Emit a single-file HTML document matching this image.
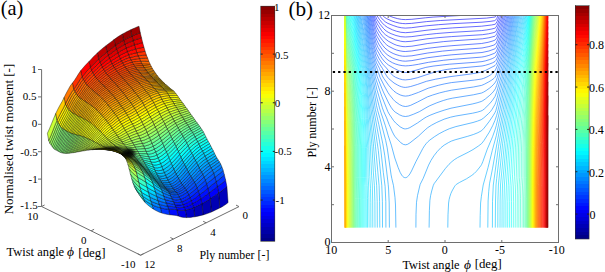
<!DOCTYPE html>
<html><head><meta charset="utf-8"><style>
html,body{margin:0;padding:0;background:#fff;width:605px;height:272px;overflow:hidden}
svg{display:block}
text{font-family:"Liberation Serif", serif;fill:#000}
</style></head><body>
<svg width="605" height="272" viewBox="0 0 605 272" xmlns="http://www.w3.org/2000/svg">
<g stroke="#000" stroke-width="0.4" stroke-linejoin="round"><path d="M150.2 64.3 151.4 66.6 149.3 66.4 147.2 66.1 145.2 65.9 143.1 65.9 141.8 63.8 143.9 63.8 146 63.9 148.1 64.1Z" fill="#ff7500"/><path d="M148.9 61.4 150.2 64.3 148.1 64.1 146 63.9 143.9 63.8 141.8 63.8 140.6 61.3 142.7 61.2 144.8 61.2 146.8 61.3Z" fill="#ff6700"/><path d="M151.4 66.6 152.6 68.8 150.6 68.4 148.5 68.1 146.4 67.9 144.3 67.7 143.1 65.9 145.2 65.9 147.2 66.1 149.3 66.4Z" fill="#ff8100"/><path d="M147.7 58.2 148.9 61.4 146.8 61.3 144.8 61.2 142.7 61.2 140.6 61.3 139.4 58.6 141.4 58.4 143.5 58.3 145.6 58.2Z" fill="#ff5700"/><path d="M146.4 55.1 147.7 58.2 145.6 58.2 143.5 58.3 141.4 58.4 139.4 58.6 138.1 55.9 140.2 55.6 142.3 55.4 144.4 55.2Z" fill="#ff4500"/><path d="M152.6 68.8 153.9 70.7 151.8 70.3 149.7 70 147.6 69.7 145.5 69.5 144.3 67.7 146.4 67.9 148.5 68.1 150.6 68.4Z" fill="#ff8b00"/><path d="M153.9 70.7 155.1 72.5 153 72.1 150.9 71.7 148.9 71.3 146.8 71.1 145.5 69.5 147.6 69.7 149.7 70 151.8 70.3Z" fill="#ff9300"/><path d="M145.2 51.4 146.4 55.1 144.4 55.2 142.3 55.4 140.2 55.6 138.1 55.9 136.9 52.7 139 52.2 141 51.9 143.1 51.6Z" fill="#ff3200"/><path d="M155.1 72.5 156.3 74.3 154.3 73.8 152.2 73.4 150.1 73 148 72.7 146.8 71.1 148.9 71.3 150.9 71.7 153 72.1Z" fill="#ff9c00"/><path d="M144 47.3 145.2 51.4 143.1 51.6 141 51.9 139 52.2 136.9 52.7 135.6 49 137.7 48.5 139.8 48 141.9 47.6Z" fill="#ff1b00"/><path d="M156.3 74.3 157.6 76 155.5 75.4 153.4 75 151.3 74.5 149.3 74.2 148 72.7 150.1 73 152.2 73.4 154.3 73.8Z" fill="#ffa300"/><path d="M157.6 76 158.8 77.5 156.7 77 154.7 76.5 152.6 76 150.5 75.6 149.3 74.2 151.3 74.5 153.4 75 155.5 75.4Z" fill="#ffaa00"/><path d="M142.7 42.7 144 47.3 141.9 47.6 139.8 48 137.7 48.5 135.6 49 134.4 45 136.5 44.3 138.6 43.7 140.7 43.2Z" fill="#ff0000"/><path d="M158.8 77.5 160.1 78.9 158 78.4 155.9 77.8 153.8 77.4 151.7 77 150.5 75.6 152.6 76 154.7 76.5 156.7 77Z" fill="#ffb100"/><path d="M160.1 78.9 161.3 80.2 159.2 79.7 157.1 79.1 155.1 78.7 153 78.3 151.7 77 153.8 77.4 155.9 77.8 158 78.4Z" fill="#ffb600"/><path d="M141.5 37.8 142.7 42.7 140.7 43.2 138.6 43.7 136.5 44.3 134.4 45 133.2 40.7 135.3 39.8 137.3 39.1 139.4 38.5Z" fill="#e20000"/><path d="M161.3 80.2 162.5 81.4 160.5 80.9 158.4 80.3 156.3 79.9 154.2 79.5 153 78.3 155.1 78.7 157.1 79.1 159.2 79.7Z" fill="#ffbb00"/><path d="M162.5 81.4 163.8 82.6 161.7 82 159.6 81.5 157.5 81.1 155.4 80.7 154.2 79.5 156.3 79.9 158.4 80.3 160.5 80.9Z" fill="#ffbf00"/><path d="M140.3 32.8 141.5 37.8 139.4 38.5 137.3 39.1 135.3 39.8 133.2 40.7 131.9 36.1 134 35.1 136.1 34.3 138.2 33.5Z" fill="#c30000"/><path d="M163.8 82.6 165 83.7 162.9 83.2 160.8 82.7 158.8 82.3 156.7 81.9 155.4 80.7 157.5 81.1 159.6 81.5 161.7 82Z" fill="#ffc400"/><path d="M165 83.7 166.2 84.9 164.2 84.4 162.1 83.9 160 83.5 157.9 83.2 156.7 81.9 158.8 82.3 160.8 82.7 162.9 83.2Z" fill="#ffc800"/><path d="M139 26.2 140.3 32.8 138.2 33.5 136.1 34.3 134 35.1 131.9 36.1 130.7 29.8 132.8 28.8 134.9 27.9 136.9 27Z" fill="#9d0000"/><path d="M166.2 84.9 167.5 86 165.4 85.6 163.3 85.2 161.2 84.8 159.2 84.5 157.9 83.2 160 83.5 162.1 83.9 164.2 84.4Z" fill="#ffcd00"/><path d="M167.5 86 168.7 87.1 166.6 86.7 164.6 86.4 162.5 86 160.4 85.8 159.2 84.5 161.2 84.8 163.3 85.2 165.4 85.6Z" fill="#ffd100"/><path d="M168.7 87.1 170 88.2 167.9 87.9 165.8 87.5 163.7 87.3 161.6 87 160.4 85.8 162.5 86 164.6 86.4 166.6 86.7Z" fill="#ffd600"/><path d="M170 88.2 171.2 89.2 169.1 88.9 167 88.7 165 88.4 162.9 88.3 161.6 87 163.7 87.3 165.8 87.5 167.9 87.9Z" fill="#ffda00"/><path d="M139.4 58.6 140.6 61.3 138.5 61.5 136.4 61.7 134.4 61.9 132.3 62.4 131 60 133.1 59.5 135.2 59.1 137.3 58.8Z" fill="#ff3c00"/><path d="M140.6 61.3 141.8 63.8 139.8 63.9 137.7 64 135.6 64.2 133.5 64.5 132.3 62.4 134.4 61.9 136.4 61.7 138.5 61.5Z" fill="#ff4a00"/><path d="M138.1 55.9 139.4 58.6 137.3 58.8 135.2 59.1 133.1 59.5 131 60 129.8 57.7 131.9 57.1 134 56.6 136 56.2Z" fill="#ff2e00"/><path d="M141.8 63.8 143.1 65.9 141 65.9 138.9 65.9 136.8 66 134.7 66.3 133.5 64.5 135.6 64.2 137.7 64 139.8 63.9Z" fill="#ff5600"/><path d="M136.9 52.7 138.1 55.9 136 56.2 134 56.6 131.9 57.1 129.8 57.7 128.6 54.9 130.6 54.2 132.7 53.7 134.8 53.1Z" fill="#ff1e00"/><path d="M143.1 65.9 144.3 67.7 142.2 67.7 140.1 67.7 138.1 67.8 136 68 134.7 66.3 136.8 66 138.9 65.9 141 65.9Z" fill="#ff5f00"/><path d="M171.2 89.2 172.4 90.1 170.4 89.9 168.3 89.7 166.2 89.5 164.1 89.4 162.9 88.3 165 88.4 167 88.7 169.1 88.9Z" fill="#ffdd00"/><path d="M135.6 49 136.9 52.7 134.8 53.1 132.7 53.7 130.6 54.2 128.6 54.9 127.3 51.7 129.4 50.9 131.5 50.2 133.6 49.6Z" fill="#ff0a00"/><path d="M144.3 67.7 145.5 69.5 143.5 69.3 141.4 69.3 139.3 69.3 137.2 69.6 136 68 138.1 67.8 140.1 67.7 142.2 67.7Z" fill="#ff6700"/><path d="M134.4 45 135.6 49 133.6 49.6 131.5 50.2 129.4 50.9 127.3 51.7 126.1 48.2 128.2 47.3 130.2 46.5 132.3 45.7Z" fill="#f20000"/><path d="M172.4 90.1 173.7 91 171.6 90.9 169.5 90.8 167.4 90.7 165.3 90.6 164.1 89.4 166.2 89.5 168.3 89.7 170.4 89.9Z" fill="#ffe000"/><path d="M145.5 69.5 146.8 71.1 144.7 70.9 142.6 70.8 140.5 70.8 138.5 71 137.2 69.6 139.3 69.3 141.4 69.3 143.5 69.3Z" fill="#ff6f00"/><path d="M226.9 186.5 228.1 202.6 226 204.2 224 205.6 221.9 206.9 219.8 207.9 218.6 193 220.6 191.6 222.7 190.1 224.8 188.3Z" fill="#0000bc"/><path d="M146.8 71.1 148 72.7 145.9 72.4 143.9 72.3 141.8 72.3 139.7 72.5 138.5 71 140.5 70.8 142.6 70.8 144.7 70.9Z" fill="#ff7600"/><path d="M173.7 91 174.9 92.2 172.8 92.2 170.7 92.1 168.7 92.1 166.6 92 165.3 90.6 167.4 90.7 169.5 90.8 171.6 90.9Z" fill="#ffe500"/><path d="M133.2 40.7 134.4 45 132.3 45.7 130.2 46.5 128.2 47.3 126.1 48.2 124.8 44.3 126.9 43.3 129 42.4 131.1 41.5Z" fill="#d90000"/><path d="M148 72.7 149.3 74.2 147.2 73.9 145.1 73.8 143 73.8 140.9 73.9 139.7 72.5 141.8 72.3 143.9 72.3 145.9 72.4Z" fill="#ff7c00"/><path d="M174.9 92.2 176.1 93.8 174.1 93.8 172 93.8 169.9 93.8 167.8 93.8 166.6 92 168.7 92.1 170.7 92.1 172.8 92.2Z" fill="#ffeb00"/><path d="M176.1 93.8 177.4 95.5 175.3 95.6 173.2 95.7 171.1 95.7 169.1 95.8 167.8 93.8 169.9 93.8 172 93.8 174.1 93.8Z" fill="#fff400"/><path d="M149.3 74.2 150.5 75.6 148.4 75.4 146.3 75.2 144.3 75.2 142.2 75.3 140.9 73.9 143 73.8 145.1 73.8 147.2 73.9Z" fill="#ff8300"/><path d="M131.9 36.1 133.2 40.7 131.1 41.5 129 42.4 126.9 43.3 124.8 44.3 123.6 40.2 125.7 39.1 127.8 38.1 129.9 37.1Z" fill="#be0000"/><path d="M177.4 95.5 178.6 97.3 176.5 97.5 174.5 97.6 172.4 97.7 170.3 97.9 169.1 95.8 171.1 95.7 173.2 95.7 175.3 95.6Z" fill="#fffe00"/><path d="M178.6 97.3 179.9 99.1 177.8 99.3 175.7 99.5 173.6 99.6 171.5 99.8 170.3 97.9 172.4 97.7 174.5 97.6 176.5 97.5Z" fill="#f7ff08"/><path d="M150.5 75.6 151.7 77 149.7 76.7 147.6 76.6 145.5 76.5 143.4 76.6 142.2 75.3 144.3 75.2 146.3 75.2 148.4 75.4Z" fill="#ff8800"/><path d="M179.9 99.1 181.1 100.7 179 101 176.9 101.2 174.9 101.5 172.8 101.7 171.5 99.8 173.6 99.6 175.7 99.5 177.8 99.3Z" fill="#edff12"/><path d="M151.7 77 153 78.3 150.9 78 148.8 77.8 146.7 77.8 144.6 77.9 143.4 76.6 145.5 76.5 147.6 76.6 149.7 76.7Z" fill="#ff8e00"/><path d="M181.1 100.7 182.3 102.4 180.3 102.7 178.2 103 176.1 103.3 174 103.7 172.8 101.7 174.9 101.5 176.9 101.2 179 101Z" fill="#e5ff1a"/><path d="M182.3 102.4 183.6 104 181.5 104.4 179.4 104.8 177.3 105.2 175.2 105.6 174 103.7 176.1 103.3 178.2 103 180.3 102.7Z" fill="#dcff23"/><path d="M130.7 29.8 131.9 36.1 129.9 37.1 127.8 38.1 125.7 39.1 123.6 40.2 122.4 34 124.5 32.9 126.5 31.8 128.6 30.8Z" fill="#9a0000"/><path d="M153 78.3 154.2 79.5 152.1 79.2 150 79.1 148 79 145.9 79.2 144.6 77.9 146.7 77.8 148.8 77.8 150.9 78Z" fill="#ff9300"/><path d="M183.6 104 184.8 105.7 182.7 106.2 180.6 106.6 178.6 107.1 176.5 107.5 175.2 105.6 177.3 105.2 179.4 104.8 181.5 104.4Z" fill="#d3ff2c"/><path d="M184.8 105.7 186 107.4 184 107.9 181.9 108.5 179.8 109 177.7 109.5 176.5 107.5 178.6 107.1 180.6 106.6 182.7 106.2Z" fill="#caff35"/><path d="M154.2 79.5 155.4 80.7 153.4 80.4 151.3 80.3 149.2 80.3 147.1 80.4 145.9 79.2 148 79 150 79.1 152.1 79.2Z" fill="#ff9700"/><path d="M186 107.4 187.3 109.1 185.2 109.7 183.1 110.3 181 110.9 179 111.5 177.7 109.5 179.8 109 181.9 108.5 184 107.9Z" fill="#c0ff3f"/><path d="M187.3 109.1 188.5 110.9 186.4 111.5 184.4 112.2 182.3 112.8 180.2 113.5 179 111.5 181 110.9 183.1 110.3 185.2 109.7Z" fill="#b7ff48"/><path d="M155.4 80.7 156.7 81.9 154.6 81.7 152.5 81.6 150.4 81.6 148.4 81.7 147.1 80.4 149.2 80.3 151.3 80.3 153.4 80.4Z" fill="#ff9c00"/><path d="M225.6 179.9 226.9 186.5 224.8 188.3 222.7 190.1 220.6 191.6 218.6 193 217.3 186.7 219.4 185.2 221.5 183.6 223.6 181.8Z" fill="#000cff"/><path d="M188.5 110.9 189.8 112.6 187.7 113.4 185.6 114.1 183.5 114.8 181.4 115.5 180.2 113.5 182.3 112.8 184.4 112.2 186.4 111.5Z" fill="#adff52"/><path d="M189.8 112.6 191 114.4 188.9 115.2 186.8 116 184.8 116.7 182.7 117.4 181.4 115.5 183.5 114.8 185.6 114.1 187.7 113.4Z" fill="#a4ff5b"/><path d="M156.7 81.9 157.9 83.2 155.8 83 153.8 82.9 151.7 82.9 149.6 83.1 148.4 81.7 150.4 81.6 152.5 81.6 154.6 81.7Z" fill="#ffa100"/><path d="M191 114.4 192.2 116.1 190.2 117 188.1 117.8 186 118.6 183.9 119.4 182.7 117.4 184.8 116.7 186.8 116 188.9 115.2Z" fill="#9aff65"/><path d="M192.2 116.1 193.5 117.8 191.4 118.7 189.3 119.6 187.2 120.5 185.1 121.3 183.9 119.4 186 118.6 188.1 117.8 190.2 117Z" fill="#91ff6e"/><path d="M157.9 83.2 159.2 84.5 157.1 84.3 155 84.2 152.9 84.3 150.8 84.5 149.6 83.1 151.7 82.9 153.8 82.9 155.8 83Z" fill="#ffa700"/><path d="M193.5 117.8 194.7 119.5 192.6 120.5 190.5 121.4 188.5 122.3 186.4 123.2 185.1 121.3 187.2 120.5 189.3 119.6 191.4 118.7Z" fill="#88ff77"/><path d="M128.6 54.9 129.8 57.7 127.7 58.4 125.6 59.2 123.6 60.2 121.5 61.2 120.2 58.8 122.3 57.7 124.4 56.6 126.5 55.7Z" fill="#ff1300"/><path d="M218.6 193 219.8 207.9 217.7 209 215.6 210 213.6 211 211.5 212 210.2 198.7 212.3 197.3 214.4 195.9 216.5 194.4Z" fill="#0000b3"/><path d="M129.8 57.7 131 60 129 60.6 126.9 61.4 124.8 62.2 122.7 63.2 121.5 61.2 123.6 60.2 125.6 59.2 127.7 58.4Z" fill="#ff2100"/><path d="M194.7 119.5 195.9 121.2 193.9 122.2 191.8 123.2 189.7 124.2 187.6 125.1 186.4 123.2 188.5 122.3 190.5 121.4 192.6 120.5Z" fill="#7fff80"/><path d="M224.4 174.9 225.6 179.9 223.6 181.8 221.5 183.6 219.4 185.2 217.3 186.7 216.1 181.7 218.2 180.2 220.2 178.6 222.3 176.8Z" fill="#0032ff"/><path d="M159.2 84.5 160.4 85.8 158.3 85.6 156.2 85.6 154.2 85.7 152.1 85.9 150.8 84.5 152.9 84.3 155 84.2 157.1 84.3Z" fill="#ffac00"/><path d="M131 60 132.3 62.4 130.2 62.9 128.1 63.6 126 64.4 123.9 65.3 122.7 63.2 124.8 62.2 126.9 61.4 129 60.6Z" fill="#ff2d00"/><path d="M127.3 51.7 128.6 54.9 126.5 55.7 124.4 56.6 122.3 57.7 120.2 58.8 119 56 121.1 54.7 123.2 53.6 125.2 52.6Z" fill="#ff0300"/><path d="M132.3 62.4 133.5 64.5 131.4 65 129.3 65.6 127.3 66.4 125.2 67.2 123.9 65.3 126 64.4 128.1 63.6 130.2 62.9Z" fill="#ff3800"/><path d="M195.9 121.2 197.2 122.9 195.1 124 193 125 190.9 126 188.9 127 187.6 125.1 189.7 124.2 191.8 123.2 193.9 122.2Z" fill="#76ff89"/><path d="M126.1 48.2 127.3 51.7 125.2 52.6 123.2 53.6 121.1 54.7 119 56 117.8 52.8 119.8 51.5 121.9 50.3 124 49.2Z" fill="#ee0000"/><path d="M133.5 64.5 134.7 66.3 132.7 66.8 130.6 67.4 128.5 68 126.4 68.9 125.2 67.2 127.3 66.4 129.3 65.6 131.4 65Z" fill="#ff4200"/><path d="M160.4 85.8 161.6 87 159.6 86.9 157.5 86.9 155.4 87 153.3 87.3 152.1 85.9 154.2 85.7 156.2 85.6 158.3 85.6Z" fill="#ffb200"/><path d="M197.2 122.9 198.4 124.6 196.3 125.7 194.3 126.8 192.2 127.9 190.1 128.9 188.9 127 190.9 126 193 125 195.1 124Z" fill="#6dff92"/><path d="M134.7 66.3 136 68 133.9 68.4 131.8 69 129.7 69.6 127.7 70.4 126.4 68.9 128.5 68 130.6 67.4 132.7 66.8Z" fill="#ff4a00"/><path d="M198.4 124.6 199.7 126.3 197.6 127.4 195.5 128.6 193.4 129.6 191.3 130.7 190.1 128.9 192.2 127.9 194.3 126.8 196.3 125.7Z" fill="#64ff9b"/><path d="M124.8 44.3 126.1 48.2 124 49.2 121.9 50.3 119.8 51.5 117.8 52.8 116.5 49.4 118.6 48 120.7 46.7 122.8 45.5Z" fill="#d90000"/><path d="M161.6 87 162.9 88.3 160.8 88.2 158.7 88.2 156.6 88.4 154.5 88.7 153.3 87.3 155.4 87 157.5 86.9 159.6 86.9Z" fill="#ffb700"/><path d="M223.2 170.4 224.4 174.9 222.3 176.8 220.2 178.6 218.2 180.2 216.1 181.7 214.8 177.2 216.9 175.7 219 174.1 221.1 172.3Z" fill="#0051ff"/><path d="M199.7 126.3 200.9 128 198.8 129.2 196.7 130.4 194.7 131.5 192.6 132.6 191.3 130.7 193.4 129.6 195.5 128.6 197.6 127.4Z" fill="#5cffa3"/><path d="M136 68 137.2 69.6 135.1 69.9 133.1 70.4 131 71.1 128.9 71.9 127.7 70.4 129.7 69.6 131.8 69 133.9 68.4Z" fill="#ff5100"/><path d="M200.9 128 202.1 129.9 200.1 131.1 198 132.3 195.9 133.4 193.8 134.6 192.6 132.6 194.7 131.5 196.7 130.4 198.8 129.2Z" fill="#52ffad"/><path d="M123.6 40.2 124.8 44.3 122.8 45.5 120.7 46.7 118.6 48 116.5 49.4 115.3 45.7 117.4 44.2 119.4 42.8 121.5 41.5Z" fill="#c10000"/><path d="M162.9 88.3 164.1 89.4 162 89.4 159.9 89.5 157.9 89.7 155.8 90.1 154.5 88.7 156.6 88.4 158.7 88.2 160.8 88.2Z" fill="#ffbc00"/><path d="M202.1 129.9 203.4 131.9 201.3 133.2 199.2 134.4 197.1 135.6 195 136.8 193.8 134.6 195.9 133.4 198 132.3 200.1 131.1Z" fill="#47ffb8"/><path d="M137.2 69.6 138.5 71 136.4 71.4 134.3 71.9 132.2 72.5 130.1 73.3 128.9 71.9 131 71.1 133.1 70.4 135.1 69.9Z" fill="#ff5700"/><path d="M203.4 131.9 204.6 134.3 202.5 135.5 200.4 136.8 198.4 138 196.3 139.2 195 136.8 197.1 135.6 199.2 134.4 201.3 133.2Z" fill="#3bffc4"/><path d="M205.8 136.7 207.1 139.2 205 140.5 202.9 141.7 200.8 142.9 198.8 144.2 197.5 141.7 199.6 140.5 201.7 139.3 203.8 138Z" fill="#1fffe0"/><path d="M204.6 134.3 205.8 136.7 203.8 138 201.7 139.3 199.6 140.5 197.5 141.7 196.3 139.2 198.4 138 200.4 136.8 202.5 135.5Z" fill="#2dffd2"/><path d="M207.1 139.2 208.3 141.5 206.2 142.8 204.2 144 202.1 145.3 200 146.5 198.8 144.2 200.8 142.9 202.9 141.7 205 140.5Z" fill="#12ffed"/><path d="M208.3 141.5 209.6 143.7 207.5 145 205.4 146.3 203.3 147.6 201.2 148.8 200 146.5 202.1 145.3 204.2 144 206.2 142.8Z" fill="#05fffa"/><path d="M221.9 166.8 223.2 170.4 221.1 172.3 219 174.1 216.9 175.7 214.8 177.2 213.6 173.4 215.7 171.9 217.8 170.3 219.9 168.6Z" fill="#006cff"/><path d="M209.6 143.7 210.8 146 208.7 147.3 206.6 148.6 204.6 149.9 202.5 151.1 201.2 148.8 203.3 147.6 205.4 146.3 207.5 145Z" fill="#00f7ff"/><path d="M214.5 153.3 215.7 155.7 213.7 157.1 211.6 158.5 209.5 159.8 207.4 161.1 206.2 158.6 208.3 157.3 210.3 156 212.4 154.7Z" fill="#00c0ff"/><path d="M215.7 155.7 217 158 214.9 159.4 212.8 160.8 210.7 162.2 208.7 163.4 207.4 161.1 209.5 159.8 211.6 158.5 213.7 157.1Z" fill="#00b3ff"/><path d="M213.3 150.8 214.5 153.3 212.4 154.7 210.3 156 208.3 157.3 206.2 158.6 204.9 156 207 154.8 209.1 153.5 211.2 152.1Z" fill="#00ceff"/><path d="M210.8 146 212 148.3 210 149.7 207.9 151 205.8 152.3 203.7 153.5 202.5 151.1 204.6 149.9 206.6 148.6 208.7 147.3Z" fill="#00eaff"/><path d="M212 148.3 213.3 150.8 211.2 152.1 209.1 153.5 207 154.8 204.9 156 203.7 153.5 205.8 152.3 207.9 151 210 149.7Z" fill="#00ddff"/><path d="M217 158 218.2 160 216.1 161.5 214.1 162.9 212 164.3 209.9 165.6 208.7 163.4 210.7 162.2 212.8 160.8 214.9 159.4Z" fill="#00a7ff"/><path d="M164.1 89.4 165.3 90.6 163.3 90.6 161.2 90.8 159.1 91 157 91.5 155.8 90.1 157.9 89.7 159.9 89.5 162 89.4Z" fill="#ffc100"/><path d="M138.5 71 139.7 72.5 137.6 72.8 135.5 73.3 133.5 73.9 131.4 74.7 130.1 73.3 132.2 72.5 134.3 71.9 136.4 71.4Z" fill="#ff5e00"/><path d="M218.2 160 219.5 161.9 217.4 163.5 215.3 165 213.2 166.5 211.1 167.8 209.9 165.6 212 164.3 214.1 162.9 216.1 161.5Z" fill="#009bff"/><path d="M220.7 164.1 221.9 166.8 219.9 168.6 217.8 170.3 215.7 171.9 213.6 173.4 212.4 170.4 214.5 168.9 216.5 167.4 218.6 165.8Z" fill="#0080ff"/><path d="M219.5 161.9 220.7 164.1 218.6 165.8 216.5 167.4 214.5 168.9 212.4 170.4 211.1 167.8 213.2 166.5 215.3 165 217.4 163.5Z" fill="#008fff"/><path d="M165.3 90.6 166.6 92 164.5 92.1 162.4 92.3 160.3 92.6 158.3 93.1 157 91.5 159.1 91 161.2 90.8 163.3 90.6Z" fill="#ffc700"/><path d="M139.7 72.5 140.9 73.9 138.9 74.2 136.8 74.7 134.7 75.3 132.6 76.1 131.4 74.7 133.5 73.9 135.5 73.3 137.6 72.8Z" fill="#ff6400"/><path d="M122.4 34 123.6 40.2 121.5 41.5 119.4 42.8 117.4 44.2 115.3 45.7 114 39.6 116.1 38.1 118.2 36.6 120.3 35.3Z" fill="#9f0000"/><path d="M166.6 92 167.8 93.8 165.7 94 163.7 94.2 161.6 94.6 159.5 95 158.3 93.1 160.3 92.6 162.4 92.3 164.5 92.1Z" fill="#ffd000"/><path d="M140.9 73.9 142.2 75.3 140.1 75.6 138 76.1 135.9 76.7 133.8 77.5 132.6 76.1 134.7 75.3 136.8 74.7 138.9 74.2Z" fill="#ff6a00"/><path d="M167.8 93.8 169.1 95.8 167 96 164.9 96.3 162.8 96.7 160.7 97.2 159.5 95 161.6 94.6 163.7 94.2 165.7 94Z" fill="#ffda00"/><path d="M169.1 95.8 170.3 97.9 168.2 98.1 166.1 98.4 164.1 98.8 162 99.4 160.7 97.2 162.8 96.7 164.9 96.3 167 96Z" fill="#ffe500"/><path d="M217.3 186.7 218.6 193 216.5 194.4 214.4 195.9 212.3 197.3 210.2 198.7 209 192.9 211.1 191.4 213.2 189.8 215.2 188.2Z" fill="#0000fb"/><path d="M170.3 97.9 171.5 99.8 169.5 100.1 167.4 100.5 165.3 101 163.2 101.6 162 99.4 164.1 98.8 166.1 98.4 168.2 98.1Z" fill="#fff000"/><path d="M142.2 75.3 143.4 76.6 141.3 76.9 139.2 77.4 137.2 78 135.1 78.8 133.8 77.5 135.9 76.7 138 76.1 140.1 75.6Z" fill="#ff6f00"/><path d="M171.5 99.8 172.8 101.7 170.7 102.1 168.6 102.5 166.5 103 164.4 103.7 163.2 101.6 165.3 101 167.4 100.5 169.5 100.1Z" fill="#fffb00"/><path d="M172.8 101.7 174 103.7 171.9 104.1 169.8 104.5 167.8 105.1 165.7 105.8 164.4 103.7 166.5 103 168.6 102.5 170.7 102.1Z" fill="#f8ff07"/><path d="M174 103.7 175.2 105.6 173.2 106 171.1 106.6 169 107.2 166.9 107.9 165.7 105.8 167.8 105.1 169.8 104.5 171.9 104.1Z" fill="#eeff11"/><path d="M143.4 76.6 144.6 77.9 142.6 78.2 140.5 78.7 138.4 79.3 136.3 80.1 135.1 78.8 137.2 78 139.2 77.4 141.3 76.9Z" fill="#ff7500"/><path d="M175.2 105.6 176.5 107.5 174.4 108 172.3 108.6 170.2 109.3 168.2 110.1 166.9 107.9 169 107.2 171.1 106.6 173.2 106Z" fill="#e3ff1c"/><path d="M176.5 107.5 177.7 109.5 175.6 110.1 173.6 110.7 171.5 111.5 169.4 112.3 168.2 110.1 170.2 109.3 172.3 108.6 174.4 108Z" fill="#d8ff27"/><path d="M177.7 109.5 179 111.5 176.9 112.1 174.8 112.8 172.7 113.6 170.6 114.5 169.4 112.3 171.5 111.5 173.6 110.7 175.6 110.1Z" fill="#cdff32"/><path d="M144.6 77.9 145.9 79.2 143.8 79.5 141.7 80 139.6 80.6 137.6 81.4 136.3 80.1 138.4 79.3 140.5 78.7 142.6 78.2Z" fill="#ff7a00"/><path d="M179 111.5 180.2 113.5 178.1 114.2 176 114.9 174 115.8 171.9 116.8 170.6 114.5 172.7 113.6 174.8 112.8 176.9 112.1Z" fill="#c1ff3e"/><path d="M216.1 181.7 217.3 186.7 215.2 188.2 213.2 189.8 211.1 191.4 209 192.9 207.8 188.3 209.8 186.6 211.9 184.9 214 183.3Z" fill="#0020ff"/><path d="M180.2 113.5 181.4 115.5 179.4 116.2 177.3 117.1 175.2 118 173.1 119 171.9 116.8 174 115.8 176 114.9 178.1 114.2Z" fill="#b6ff49"/><path d="M181.4 115.5 182.7 117.4 180.6 118.2 178.5 119.2 176.4 120.1 174.3 121.2 173.1 119 175.2 118 177.3 117.1 179.4 116.2Z" fill="#abff54"/><path d="M145.9 79.2 147.1 80.4 145 80.8 143 81.3 140.9 81.9 138.8 82.8 137.6 81.4 139.6 80.6 141.7 80 143.8 79.5Z" fill="#ff7f00"/><path d="M182.7 117.4 183.9 119.4 181.8 120.3 179.7 121.2 177.7 122.3 175.6 123.4 174.3 121.2 176.4 120.1 178.5 119.2 180.6 118.2Z" fill="#9fff60"/><path d="M183.9 119.4 185.1 121.3 183.1 122.2 181 123.3 178.9 124.4 176.8 125.6 175.6 123.4 177.7 122.3 179.7 121.2 181.8 120.3Z" fill="#94ff6b"/><path d="M185.1 121.3 186.4 123.2 184.3 124.2 182.2 125.3 180.1 126.5 178.1 127.8 176.8 125.6 178.9 124.4 181 123.3 183.1 122.2Z" fill="#89ff76"/><path d="M210.2 198.7 211.5 212 209.4 212.8 207.3 213.6 205.2 214.3 203.1 214.9 201.9 203.5 204 202.5 206.1 201.3 208.2 200Z" fill="#0000b2"/><path d="M120.2 58.8 121.5 61.2 119.4 62.4 117.3 63.5 115.2 64.7 113.1 65.9 111.9 63.8 114 62.5 116.1 61.2 118.2 60Z" fill="#ff1400"/><path d="M119 56 120.2 58.8 118.2 60 116.1 61.2 114 62.5 111.9 63.8 110.7 61.2 112.8 59.9 114.8 58.6 116.9 57.3Z" fill="#ff0600"/><path d="M147.1 80.4 148.4 81.7 146.3 82.1 144.2 82.6 142.1 83.3 140 84.1 138.8 82.8 140.9 81.9 143 81.3 145 80.8Z" fill="#ff8400"/><path d="M186.4 123.2 187.6 125.1 185.5 126.2 183.5 127.3 181.4 128.6 179.3 130 178.1 127.8 180.1 126.5 182.2 125.3 184.3 124.2Z" fill="#7fff80"/><path d="M214.8 177.2 216.1 181.7 214 183.3 211.9 184.9 209.8 186.6 207.8 188.3 206.5 184 208.6 182.2 210.7 180.5 212.8 178.8Z" fill="#003eff"/><path d="M121.5 61.2 122.7 63.2 120.6 64.3 118.5 65.4 116.5 66.5 114.4 67.7 113.1 65.9 115.2 64.7 117.3 63.5 119.4 62.4Z" fill="#ff1f00"/><path d="M117.8 52.8 119 56 116.9 57.3 114.8 58.6 112.8 59.9 110.7 61.2 109.4 58.4 111.5 57 113.6 55.6 115.7 54.2Z" fill="#f40000"/><path d="M187.6 125.1 188.9 127 186.8 128.1 184.7 129.3 182.6 130.7 180.5 132.2 179.3 130 181.4 128.6 183.5 127.3 185.5 126.2Z" fill="#74ff8b"/><path d="M122.7 63.2 123.9 65.3 121.9 66.3 119.8 67.3 117.7 68.4 115.6 69.5 114.4 67.7 116.5 66.5 118.5 65.4 120.6 64.3Z" fill="#ff2900"/><path d="M116.5 49.4 117.8 52.8 115.7 54.2 113.6 55.6 111.5 57 109.4 58.4 108.2 55.4 110.3 53.8 112.4 52.3 114.4 50.9Z" fill="#e10000"/><path d="M188.9 127 190.1 128.9 188 130 185.9 131.3 183.9 132.7 181.8 134.3 180.5 132.2 182.6 130.7 184.7 129.3 186.8 128.1Z" fill="#69ff96"/><path d="M148.4 81.7 149.6 83.1 147.5 83.5 145.4 84 143.4 84.7 141.3 85.6 140 84.1 142.1 83.3 144.2 82.6 146.3 82.1Z" fill="#ff8a00"/><path d="M123.9 65.3 125.2 67.2 123.1 68.2 121 69.2 118.9 70.2 116.9 71.3 115.6 69.5 117.7 68.4 119.8 67.3 121.9 66.3Z" fill="#ff3300"/><path d="M190.1 128.9 191.3 130.7 189.3 131.9 187.2 133.3 185.1 134.8 183 136.4 181.8 134.3 183.9 132.7 185.9 131.3 188 130Z" fill="#5fffa0"/><path d="M213.6 173.4 214.8 177.2 212.8 178.8 210.7 180.5 208.6 182.2 206.5 184 205.3 180.2 207.4 178.4 209.4 176.7 211.5 175Z" fill="#0059ff"/><path d="M115.3 45.7 116.5 49.4 114.4 50.9 112.4 52.3 110.3 53.8 108.2 55.4 107 51.9 109 50.3 111.1 48.8 113.2 47.2Z" fill="#cc0000"/><path d="M191.3 130.7 192.6 132.6 190.5 133.8 188.4 135.3 186.3 136.8 184.2 138.5 183 136.4 185.1 134.8 187.2 133.3 189.3 131.9Z" fill="#54ffab"/><path d="M125.2 67.2 126.4 68.9 124.3 69.8 122.3 70.8 120.2 71.8 118.1 72.8 116.9 71.3 118.9 70.2 121 69.2 123.1 68.2Z" fill="#ff3b00"/><path d="M149.6 83.1 150.8 84.5 148.8 84.9 146.7 85.5 144.6 86.2 142.5 87.1 141.3 85.6 143.4 84.7 145.4 84 147.5 83.5Z" fill="#ff9000"/><path d="M192.6 132.6 193.8 134.6 191.7 135.9 189.6 137.3 187.6 139 185.5 140.7 184.2 138.5 186.3 136.8 188.4 135.3 190.5 133.8Z" fill="#4affb5"/><path d="M198.8 144.2 200 146.5 197.9 147.9 195.8 149.5 193.8 151.3 191.7 153.3 190.4 150.8 192.5 148.9 194.6 147.1 196.7 145.5Z" fill="#05fffa"/><path d="M197.5 141.7 198.8 144.2 196.7 145.5 194.6 147.1 192.5 148.9 190.4 150.8 189.2 148.3 191.3 146.4 193.4 144.6 195.4 143.1Z" fill="#13ffec"/><path d="M193.8 134.6 195 136.8 193 138.1 190.9 139.6 188.8 141.3 186.7 143.1 185.5 140.7 187.6 139 189.6 137.3 191.7 135.9Z" fill="#3effc1"/><path d="M200 146.5 201.2 148.8 199.2 150.2 197.1 151.9 195 153.7 192.9 155.6 191.7 153.3 193.8 151.3 195.8 149.5 197.9 147.9Z" fill="#00f7ff"/><path d="M196.3 139.2 197.5 141.7 195.4 143.1 193.4 144.6 191.3 146.4 189.2 148.3 188 145.6 190 143.8 192.1 142.1 194.2 140.5Z" fill="#22ffdd"/><path d="M195 136.8 196.3 139.2 194.2 140.5 192.1 142.1 190 143.8 188 145.6 186.7 143.1 188.8 141.3 190.9 139.6 193 138.1Z" fill="#30ffcf"/><path d="M206.2 158.6 207.4 161.1 205.3 162.5 203.3 164.1 201.2 165.9 199.1 167.7 197.9 165.3 199.9 163.4 202 161.6 204.1 160Z" fill="#00b2ff"/><path d="M201.2 148.8 202.5 151.1 200.4 152.6 198.3 154.2 196.2 156 194.1 158 192.9 155.6 195 153.7 197.1 151.9 199.2 150.2Z" fill="#00eaff"/><path d="M207.4 161.1 208.7 163.4 206.6 164.9 204.5 166.4 202.4 168.2 200.3 170 199.1 167.7 201.2 165.9 203.3 164.1 205.3 162.5Z" fill="#00a5ff"/><path d="M204.9 156 206.2 158.6 204.1 160 202 161.6 199.9 163.4 197.9 165.3 196.6 162.8 198.7 160.9 200.8 159.1 202.9 157.5Z" fill="#00c1ff"/><path d="M212.4 170.4 213.6 173.4 211.5 175 209.4 176.7 207.4 178.4 205.3 180.2 204 177.1 206.1 175.3 208.2 173.5 210.3 171.9Z" fill="#006eff"/><path d="M202.5 151.1 203.7 153.5 201.6 155 199.5 156.6 197.5 158.4 195.4 160.4 194.1 158 196.2 156 198.3 154.2 200.4 152.6Z" fill="#00ddff"/><path d="M203.7 153.5 204.9 156 202.9 157.5 200.8 159.1 198.7 160.9 196.6 162.8 195.4 160.4 197.5 158.4 199.5 156.6 201.6 155Z" fill="#00cfff"/><path d="M126.4 68.9 127.7 70.4 125.6 71.3 123.5 72.3 121.4 73.3 119.3 74.3 118.1 72.8 120.2 71.8 122.3 70.8 124.3 69.8Z" fill="#ff4200"/><path d="M208.7 163.4 209.9 165.6 207.8 167 205.7 168.6 203.7 170.4 201.6 172.2 200.3 170 202.4 168.2 204.5 166.4 206.6 164.9Z" fill="#0099ff"/><path d="M150.8 84.5 152.1 85.9 150 86.4 147.9 87 145.8 87.7 143.7 88.6 142.5 87.1 144.6 86.2 146.7 85.5 148.8 84.9Z" fill="#ff9700"/><path d="M209.9 165.6 211.1 167.8 209.1 169.3 207 170.9 204.9 172.6 202.8 174.5 201.6 172.2 203.7 170.4 205.7 168.6 207.8 167Z" fill="#008dff"/><path d="M211.1 167.8 212.4 170.4 210.3 171.9 208.2 173.5 206.1 175.3 204 177.1 202.8 174.5 204.9 172.6 207 170.9 209.1 169.3Z" fill="#007fff"/><path d="M127.7 70.4 128.9 71.9 126.8 72.8 124.7 73.7 122.7 74.7 120.6 75.7 119.3 74.3 121.4 73.3 123.5 72.3 125.6 71.3Z" fill="#ff4900"/><path d="M152.1 85.9 153.3 87.3 151.2 87.8 149.1 88.4 147.1 89.2 145 90.1 143.7 88.6 145.8 87.7 147.9 87 150 86.4Z" fill="#ff9d00"/><path d="M114 39.6 115.3 45.7 113.2 47.2 111.1 48.8 109 50.3 107 51.9 105.7 45.9 107.8 44.3 109.9 42.7 112 41.2Z" fill="#ac0000"/><path d="M128.9 71.9 130.1 73.3 128.1 74.1 126 75.1 123.9 76 121.8 77.1 120.6 75.7 122.7 74.7 124.7 73.7 126.8 72.8Z" fill="#ff4f00"/><path d="M153.3 87.3 154.5 88.7 152.5 89.2 150.4 89.9 148.3 90.7 146.2 91.6 145 90.1 147.1 89.2 149.1 88.4 151.2 87.8Z" fill="#ffa400"/><path d="M130.1 73.3 131.4 74.7 129.3 75.5 127.2 76.4 125.1 77.4 123 78.4 121.8 77.1 123.9 76 126 75.1 128.1 74.1Z" fill="#ff5400"/><path d="M209 192.9 210.2 198.7 208.2 200 206.1 201.3 204 202.5 201.9 203.5 200.7 198.8 202.8 197.4 204.8 196 206.9 194.5Z" fill="#0000f0"/><path d="M154.5 88.7 155.8 90.1 153.7 90.6 151.6 91.3 149.5 92.1 147.5 93.1 146.2 91.6 148.3 90.7 150.4 89.9 152.5 89.2Z" fill="#ffaa00"/><path d="M131.4 74.7 132.6 76.1 130.5 76.9 128.4 77.8 126.4 78.8 124.3 79.9 123 78.4 125.1 77.4 127.2 76.4 129.3 75.5Z" fill="#ff5a00"/><path d="M155.8 90.1 157 91.5 154.9 92 152.9 92.8 150.8 93.6 148.7 94.6 147.5 93.1 149.5 92.1 151.6 91.3 153.7 90.6Z" fill="#ffb000"/><path d="M157 91.5 158.3 93.1 156.2 93.7 154.1 94.5 152 95.3 149.9 96.3 148.7 94.6 150.8 93.6 152.9 92.8 154.9 92Z" fill="#ffb700"/><path d="M132.6 76.1 133.8 77.5 131.8 78.3 129.7 79.3 127.6 80.2 125.5 81.3 124.3 79.9 126.4 78.8 128.4 77.8 130.5 76.9Z" fill="#ff6000"/><path d="M207.8 188.3 209 192.9 206.9 194.5 204.8 196 202.8 197.4 200.7 198.8 199.4 194.8 201.5 193.3 203.6 191.7 205.7 190Z" fill="#0010ff"/><path d="M158.3 93.1 159.5 95 157.4 95.7 155.3 96.5 153.3 97.4 151.2 98.4 149.9 96.3 152 95.3 154.1 94.5 156.2 93.7Z" fill="#ffc000"/><path d="M159.5 95 160.7 97.2 158.7 97.9 156.6 98.6 154.5 99.5 152.4 100.6 151.2 98.4 153.3 97.4 155.3 96.5 157.4 95.7Z" fill="#ffcc00"/><path d="M133.8 77.5 135.1 78.8 133 79.7 130.9 80.6 128.8 81.6 126.8 82.7 125.5 81.3 127.6 80.2 129.7 79.3 131.8 78.3Z" fill="#ff6600"/><path d="M160.7 97.2 162 99.4 159.9 100.1 157.8 100.9 155.7 101.8 153.6 102.8 152.4 100.6 154.5 99.5 156.6 98.6 158.7 97.9Z" fill="#ffd800"/><path d="M162 99.4 163.2 101.6 161.1 102.3 159 103.1 157 104.1 154.9 105.1 153.6 102.8 155.7 101.8 157.8 100.9 159.9 100.1Z" fill="#ffe400"/><path d="M163.2 101.6 164.4 103.7 162.4 104.4 160.3 105.3 158.2 106.3 156.1 107.3 154.9 105.1 157 104.1 159 103.1 161.1 102.3Z" fill="#fff000"/><path d="M164.4 103.7 165.7 105.8 163.6 106.6 161.5 107.5 159.4 108.5 157.4 109.6 156.1 107.3 158.2 106.3 160.3 105.3 162.4 104.4Z" fill="#fffc00"/><path d="M206.5 184 207.8 188.3 205.7 190 203.6 191.7 201.5 193.3 199.4 194.8 198.2 191.1 200.3 189.4 202.4 187.6 204.4 185.8Z" fill="#002bff"/><path d="M165.7 105.8 166.9 107.9 164.8 108.8 162.8 109.8 160.7 110.8 158.6 111.9 157.4 109.6 159.4 108.5 161.5 107.5 163.6 106.6Z" fill="#f6ff09"/><path d="M135.1 78.8 136.3 80.1 134.2 81 132.2 82 130.1 83 128 84.1 126.8 82.7 128.8 81.6 130.9 80.6 133 79.7Z" fill="#ff6c00"/><path d="M166.9 107.9 168.2 110.1 166.1 111 164 112 161.9 113.1 159.8 114.2 158.6 111.9 160.7 110.8 162.8 109.8 164.8 108.8Z" fill="#eaff15"/><path d="M168.2 110.1 169.4 112.3 167.3 113.3 165.2 114.3 163.2 115.4 161.1 116.6 159.8 114.2 161.9 113.1 164 112 166.1 111Z" fill="#ddff22"/><path d="M169.4 112.3 170.6 114.5 168.6 115.5 166.5 116.6 164.4 117.8 162.3 119 161.1 116.6 163.2 115.4 165.2 114.3 167.3 113.3Z" fill="#d1ff2e"/><path d="M170.6 114.5 171.9 116.8 169.8 117.8 167.7 119 165.6 120.2 163.5 121.5 162.3 119 164.4 117.8 166.5 116.6 168.6 115.5Z" fill="#c4ff3b"/><path d="M171.9 116.8 173.1 119 171 120.1 168.9 121.4 166.9 122.6 164.8 124 163.5 121.5 165.6 120.2 167.7 119 169.8 117.8Z" fill="#b6ff49"/><path d="M173.1 119 174.3 121.2 172.3 122.4 170.2 123.7 168.1 125.1 166 126.5 164.8 124 166.9 122.6 168.9 121.4 171 120.1Z" fill="#a9ff56"/><path d="M174.3 121.2 175.6 123.4 173.5 124.7 171.4 126.1 169.3 127.5 167.3 129 166 126.5 168.1 125.1 170.2 123.7 172.3 122.4Z" fill="#9cff63"/><path d="M175.6 123.4 176.8 125.6 174.7 127 172.7 128.4 170.6 130 168.5 131.5 167.3 129 169.3 127.5 171.4 126.1 173.5 124.7Z" fill="#8fff70"/><path d="M110.7 61.2 111.9 63.8 109.8 65.1 107.7 66.6 105.7 68 103.6 69.6 102.3 67.4 104.4 65.7 106.5 64.2 108.6 62.7Z" fill="#ff1000"/><path d="M109.4 58.4 110.7 61.2 108.6 62.7 106.5 64.2 104.4 65.7 102.3 67.4 101.1 64.9 103.2 63.1 105.3 61.5 107.4 59.9Z" fill="#ff0100"/><path d="M176.8 125.6 178.1 127.8 176 129.3 173.9 130.8 171.8 132.4 169.7 134 168.5 131.5 170.6 130 172.7 128.4 174.7 127Z" fill="#81ff7e"/><path d="M178.1 127.8 179.3 130 177.2 131.5 175.1 133.1 173.1 134.8 171 136.5 169.7 134 171.8 132.4 173.9 130.8 176 129.3Z" fill="#74ff8b"/><path d="M136.3 80.1 137.6 81.4 135.5 82.3 133.4 83.3 131.3 84.3 129.2 85.4 128 84.1 130.1 83 132.2 82 134.2 81Z" fill="#ff7100"/><path d="M190.4 150.8 191.7 153.3 189.6 155.4 187.5 157.7 185.4 160 183.3 162.4 182.1 159.9 184.2 157.5 186.3 155.2 188.4 152.9Z" fill="#00e8ff"/><path d="M191.7 153.3 192.9 155.6 190.8 157.8 188.7 160.1 186.7 162.4 184.6 164.8 183.3 162.4 185.4 160 187.5 157.7 189.6 155.4Z" fill="#00daff"/><path d="M111.9 63.8 113.1 65.9 111.1 67.2 109 68.6 106.9 70 104.8 71.5 103.6 69.6 105.7 68 107.7 66.6 109.8 65.1Z" fill="#ff1c00"/><path d="M192.9 155.6 194.1 158 192.1 160.1 190 162.4 187.9 164.8 185.8 167.2 184.6 164.8 186.7 162.4 188.7 160.1 190.8 157.8Z" fill="#00cdff"/><path d="M179.3 130 180.5 132.2 178.5 133.7 176.4 135.5 174.3 137.2 172.2 139 171 136.5 173.1 134.8 175.1 133.1 177.2 131.5Z" fill="#67ff98"/><path d="M189.2 148.3 190.4 150.8 188.4 152.9 186.3 155.2 184.2 157.5 182.1 159.9 180.9 157.2 183 154.9 185 152.6 187.1 150.3Z" fill="#00f7ff"/><path d="M205.3 180.2 206.5 184 204.4 185.8 202.4 187.6 200.3 189.4 198.2 191.1 197 187.8 199 185.9 201.1 184 203.2 182.1Z" fill="#0043ff"/><path d="M194.1 158 195.4 160.4 193.3 162.5 191.2 164.8 189.1 167.2 187.1 169.5 185.8 167.2 187.9 164.8 190 162.4 192.1 160.1Z" fill="#00c0ff"/><path d="M108.2 55.4 109.4 58.4 107.4 59.9 105.3 61.5 103.2 63.1 101.1 64.9 99.9 62.1 102 60.3 104 58.6 106.1 56.9Z" fill="#f00000"/><path d="M195.4 160.4 196.6 162.8 194.5 165 192.5 167.2 190.4 169.5 188.3 171.9 187.1 169.5 189.1 167.2 191.2 164.8 193.3 162.5Z" fill="#00b2ff"/><path d="M180.5 132.2 181.8 134.3 179.7 136 177.6 137.8 175.5 139.6 173.4 141.5 172.2 139 174.3 137.2 176.4 135.5 178.5 133.7Z" fill="#5affa5"/><path d="M196.6 162.8 197.9 165.3 195.8 167.4 193.7 169.6 191.6 171.9 189.5 174.2 188.3 171.9 190.4 169.5 192.5 167.2 194.5 165Z" fill="#00a5ff"/><path d="M188 145.6 189.2 148.3 187.1 150.3 185 152.6 183 154.9 180.9 157.2 179.6 154.4 181.7 152.1 183.8 149.9 185.9 147.7Z" fill="#08fff7"/><path d="M197.9 165.3 199.1 167.7 197 169.8 194.9 171.9 192.9 174.1 190.8 176.3 189.5 174.2 191.6 171.9 193.7 169.6 195.8 167.4Z" fill="#0098ff"/><path d="M181.8 134.3 183 136.4 180.9 138.1 178.8 140 176.8 142 174.7 144 173.4 141.5 175.5 139.6 177.6 137.8 179.7 136Z" fill="#4effb1"/><path d="M186.7 143.1 188 145.6 185.9 147.7 183.8 149.9 181.7 152.1 179.6 154.4 178.4 151.6 180.5 149.4 182.6 147.2 184.6 145.1Z" fill="#17ffe8"/><path d="M183 136.4 184.2 138.5 182.2 140.3 180.1 142.3 178 144.4 175.9 146.4 174.7 144 176.8 142 178.8 140 180.9 138.1Z" fill="#41ffbe"/><path d="M199.1 167.7 200.3 170 198.3 172 196.2 174.1 194.1 176.3 192 178.4 190.8 176.3 192.9 174.1 194.9 171.9 197 169.8Z" fill="#008cff"/><path d="M113.1 65.9 114.4 67.7 112.3 68.9 110.2 70.2 108.1 71.6 106.1 73.1 104.8 71.5 106.9 70 109 68.6 111.1 67.2Z" fill="#ff2500"/><path d="M184.2 138.5 185.5 140.7 183.4 142.6 181.3 144.7 179.2 146.8 177.2 149 175.9 146.4 178 144.4 180.1 142.3 182.2 140.3Z" fill="#34ffcb"/><path d="M185.5 140.7 186.7 143.1 184.6 145.1 182.6 147.2 180.5 149.4 178.4 151.6 177.2 149 179.2 146.8 181.3 144.7 183.4 142.6Z" fill="#26ffd9"/><path d="M107 51.9 108.2 55.4 106.1 56.9 104 58.6 102 60.3 99.9 62.1 98.6 59 100.7 57.1 102.8 55.3 104.9 53.6Z" fill="#dd0000"/><path d="M200.3 170 201.6 172.2 199.5 174.1 197.4 176.2 195.3 178.2 193.2 180.3 192 178.4 194.1 176.3 196.2 174.1 198.3 172Z" fill="#0080ff"/><path d="M204 177.1 205.3 180.2 203.2 182.1 201.1 184 199 185.9 197 187.8 195.7 184.9 197.8 182.9 199.9 181 202 179Z" fill="#0057ff"/><path d="M137.6 81.4 138.8 82.8 136.7 83.7 134.6 84.7 132.6 85.7 130.5 86.8 129.2 85.4 131.3 84.3 133.4 83.3 135.5 82.3Z" fill="#ff7700"/><path d="M201.6 172.2 202.8 174.5 200.7 176.4 198.6 178.4 196.6 180.4 194.5 182.4 193.2 180.3 195.3 178.2 197.4 176.2 199.5 174.1Z" fill="#0075ff"/><path d="M202.8 174.5 204 177.1 202 179 199.9 181 197.8 182.9 195.7 184.9 194.5 182.4 196.6 180.4 198.6 178.4 200.7 176.4Z" fill="#0068ff"/><path d="M114.4 67.7 115.6 69.5 113.5 70.7 111.5 72 109.4 73.3 107.3 74.7 106.1 73.1 108.1 71.6 110.2 70.2 112.3 68.9Z" fill="#ff2e00"/><path d="M201.9 203.5 203.1 214.9 201.1 215.4 199 215.9 196.9 216.4 194.8 216.8 193.6 207.5 195.7 206.6 197.7 205.6 199.8 204.6Z" fill="#0000b8"/><path d="M115.6 69.5 116.9 71.3 114.8 72.5 112.7 73.7 110.6 74.9 108.5 76.3 107.3 74.7 109.4 73.3 111.5 72 113.5 70.7Z" fill="#ff3600"/><path d="M138.8 82.8 140 84.1 138 85.1 135.9 86.1 133.8 87.2 131.7 88.3 130.5 86.8 132.6 85.7 134.6 84.7 136.7 83.7Z" fill="#ff7d00"/><path d="M116.9 71.3 118.1 72.8 116 74 113.9 75.2 111.9 76.4 109.8 77.7 108.5 76.3 110.6 74.9 112.7 73.7 114.8 72.5Z" fill="#ff3d00"/><path d="M105.7 45.9 107 51.9 104.9 53.6 102.8 55.3 100.7 57.1 98.6 59 97.4 52.9 99.5 51 101.6 49.2 103.6 47.5Z" fill="#be0000"/><path d="M140 84.1 141.3 85.6 139.2 86.6 137.1 87.6 135 88.7 132.9 89.9 131.7 88.3 133.8 87.2 135.9 86.1 138 85.1Z" fill="#ff8400"/><path d="M118.1 72.8 119.3 74.3 117.3 75.4 115.2 76.6 113.1 77.8 111 79.1 109.8 77.7 111.9 76.4 113.9 75.2 116 74Z" fill="#ff4400"/><path d="M141.3 85.6 142.5 87.1 140.4 88.1 138.3 89.1 136.3 90.2 134.2 91.4 132.9 89.9 135 88.7 137.1 87.6 139.2 86.6Z" fill="#ff8a00"/><path d="M142.5 87.1 143.7 88.6 141.7 89.6 139.6 90.7 137.5 91.8 135.4 93 134.2 91.4 136.3 90.2 138.3 89.1 140.4 88.1Z" fill="#ff9100"/><path d="M119.3 74.3 120.6 75.7 118.5 76.8 116.4 78 114.3 79.2 112.2 80.5 111 79.1 113.1 77.8 115.2 76.6 117.3 75.4Z" fill="#ff4a00"/><path d="M143.7 88.6 145 90.1 142.9 91.1 140.8 92.2 138.7 93.4 136.7 94.6 135.4 93 137.5 91.8 139.6 90.7 141.7 89.6Z" fill="#ff9800"/><path d="M120.6 75.7 121.8 77.1 119.7 78.2 117.6 79.3 115.6 80.5 113.5 81.8 112.2 80.5 114.3 79.2 116.4 78 118.5 76.8Z" fill="#ff4f00"/><path d="M200.7 198.8 201.9 203.5 199.8 204.6 197.7 205.6 195.7 206.6 193.6 207.5 192.3 203.8 194.4 202.6 196.5 201.4 198.6 200.1Z" fill="#0000ea"/><path d="M145 90.1 146.2 91.6 144.1 92.7 142.1 93.8 140 95 137.9 96.2 136.7 94.6 138.7 93.4 140.8 92.2 142.9 91.1Z" fill="#ffa000"/><path d="M121.8 77.1 123 78.4 121 79.5 118.9 80.7 116.8 81.9 114.7 83.1 113.5 81.8 115.6 80.5 117.6 79.3 119.7 78.2Z" fill="#ff5500"/><path d="M183.3 162.4 184.6 164.8 182.5 167.3 180.4 169.7 178.3 172 176.3 174.2 175 171.8 177.1 169.6 179.2 167.2 181.3 164.8Z" fill="#00b4ff"/><path d="M182.1 159.9 183.3 162.4 181.3 164.8 179.2 167.2 177.1 169.6 175 171.8 173.8 169.2 175.9 167 177.9 164.7 180 162.3Z" fill="#00c2ff"/><path d="M184.6 164.8 185.8 167.2 183.7 169.6 181.7 172 179.6 174.4 177.5 176.5 176.3 174.2 178.3 172 180.4 169.7 182.5 167.3Z" fill="#00a7ff"/><path d="M185.8 167.2 187.1 169.5 185 171.9 182.9 174.3 180.8 176.6 178.7 178.8 177.5 176.5 179.6 174.4 181.7 172 183.7 169.6Z" fill="#009aff"/><path d="M180.9 157.2 182.1 159.9 180 162.3 177.9 164.7 175.9 167 173.8 169.2 172.5 166.4 174.6 164.2 176.7 161.9 178.8 159.5Z" fill="#00d2ff"/><path d="M146.2 91.6 147.5 93.1 145.4 94.2 143.3 95.3 141.2 96.5 139.1 97.7 137.9 96.2 140 95 142.1 93.8 144.1 92.7Z" fill="#ffa600"/><path d="M187.1 169.5 188.3 171.9 186.2 174.2 184.1 176.6 182.1 178.8 180 180.9 178.7 178.8 180.8 176.6 182.9 174.3 185 171.9Z" fill="#008dff"/><path d="M188.3 171.9 189.5 174.2 187.5 176.5 185.4 178.7 183.3 180.9 181.2 183 180 180.9 182.1 178.8 184.1 176.6 186.2 174.2Z" fill="#0081ff"/><path d="M179.6 154.4 180.9 157.2 178.8 159.5 176.7 161.9 174.6 164.2 172.5 166.4 171.3 163.4 173.4 161.3 175.5 159 177.6 156.7Z" fill="#00e2ff"/><path d="M199.4 194.8 200.7 198.8 198.6 200.1 196.5 201.4 194.4 202.6 192.3 203.8 191.1 200.7 193.2 199.3 195.3 197.9 197.4 196.3Z" fill="#0004ff"/><path d="M123 78.4 124.3 79.9 122.2 81 120.1 82.1 118 83.3 116 84.5 114.7 83.1 116.8 81.9 118.9 80.7 121 79.5Z" fill="#ff5b00"/><path d="M189.5 174.2 190.8 176.3 188.7 178.6 186.6 180.8 184.5 182.9 182.4 184.9 181.2 183 183.3 180.9 185.4 178.7 187.5 176.5Z" fill="#0076ff"/><path d="M178.4 151.6 179.6 154.4 177.6 156.7 175.5 159 173.4 161.3 171.3 163.4 170.1 160.5 172.2 158.4 174.2 156.2 176.3 153.9Z" fill="#00f3ff"/><path d="M147.5 93.1 148.7 94.6 146.6 95.7 144.5 96.8 142.5 98.1 140.4 99.3 139.1 97.7 141.2 96.5 143.3 95.3 145.4 94.2Z" fill="#ffad00"/><path d="M177.2 149 178.4 151.6 176.3 153.9 174.2 156.2 172.2 158.4 170.1 160.5 168.8 157.6 170.9 155.5 173 153.4 175.1 151.2Z" fill="#05fffa"/><path d="M190.8 176.3 192 178.4 189.9 180.5 187.8 182.7 185.8 184.7 183.7 186.6 182.4 184.9 184.5 182.9 186.6 180.8 188.7 178.6Z" fill="#006cff"/><path d="M198.2 191.1 199.4 194.8 197.4 196.3 195.3 197.9 193.2 199.3 191.1 200.7 189.9 197.6 192 196.1 194 194.5 196.1 192.8Z" fill="#001aff"/><path d="M175.9 146.4 177.2 149 175.1 151.2 173 153.4 170.9 155.5 168.8 157.6 167.6 154.7 169.7 152.8 171.8 150.7 173.8 148.6Z" fill="#15ffea"/><path d="M124.3 79.9 125.5 81.3 123.4 82.4 121.4 83.5 119.3 84.7 117.2 85.9 116 84.5 118 83.3 120.1 82.1 122.2 81Z" fill="#ff6100"/><path d="M174.7 144 175.9 146.4 173.8 148.6 171.8 150.7 169.7 152.8 167.6 154.7 166.4 152 168.4 150 170.5 148 172.6 146Z" fill="#25ffda"/><path d="M148.7 94.6 149.9 96.3 147.9 97.4 145.8 98.6 143.7 99.8 141.6 101.1 140.4 99.3 142.5 98.1 144.5 96.8 146.6 95.7Z" fill="#ffb500"/><path d="M173.4 141.5 174.7 144 172.6 146 170.5 148 168.4 150 166.4 152 165.1 149.2 167.2 147.3 169.3 145.4 171.4 143.5Z" fill="#34ffcb"/><path d="M192 178.4 193.2 180.3 191.2 182.3 189.1 184.4 187 186.3 184.9 188.2 183.7 186.6 185.8 184.7 187.8 182.7 189.9 180.5Z" fill="#0063ff"/><path d="M101.1 64.9 102.3 67.4 100.3 69.2 98.2 71.1 96.1 73 94 75 92.8 72.8 94.9 70.7 96.9 68.7 99 66.7Z" fill="#ff1700"/><path d="M99.9 62.1 101.1 64.9 99 66.7 96.9 68.7 94.9 70.7 92.8 72.8 91.5 70.4 93.6 68.2 95.7 66.1 97.8 64.1Z" fill="#ff0900"/><path d="M172.2 139 173.4 141.5 171.4 143.5 169.3 145.4 167.2 147.3 165.1 149.2 163.9 146.4 166 144.6 168 142.7 170.1 140.9Z" fill="#43ffbc"/><path d="M102.3 67.4 103.6 69.6 101.5 71.4 99.4 73.2 97.3 75.1 95.3 76.9 94 75 96.1 73 98.2 71.1 100.3 69.2Z" fill="#ff2300"/><path d="M197 187.8 198.2 191.1 196.1 192.8 194 194.5 192 196.1 189.9 197.6 188.6 194.8 190.7 193.1 192.8 191.4 194.9 189.6Z" fill="#002eff"/><path d="M171 136.5 172.2 139 170.1 140.9 168 142.7 166 144.6 163.9 146.4 162.6 143.5 164.7 141.8 166.8 140.1 168.9 138.3Z" fill="#53ffac"/><path d="M149.9 96.3 151.2 98.4 149.1 99.5 147 100.6 144.9 101.9 142.8 103.1 141.6 101.1 143.7 99.8 145.8 98.6 147.9 97.4Z" fill="#ffbf00"/><path d="M98.6 59 99.9 62.1 97.8 64.1 95.7 66.1 93.6 68.2 91.5 70.4 90.3 67.5 92.4 65.3 94.5 63.1 96.6 61Z" fill="#f70000"/><path d="M169.7 134 171 136.5 168.9 138.3 166.8 140.1 164.7 141.8 162.6 143.5 161.4 140.7 163.5 139.1 165.6 137.4 167.7 135.7Z" fill="#62ff9d"/><path d="M193.2 180.3 194.5 182.4 192.4 184.3 190.3 186.3 188.2 188.2 186.2 190 184.9 188.2 187 186.3 189.1 184.4 191.2 182.3Z" fill="#0059ff"/><path d="M151.2 98.4 152.4 100.6 150.3 101.7 148.2 102.8 146.2 104.1 144.1 105.3 142.8 103.1 144.9 101.9 147 100.6 149.1 99.5Z" fill="#ffca00"/><path d="M125.5 81.3 126.8 82.7 124.7 83.8 122.6 84.9 120.5 86.1 118.4 87.4 117.2 85.9 119.3 84.7 121.4 83.5 123.4 82.4Z" fill="#ff6700"/><path d="M195.7 184.9 197 187.8 194.9 189.6 192.8 191.4 190.7 193.1 188.6 194.8 187.4 192.2 189.5 190.5 191.6 188.6 193.6 186.8Z" fill="#003fff"/><path d="M168.5 131.5 169.7 134 167.7 135.7 165.6 137.4 163.5 139.1 161.4 140.7 160.2 137.9 162.3 136.3 164.3 134.7 166.4 133.1Z" fill="#72ff8d"/><path d="M103.6 69.6 104.8 71.5 102.7 73.2 100.7 74.9 98.6 76.7 96.5 78.5 95.3 76.9 97.3 75.1 99.4 73.2 101.5 71.4Z" fill="#ff2d00"/><path d="M194.5 182.4 195.7 184.9 193.6 186.8 191.6 188.6 189.5 190.5 187.4 192.2 186.2 190 188.2 188.2 190.3 186.3 192.4 184.3Z" fill="#004eff"/><path d="M152.4 100.6 153.6 102.8 151.6 103.9 149.5 105.1 147.4 106.3 145.3 107.6 144.1 105.3 146.2 104.1 148.2 102.8 150.3 101.7Z" fill="#ffd700"/><path d="M167.3 129 168.5 131.5 166.4 133.1 164.3 134.7 162.3 136.3 160.2 137.9 158.9 135.1 161 133.6 163.1 132.1 165.2 130.5Z" fill="#81ff7e"/><path d="M153.6 102.8 154.9 105.1 152.8 106.2 150.7 107.4 148.6 108.6 146.6 109.9 145.3 107.6 147.4 106.3 149.5 105.1 151.6 103.9Z" fill="#ffe300"/><path d="M166 126.5 167.3 129 165.2 130.5 163.1 132.1 161 133.6 158.9 135.1 157.7 132.4 159.8 130.9 161.9 129.4 163.9 127.9Z" fill="#91ff6e"/><path d="M154.9 105.1 156.1 107.3 154 108.5 152 109.6 149.9 110.9 147.8 112.2 146.6 109.9 148.6 108.6 150.7 107.4 152.8 106.2Z" fill="#fff000"/><path d="M164.8 124 166 126.5 163.9 127.9 161.9 129.4 159.8 130.9 157.7 132.4 156.5 129.7 158.5 128.2 160.6 126.8 162.7 125.4Z" fill="#a0ff5f"/><path d="M156.1 107.3 157.4 109.6 155.3 110.7 153.2 112 151.1 113.2 149 114.5 147.8 112.2 149.9 110.9 152 109.6 154 108.5Z" fill="#fffc00"/><path d="M163.5 121.5 164.8 124 162.7 125.4 160.6 126.8 158.5 128.2 156.5 129.7 155.2 127 157.3 125.6 159.4 124.2 161.5 122.8Z" fill="#afff50"/><path d="M157.4 109.6 158.6 111.9 156.5 113.1 154.4 114.3 152.4 115.6 150.3 116.9 149 114.5 151.1 113.2 153.2 112 155.3 110.7Z" fill="#f5ff0a"/><path d="M162.3 119 163.5 121.5 161.5 122.8 159.4 124.2 157.3 125.6 155.2 127 154 124.4 156.1 123 158.1 121.7 160.2 120.3Z" fill="#bdff42"/><path d="M158.6 111.9 159.8 114.2 157.8 115.4 155.7 116.7 153.6 118 151.5 119.3 150.3 116.9 152.4 115.6 154.4 114.3 156.5 113.1Z" fill="#e7ff18"/><path d="M161.1 116.6 162.3 119 160.2 120.3 158.1 121.7 156.1 123 154 124.4 152.7 121.8 154.8 120.5 156.9 119.2 159 117.9Z" fill="#ccff33"/><path d="M104.8 71.5 106.1 73.1 104 74.7 101.9 76.3 99.8 78.1 97.7 79.8 96.5 78.5 98.6 76.7 100.7 74.9 102.7 73.2Z" fill="#ff3400"/><path d="M159.8 114.2 161.1 116.6 159 117.9 156.9 119.2 154.8 120.5 152.7 121.8 151.5 119.3 153.6 118 155.7 116.7 157.8 115.4Z" fill="#daff25"/><path d="M126.8 82.7 128 84.1 125.9 85.2 123.8 86.3 121.8 87.5 119.7 88.8 118.4 87.4 120.5 86.1 122.6 84.9 124.7 83.8Z" fill="#ff6d00"/><path d="M97.4 52.9 98.6 59 96.6 61 94.5 63.1 92.4 65.3 90.3 67.5 89.1 61.4 91.2 59.2 93.2 57 95.3 54.9Z" fill="#d90000"/><path d="M106.1 73.1 107.3 74.7 105.2 76.2 103.1 77.9 101.1 79.5 99 81.1 97.7 79.8 99.8 78.1 101.9 76.3 104 74.7Z" fill="#ff3a00"/><path d="M128 84.1 129.2 85.4 127.2 86.6 125.1 87.8 123 89 120.9 90.2 119.7 88.8 121.8 87.5 123.8 86.3 125.9 85.2Z" fill="#ff7300"/><path d="M107.3 74.7 108.5 76.3 106.5 77.8 104.4 79.3 102.3 80.9 100.2 82.5 99 81.1 101.1 79.5 103.1 77.9 105.2 76.2Z" fill="#ff4100"/><path d="M129.2 85.4 130.5 86.8 128.4 88 126.3 89.2 124.2 90.4 122.1 91.7 120.9 90.2 123 89 125.1 87.8 127.2 86.6Z" fill="#ff7900"/><path d="M108.5 76.3 109.8 77.7 107.7 79.2 105.6 80.7 103.5 82.2 101.4 83.7 100.2 82.5 102.3 80.9 104.4 79.3 106.5 77.8Z" fill="#ff4700"/><path d="M130.5 86.8 131.7 88.3 129.6 89.5 127.5 90.7 125.5 91.9 123.4 93.2 122.1 91.7 124.2 90.4 126.3 89.2 128.4 88Z" fill="#ff7f00"/><path d="M131.7 88.3 132.9 89.9 130.9 91.1 128.8 92.3 126.7 93.5 124.6 94.8 123.4 93.2 125.5 91.9 127.5 90.7 129.6 89.5Z" fill="#ff8600"/><path d="M109.8 77.7 111 79.1 108.9 80.5 106.8 82 104.8 83.5 102.7 85 101.4 83.7 103.5 82.2 105.6 80.7 107.7 79.2Z" fill="#ff4d00"/><path d="M132.9 89.9 134.2 91.4 132.1 92.6 130 93.9 127.9 95.1 125.9 96.4 124.6 94.8 126.7 93.5 128.8 92.3 130.9 91.1Z" fill="#ff8e00"/><path d="M193.6 207.5 194.8 216.8 192.7 217.1 190.7 217.4 188.6 217.5 186.5 217.6 185.3 210.1 187.3 209.6 189.4 209 191.5 208.3Z" fill="#0000c6"/><path d="M175 171.8 176.3 174.2 174.2 176.2 172.1 177.9 170 179.2 167.9 180.2 166.7 177.8 168.8 176.8 170.9 175.4 172.9 173.7Z" fill="#009aff"/><path d="M173.8 169.2 175 171.8 172.9 173.7 170.9 175.4 168.8 176.8 166.7 177.8 165.5 175.3 167.5 174.2 169.6 172.8 171.7 171.1Z" fill="#00a8ff"/><path d="M176.3 174.2 177.5 176.5 175.4 178.5 173.3 180.1 171.3 181.5 169.2 182.4 167.9 180.2 170 179.2 172.1 177.9 174.2 176.2Z" fill="#008dff"/><path d="M111 79.1 112.2 80.5 110.2 81.9 108.1 83.3 106 84.8 103.9 86.2 102.7 85 104.8 83.5 106.8 82 108.9 80.5Z" fill="#ff5200"/><path d="M172.5 166.4 173.8 169.2 171.7 171.1 169.6 172.8 167.5 174.2 165.5 175.3 164.2 172.5 166.3 171.4 168.4 170 170.5 168.3Z" fill="#00b8ff"/><path d="M177.5 176.5 178.7 178.8 176.7 180.7 174.6 182.3 172.5 183.6 170.4 184.5 169.2 182.4 171.3 181.5 173.3 180.1 175.4 178.5Z" fill="#0080ff"/><path d="M178.7 178.8 180 180.9 177.9 182.8 175.8 184.4 173.7 185.7 171.6 186.5 170.4 184.5 172.5 183.6 174.6 182.3 176.7 180.7Z" fill="#0075ff"/><path d="M171.3 163.4 172.5 166.4 170.5 168.3 168.4 170 166.3 171.4 164.2 172.5 163 169.6 165.1 168.5 167.1 167.1 169.2 165.4Z" fill="#00c9ff"/><path d="M134.2 91.4 135.4 93 133.3 94.2 131.3 95.5 129.2 96.8 127.1 98 125.9 96.4 127.9 95.1 130 93.9 132.1 92.6Z" fill="#ff9500"/><path d="M180 180.9 181.2 183 179.1 184.8 177 186.3 175 187.5 172.9 188.4 171.6 186.5 173.7 185.7 175.8 184.4 177.9 182.8Z" fill="#006aff"/><path d="M170.1 160.5 171.3 163.4 169.2 165.4 167.1 167.1 165.1 168.5 163 169.6 161.7 166.6 163.8 165.5 165.9 164.1 168 162.4Z" fill="#00daff"/><path d="M112.2 80.5 113.5 81.8 111.4 83.1 109.3 84.5 107.2 86 105.2 87.3 103.9 86.2 106 84.8 108.1 83.3 110.2 81.9Z" fill="#ff5700"/><path d="M135.4 93 136.7 94.6 134.6 95.9 132.5 97.1 130.4 98.4 128.3 99.7 127.1 98 129.2 96.8 131.3 95.5 133.3 94.2Z" fill="#ff9d00"/><path d="M181.2 183 182.4 184.9 180.4 186.6 178.3 188.1 176.2 189.2 174.1 190 172.9 188.4 175 187.5 177 186.3 179.1 184.8Z" fill="#0061ff"/><path d="M168.8 157.6 170.1 160.5 168 162.4 165.9 164.1 163.8 165.5 161.7 166.6 160.5 163.6 162.6 162.5 164.7 161.1 166.8 159.4Z" fill="#00ecff"/><path d="M91.5 70.4 92.8 72.8 90.7 74.8 88.6 76.9 86.5 79.2 84.5 81.6 83.2 79.5 85.3 77 87.4 74.7 89.5 72.5Z" fill="#ff2900"/><path d="M90.3 67.5 91.5 70.4 89.5 72.5 87.4 74.7 85.3 77 83.2 79.5 82 76.9 84.1 74.3 86.1 71.9 88.2 69.7Z" fill="#ff1b00"/><path d="M92.8 72.8 94 75 91.9 76.9 89.9 79 87.8 81.1 85.7 83.5 84.5 81.6 86.5 79.2 88.6 76.9 90.7 74.8Z" fill="#ff3500"/><path d="M167.6 154.7 168.8 157.6 166.8 159.4 164.7 161.1 162.6 162.5 160.5 163.6 159.3 160.7 161.4 159.6 163.4 158.2 165.5 156.6Z" fill="#00fdff"/><path d="M136.7 94.6 137.9 96.2 135.8 97.5 133.7 98.7 131.7 100 129.6 101.3 128.3 99.7 130.4 98.4 132.5 97.1 134.6 95.9Z" fill="#ffa400"/><path d="M182.4 184.9 183.7 186.6 181.6 188.3 179.5 189.7 177.4 190.8 175.4 191.5 174.1 190 176.2 189.2 178.3 188.1 180.4 186.6Z" fill="#0059ff"/><path d="M94 75 95.3 76.9 93.2 78.8 91.1 80.8 89 82.9 86.9 85.2 85.7 83.5 87.8 81.1 89.9 79 91.9 76.9Z" fill="#ff3f00"/><path d="M113.5 81.8 114.7 83.1 112.6 84.5 110.6 85.8 108.5 87.2 106.4 88.5 105.2 87.3 107.2 86 109.3 84.5 111.4 83.1Z" fill="#ff5b00"/><path d="M166.4 152 167.6 154.7 165.5 156.6 163.4 158.2 161.4 159.6 159.3 160.7 158 157.8 160.1 156.7 162.2 155.3 164.3 153.7Z" fill="#0ffff0"/><path d="M165.1 149.2 166.4 152 164.3 153.7 162.2 155.3 160.1 156.7 158 157.8 156.8 155 158.9 153.8 161 152.5 163 150.9Z" fill="#20ffdf"/><path d="M137.9 96.2 139.1 97.7 137.1 99 135 100.3 132.9 101.6 130.8 102.9 129.6 101.3 131.7 100 133.7 98.7 135.8 97.5Z" fill="#ffac00"/><path d="M192.3 203.8 193.6 207.5 191.5 208.3 189.4 209 187.3 209.6 185.3 210.1 184 207.1 186.1 206.5 188.2 205.8 190.3 204.9Z" fill="#0000ee"/><path d="M183.7 186.6 184.9 188.2 182.8 189.8 180.8 191.1 178.7 192.2 176.6 192.9 175.4 191.5 177.4 190.8 179.5 189.7 181.6 188.3Z" fill="#0052ff"/><path d="M95.3 76.9 96.5 78.5 94.4 80.3 92.3 82.2 90.3 84.3 88.2 86.5 86.9 85.2 89 82.9 91.1 80.8 93.2 78.8Z" fill="#ff4700"/><path d="M163.9 146.4 165.1 149.2 163 150.9 161 152.5 158.9 153.8 156.8 155 155.6 152 157.6 150.9 159.7 149.6 161.8 148Z" fill="#31ffce"/><path d="M114.7 83.1 116 84.5 113.9 85.8 111.8 87.2 109.7 88.5 107.6 89.8 106.4 88.5 108.5 87.2 110.6 85.8 112.6 84.5Z" fill="#ff6100"/><path d="M89.1 61.4 90.3 67.5 88.2 69.7 86.1 71.9 84.1 74.3 82 76.9 80.7 70.7 82.8 68.2 84.9 65.8 87 63.6Z" fill="#fd0000"/><path d="M162.6 143.5 163.9 146.4 161.8 148 159.7 149.6 157.6 150.9 155.6 152 154.3 149.1 156.4 148 158.5 146.6 160.6 145.2Z" fill="#42ffbd"/><path d="M191.1 200.7 192.3 203.8 190.3 204.9 188.2 205.8 186.1 206.5 184 207.1 182.8 204.5 184.9 203.8 186.9 203 189 201.9Z" fill="#0002ff"/><path d="M139.1 97.7 140.4 99.3 138.3 100.6 136.2 101.9 134.1 103.2 132 104.6 130.8 102.9 132.9 101.6 135 100.3 137.1 99Z" fill="#ffb300"/><path d="M184.9 188.2 186.2 190 184.1 191.5 182 192.8 179.9 193.9 177.8 194.6 176.6 192.9 178.7 192.2 180.8 191.1 182.8 189.8Z" fill="#004aff"/><path d="M161.4 140.7 162.6 143.5 160.6 145.2 158.5 146.6 156.4 148 154.3 149.1 153.1 146.2 155.2 145.1 157.2 143.7 159.3 142.3Z" fill="#53ffac"/><path d="M189.9 197.6 191.1 200.7 189 201.9 186.9 203 184.9 203.8 182.8 204.5 181.5 201.8 183.6 201.1 185.7 200.1 187.8 199Z" fill="#0013ff"/><path d="M96.5 78.5 97.7 79.8 95.7 81.5 93.6 83.4 91.5 85.3 89.4 87.5 88.2 86.5 90.3 84.3 92.3 82.2 94.4 80.3Z" fill="#ff4c00"/><path d="M188.6 194.8 189.9 197.6 187.8 199 185.7 200.1 183.6 201.1 181.5 201.8 180.3 199.3 182.4 198.5 184.5 197.5 186.6 196.2Z" fill="#0023ff"/><path d="M186.2 190 187.4 192.2 185.3 193.7 183.2 195 181.2 196 179.1 196.8 177.8 194.6 179.9 193.9 182 192.8 184.1 191.5Z" fill="#0040ff"/><path d="M160.2 137.9 161.4 140.7 159.3 142.3 157.2 143.7 155.2 145.1 153.1 146.2 151.8 143.3 153.9 142.2 156 140.9 158.1 139.4Z" fill="#64ff9b"/><path d="M116 84.5 117.2 85.9 115.1 87.3 113 88.6 111 89.9 108.9 91.2 107.6 89.8 109.7 88.5 111.8 87.2 113.9 85.8Z" fill="#ff6600"/><path d="M187.4 192.2 188.6 194.8 186.6 196.2 184.5 197.5 182.4 198.5 180.3 199.3 179.1 196.8 181.2 196 183.2 195 185.3 193.7Z" fill="#0033ff"/><path d="M140.4 99.3 141.6 101.1 139.5 102.4 137.4 103.7 135.4 105 133.3 106.4 132 104.6 134.1 103.2 136.2 101.9 138.3 100.6Z" fill="#ffbb00"/><path d="M158.9 135.1 160.2 137.9 158.1 139.4 156 140.9 153.9 142.2 151.8 143.3 150.6 140.5 152.7 139.3 154.8 138 156.9 136.6Z" fill="#75ff8a"/><path d="M141.6 101.1 142.8 103.1 140.8 104.4 138.7 105.8 136.6 107.1 134.5 108.4 133.3 106.4 135.4 105 137.4 103.7 139.5 102.4Z" fill="#ffc500"/><path d="M157.7 132.4 158.9 135.1 156.9 136.6 154.8 138 152.7 139.3 150.6 140.5 149.4 137.6 151.5 136.5 153.5 135.2 155.6 133.8Z" fill="#86ff79"/><path d="M142.8 103.1 144.1 105.3 142 106.6 139.9 107.9 137.8 109.3 135.8 110.6 134.5 108.4 136.6 107.1 138.7 105.8 140.8 104.4Z" fill="#ffd000"/><path d="M97.7 79.8 99 81.1 96.9 82.8 94.8 84.6 92.7 86.5 90.6 88.6 89.4 87.5 91.5 85.3 93.6 83.4 95.7 81.5Z" fill="#ff5000"/><path d="M156.5 129.7 157.7 132.4 155.6 133.8 153.5 135.2 151.5 136.5 149.4 137.6 148.1 134.9 150.2 133.7 152.3 132.4 154.4 131.1Z" fill="#96ff69"/><path d="M117.2 85.9 118.4 87.4 116.4 88.7 114.3 90 112.2 91.3 110.1 92.5 108.9 91.2 111 89.9 113 88.6 115.1 87.3Z" fill="#ff6c00"/><path d="M144.1 105.3 145.3 107.6 143.2 108.9 141.2 110.2 139.1 111.5 137 112.8 135.8 110.6 137.8 109.3 139.9 107.9 142 106.6Z" fill="#ffdd00"/><path d="M155.2 127 156.5 129.7 154.4 131.1 152.3 132.4 150.2 133.7 148.1 134.9 146.9 132.2 149 131 151.1 129.7 153.1 128.4Z" fill="#a6ff59"/><path d="M145.3 107.6 146.6 109.9 144.5 111.2 142.4 112.5 140.3 113.8 138.2 115.1 137 112.8 139.1 111.5 141.2 110.2 143.2 108.9Z" fill="#ffe900"/><path d="M154 124.4 155.2 127 153.1 128.4 151.1 129.7 149 131 146.9 132.2 145.7 129.5 147.7 128.3 149.8 127 151.9 125.7Z" fill="#b5ff4a"/><path d="M146.6 109.9 147.8 112.2 145.7 113.5 143.6 114.8 141.6 116 139.5 117.3 138.2 115.1 140.3 113.8 142.4 112.5 144.5 111.2Z" fill="#fff600"/><path d="M152.7 121.8 154 124.4 151.9 125.7 149.8 127 147.7 128.3 145.7 129.5 144.4 127 146.5 125.7 148.6 124.5 150.7 123.1Z" fill="#c4ff3b"/><path d="M147.8 112.2 149 114.5 147 115.8 144.9 117.1 142.8 118.4 140.7 119.6 139.5 117.3 141.6 116 143.6 114.8 145.7 113.5Z" fill="#fcff03"/><path d="M151.5 119.3 152.7 121.8 150.7 123.1 148.6 124.5 146.5 125.7 144.4 127 143.2 124.5 145.3 123.2 147.3 121.9 149.4 120.6Z" fill="#d3ff2c"/><path d="M149 114.5 150.3 116.9 148.2 118.2 146.1 119.5 144 120.8 141.9 122 140.7 119.6 142.8 118.4 144.9 117.1 147 115.8Z" fill="#eeff11"/><path d="M150.3 116.9 151.5 119.3 149.4 120.6 147.3 121.9 145.3 123.2 143.2 124.5 141.9 122 144 120.8 146.1 119.5 148.2 118.2Z" fill="#e1ff1e"/><path d="M118.4 87.4 119.7 88.8 117.6 90.1 115.5 91.4 113.4 92.6 111.3 93.8 110.1 92.5 112.2 91.3 114.3 90 116.4 88.7Z" fill="#ff7200"/><path d="M99 81.1 100.2 82.5 98.1 84.1 96 85.8 94 87.7 91.9 89.7 90.6 88.6 92.7 86.5 94.8 84.6 96.9 82.8Z" fill="#ff5500"/><path d="M82 76.9 83.2 79.5 81.1 82.4 79.1 85.7 77 89 74.9 91.8 73.7 89.4 75.7 86.5 77.8 83.2 79.9 79.8Z" fill="#ff4d00"/><path d="M83.2 79.5 84.5 81.6 82.4 84.4 80.3 87.7 78.2 90.9 76.1 93.7 74.9 91.8 77 89 79.1 85.7 81.1 82.4Z" fill="#ff5a00"/><path d="M119.7 88.8 120.9 90.2 118.8 91.5 116.7 92.8 114.7 94 112.6 95.2 111.3 93.8 113.4 92.6 115.5 91.4 117.6 90.1Z" fill="#ff7800"/><path d="M100.2 82.5 101.4 83.7 99.4 85.3 97.3 87 95.2 88.8 93.1 90.8 91.9 89.7 94 87.7 96 85.8 98.1 84.1Z" fill="#ff5900"/><path d="M84.5 81.6 85.7 83.5 83.6 86.3 81.5 89.5 79.5 92.7 77.4 95.4 76.1 93.7 78.2 90.9 80.3 87.7 82.4 84.4Z" fill="#ff6400"/><path d="M120.9 90.2 122.1 91.7 120.1 93 118 94.3 115.9 95.5 113.8 96.6 112.6 95.2 114.7 94 116.7 92.8 118.8 91.5Z" fill="#ff7e00"/><path d="M85.7 83.5 86.9 85.2 84.9 87.9 82.8 91 80.7 94.2 78.6 96.9 77.4 95.4 79.5 92.7 81.5 89.5 83.6 86.3Z" fill="#ff6c00"/><path d="M80.7 70.7 82 76.9 79.9 79.8 77.8 83.2 75.7 86.5 73.7 89.4 72.4 83.1 74.5 80.3 76.6 77 78.7 73.6Z" fill="#ff3100"/><path d="M101.4 83.7 102.7 85 100.6 86.5 98.5 88.1 96.4 89.9 94.4 91.9 93.1 90.8 95.2 88.8 97.3 87 99.4 85.3Z" fill="#ff5e00"/><path d="M122.1 91.7 123.4 93.2 121.3 94.5 119.2 95.8 117.1 97 115.1 98.2 113.8 96.6 115.9 95.5 118 94.3 120.1 93Z" fill="#ff8500"/><path d="M86.9 85.2 88.2 86.5 86.1 89.2 84 92.2 81.9 95.3 79.8 98 78.6 96.9 80.7 94.2 82.8 91 84.9 87.9Z" fill="#ff7200"/><path d="M57 120.4 58.2 122.9 56.2 128 54.1 133.4 52 138.5 49.9 143.4 48.7 140.7 50.8 135.9 52.8 130.8 54.9 125.4Z" fill="#a9ff56"/><path d="M58.2 122.9 59.5 124.8 57.4 129.8 55.3 135.3 53.2 140.4 51.2 145.2 49.9 143.4 52 138.5 54.1 133.4 56.2 128Z" fill="#9dff62"/><path d="M123.4 93.2 124.6 94.8 122.5 96.1 120.5 97.4 118.4 98.6 116.3 99.7 115.1 98.2 117.1 97 119.2 95.8 121.3 94.5Z" fill="#ff8c00"/><path d="M102.7 85 103.9 86.2 101.8 87.6 99.8 89.2 97.7 90.9 95.6 92.9 94.4 91.9 96.4 89.9 98.5 88.1 100.6 86.5Z" fill="#ff6100"/><path d="M73.7 89.4 74.9 91.8 72.8 94.6 70.7 98.2 68.7 102.2 66.6 106.5 65.3 104.1 67.4 99.8 69.5 95.8 71.6 92.2Z" fill="#ff9400"/><path d="M59.5 124.8 60.7 126.5 58.6 131.6 56.6 137 54.5 142.1 52.4 147 51.2 145.2 53.2 140.4 55.3 135.3 57.4 129.8Z" fill="#94ff6b"/><path d="M88.2 86.5 89.4 87.5 87.3 90.1 85.2 93.1 83.2 96.1 81.1 98.8 79.8 98 81.9 95.3 84 92.2 86.1 89.2Z" fill="#ff7500"/><path d="M124.6 94.8 125.9 96.4 123.8 97.7 121.7 99 119.6 100.2 117.5 101.3 116.3 99.7 118.4 98.6 120.5 97.4 122.5 96.1Z" fill="#ff9300"/><path d="M74.9 91.8 76.1 93.7 74.1 96.5 72 100.1 69.9 104 67.8 108.3 66.6 106.5 68.7 102.2 70.7 98.2 72.8 94.6Z" fill="#ffa000"/><path d="M103.9 86.2 105.2 87.3 103.1 88.8 101 90.3 98.9 92 96.8 93.8 95.6 92.9 97.7 90.9 99.8 89.2 101.8 87.6Z" fill="#ff6500"/><path d="M65.3 104.1 66.6 106.5 64.5 110.8 62.4 114.6 60.3 118.5 58.2 122.9 57 120.4 59.1 116 61.2 112.1 63.3 108.3Z" fill="#ffea00"/><path d="M60.7 126.5 62 127.9 59.9 133 57.8 138.4 55.7 143.6 53.6 148.4 52.4 147 54.5 142.1 56.6 137 58.6 131.6Z" fill="#8dff72"/><path d="M76.1 93.7 77.4 95.4 75.3 98.2 73.2 101.7 71.1 105.7 69 109.9 67.8 108.3 69.9 104 72 100.1 74.1 96.5Z" fill="#ffa800"/><path d="M125.9 96.4 127.1 98 125 99.4 122.9 100.6 120.9 101.9 118.8 103 117.5 101.3 119.6 100.2 121.7 99 123.8 97.7Z" fill="#ff9b00"/><path d="M66.6 106.5 67.8 108.3 65.7 112.6 63.6 116.4 61.6 120.4 59.5 124.8 58.2 122.9 60.3 118.5 62.4 114.6 64.5 110.8Z" fill="#fff600"/><path d="M55.8 113.4 57 120.4 54.9 125.4 52.8 130.8 50.8 135.9 48.7 140.7 47.4 133.3 49.5 128.6 51.6 123.6 53.7 118.3Z" fill="#c9ff36"/><path d="M89.4 87.5 90.6 88.6 88.6 91.1 86.5 94.1 84.4 97.1 82.3 99.7 81.1 98.8 83.2 96.1 85.2 93.1 87.3 90.1Z" fill="#ff7800"/><path d="M67.8 108.3 69 109.9 67 114.2 64.9 118 62.8 122 60.7 126.5 59.5 124.8 61.6 120.4 63.6 116.4 65.7 112.6Z" fill="#fffe00"/><path d="M77.4 95.4 78.6 96.9 76.5 99.6 74.4 103.1 72.4 107.1 70.3 111.3 69 109.9 71.1 105.7 73.2 101.7 75.3 98.2Z" fill="#ffaf00"/><path d="M127.1 98 128.3 99.7 126.3 101 124.2 102.3 122.1 103.5 120 104.6 118.8 103 120.9 101.9 122.9 100.6 125 99.4Z" fill="#ffa200"/><path d="M72.4 83.1 73.7 89.4 71.6 92.2 69.5 95.8 67.4 99.8 65.3 104.1 64.1 97.5 66.2 93.3 68.3 89.4 70.3 85.8Z" fill="#ff7700"/><path d="M62 127.9 63.2 128.9 61.1 134 59 139.4 57 144.6 54.9 149.4 53.6 148.4 55.7 143.6 57.8 138.4 59.9 133Z" fill="#88ff77"/><path d="M105.2 87.3 106.4 88.5 104.3 89.9 102.2 91.4 100.2 93 98.1 94.8 96.8 93.8 98.9 92 101 90.3 103.1 88.8Z" fill="#ff6900"/><path d="M165.5 175.3 166.7 177.8 164.6 178.4 162.5 178.6 160.5 178.2 158.4 177.3 157.1 175 159.2 175.8 161.3 176.1 163.4 175.9Z" fill="#00b2ff"/><path d="M164.2 172.5 165.5 175.3 163.4 175.9 161.3 176.1 159.2 175.8 157.1 175 155.9 172.5 158 173.3 160.1 173.5 162.1 173.2Z" fill="#00c1ff"/><path d="M166.7 177.8 167.9 180.2 165.9 180.8 163.8 180.8 161.7 180.4 159.6 179.4 158.4 177.3 160.5 178.2 162.5 178.6 164.6 178.4Z" fill="#00a5ff"/><path d="M128.3 99.7 129.6 101.3 127.5 102.7 125.4 103.9 123.3 105.2 121.2 106.2 120 104.6 122.1 103.5 124.2 102.3 126.3 101Z" fill="#ffaa00"/><path d="M167.9 180.2 169.2 182.4 167.1 182.9 165 183 162.9 182.5 160.8 181.5 159.6 179.4 161.7 180.4 163.8 180.8 165.9 180.8Z" fill="#0099ff"/><path d="M163 169.6 164.2 172.5 162.1 173.2 160.1 173.5 158 173.3 155.9 172.5 154.7 169.9 156.7 170.5 158.8 170.7 160.9 170.3Z" fill="#00d1ff"/><path d="M69 109.9 70.3 111.3 68.2 115.6 66.1 119.4 64 123.4 62 127.9 60.7 126.5 62.8 122 64.9 118 67 114.2Z" fill="#f9ff06"/><path d="M64.1 97.5 65.3 104.1 63.3 108.3 61.2 112.1 59.1 116 57 120.4 55.8 113.4 57.9 109.1 59.9 105.3 62 101.7Z" fill="#ffcb00"/><path d="M169.2 182.4 170.4 184.5 168.3 185 166.2 185 164.2 184.5 162.1 183.4 160.8 181.5 162.9 182.5 165 183 167.1 182.9Z" fill="#008eff"/><path d="M78.6 96.9 79.8 98 77.8 100.7 75.7 104.2 73.6 108.1 71.5 112.3 70.3 111.3 72.4 107.1 74.4 103.1 76.5 99.6Z" fill="#ffb400"/><path d="M161.7 166.6 163 169.6 160.9 170.3 158.8 170.7 156.7 170.5 154.7 169.9 153.4 167.2 155.5 167.8 157.6 167.8 159.7 167.4Z" fill="#00e1ff"/><path d="M90.6 88.6 91.9 89.7 89.8 92.2 87.7 95.1 85.6 98 83.6 100.6 82.3 99.7 84.4 97.1 86.5 94.1 88.6 91.1Z" fill="#ff7b00"/><path d="M106.4 88.5 107.6 89.8 105.6 91.2 103.5 92.6 101.4 94.2 99.3 96 98.1 94.8 100.2 93 102.2 91.4 104.3 89.9Z" fill="#ff6d00"/><path d="M160.5 163.6 161.7 166.6 159.7 167.4 157.6 167.8 155.5 167.8 153.4 167.2 152.2 164.5 154.3 165 156.3 164.9 158.4 164.5Z" fill="#00f2ff"/><path d="M129.6 101.3 130.8 102.9 128.7 104.3 126.6 105.6 124.6 106.8 122.5 107.9 121.2 106.2 123.3 105.2 125.4 103.9 127.5 102.7Z" fill="#ffb200"/><path d="M170.4 184.5 171.6 186.5 169.6 187 167.5 187 165.4 186.4 163.3 185.3 162.1 183.4 164.2 184.5 166.2 185 168.3 185Z" fill="#0084ff"/><path d="M63.2 128.9 64.4 129.6 62.4 134.7 60.3 140.1 58.2 145.3 56.1 150.1 54.9 149.4 57 144.6 59 139.4 61.1 134Z" fill="#86ff79"/><path d="M159.3 160.7 160.5 163.6 158.4 164.5 156.3 164.9 154.3 165 152.2 164.5 150.9 161.9 153 162.2 155.1 162.1 157.2 161.6Z" fill="#03fffc"/><path d="M70.3 111.3 71.5 112.3 69.4 116.6 67.4 120.4 65.3 124.4 63.2 128.9 62 127.9 64 123.4 66.1 119.4 68.2 115.6Z" fill="#f5ff0a"/><path d="M171.6 186.5 172.9 188.4 170.8 188.8 168.7 188.7 166.6 188.2 164.6 187 163.3 185.3 165.4 186.4 167.5 187 169.6 187Z" fill="#007aff"/><path d="M158 157.8 159.3 160.7 157.2 161.6 155.1 162.1 153 162.2 150.9 161.9 149.7 159.3 151.8 159.5 153.9 159.3 156 158.7Z" fill="#14ffeb"/><path d="M130.8 102.9 132 104.6 130 105.9 127.9 107.2 125.8 108.4 123.7 109.5 122.5 107.9 124.6 106.8 126.6 105.6 128.7 104.3Z" fill="#ffba00"/><path d="M156.8 155 158 157.8 156 158.7 153.9 159.3 151.8 159.5 149.7 159.3 148.5 156.6 150.6 156.8 152.6 156.5 154.7 155.9Z" fill="#24ffdb"/><path d="M91.9 89.7 93.1 90.8 91 93.2 89 96 86.9 98.9 84.8 101.4 83.6 100.6 85.6 98 87.7 95.1 89.8 92.2Z" fill="#ff7d00"/><path d="M79.8 98 81.1 98.8 79 101.4 76.9 104.9 74.8 108.8 72.8 113 71.5 112.3 73.6 108.1 75.7 104.2 77.8 100.7Z" fill="#ffb600"/><path d="M107.6 89.8 108.9 91.2 106.8 92.5 104.7 93.9 102.6 95.4 100.5 97.1 99.3 96 101.4 94.2 103.5 92.6 105.6 91.2Z" fill="#ff7100"/><path d="M185.3 210.1 186.5 217.6 184.4 217.5 182.3 217.3 180.3 216.8 178.2 216 176.9 209.7 179 210.2 181.1 210.4 183.2 210.4Z" fill="#0000e3"/><path d="M155.6 152 156.8 155 154.7 155.9 152.6 156.5 150.6 156.8 148.5 156.6 147.2 154 149.3 154 151.4 153.7 153.5 153Z" fill="#34ffcb"/><path d="M172.9 188.4 174.1 190 172 190.4 170 190.3 167.9 189.7 165.8 188.6 164.6 187 166.6 188.2 168.7 188.7 170.8 188.8Z" fill="#0072ff"/><path d="M132 104.6 133.3 106.4 131.2 107.7 129.1 109 127 110.2 125 111.3 123.7 109.5 125.8 108.4 127.9 107.2 130 105.9Z" fill="#ffc200"/><path d="M154.3 149.1 155.6 152 153.5 153 151.4 153.7 149.3 154 147.2 154 146 151.3 148.1 151.3 150.2 150.8 152.2 150.1Z" fill="#45ffba"/><path d="M64.4 129.6 65.7 130.3 63.6 135.4 61.5 140.8 59.4 146 57.3 150.8 56.1 150.1 58.2 145.3 60.3 140.1 62.4 134.7Z" fill="#86ff79"/><path d="M153.1 146.2 154.3 149.1 152.2 150.1 150.2 150.8 148.1 151.3 146 151.3 144.8 148.7 146.8 148.5 148.9 148 151 147.2Z" fill="#55ffaa"/><path d="M133.3 106.4 134.5 108.4 132.4 109.7 130.4 111 128.3 112.2 126.2 113.3 125 111.3 127 110.2 129.1 109 131.2 107.7Z" fill="#ffcc00"/><path d="M71.5 112.3 72.8 113 70.7 117.2 68.6 121.1 66.5 125.1 64.4 129.6 63.2 128.9 65.3 124.4 67.4 120.4 69.4 116.6Z" fill="#f3ff0c"/><path d="M174.1 190 175.4 191.5 173.3 191.9 171.2 191.8 169.1 191.2 167 190.1 165.8 188.6 167.9 189.7 170 190.3 172 190.4Z" fill="#006bff"/><path d="M108.9 91.2 110.1 92.5 108 93.8 105.9 95.1 103.9 96.6 101.8 98.3 100.5 97.1 102.6 95.4 104.7 93.9 106.8 92.5Z" fill="#ff7600"/><path d="M151.8 143.3 153.1 146.2 151 147.2 148.9 148 146.8 148.5 144.8 148.7 143.5 146.1 145.6 145.8 147.7 145.2 149.8 144.4Z" fill="#65ff9a"/><path d="M134.5 108.4 135.8 110.6 133.7 111.9 131.6 113.2 129.5 114.3 127.4 115.3 126.2 113.3 128.3 112.2 130.4 111 132.4 109.7Z" fill="#ffd700"/><path d="M93.1 90.8 94.4 91.9 92.3 94.2 90.2 97 88.1 99.8 86 102.3 84.8 101.4 86.9 98.9 89 96 91 93.2Z" fill="#ff8000"/><path d="M150.6 140.5 151.8 143.3 149.8 144.4 147.7 145.2 145.6 145.8 143.5 146.1 142.3 143.4 144.4 143.1 146.4 142.4 148.5 141.5Z" fill="#76ff89"/><path d="M135.8 110.6 137 112.8 134.9 114.1 132.8 115.4 130.8 116.5 128.7 117.5 127.4 115.3 129.5 114.3 131.6 113.2 133.7 111.9Z" fill="#ffe200"/><path d="M81.1 98.8 82.3 99.7 80.2 102.3 78.2 105.7 76.1 109.5 74 113.7 72.8 113 74.8 108.8 76.9 104.9 79 101.4Z" fill="#ffb700"/><path d="M137 112.8 138.2 115.1 136.2 116.3 134.1 117.6 132 118.7 129.9 119.7 128.7 117.5 130.8 116.5 132.8 115.4 134.9 114.1Z" fill="#ffee00"/><path d="M149.4 137.6 150.6 140.5 148.5 141.5 146.4 142.4 144.4 143.1 142.3 143.4 141 140.9 143.1 140.4 145.2 139.7 147.3 138.7Z" fill="#86ff79"/><path d="M138.2 115.1 139.5 117.3 137.4 118.6 135.3 119.8 133.2 120.9 131.1 121.8 129.9 119.7 132 118.7 134.1 117.6 136.2 116.3Z" fill="#fffb00"/><path d="M148.1 134.9 149.4 137.6 147.3 138.7 145.2 139.7 143.1 140.4 141 140.9 139.8 138.3 141.9 137.8 144 137 146.1 136Z" fill="#95ff6a"/><path d="M175.4 191.5 176.6 192.9 174.5 193.3 172.4 193.2 170.4 192.7 168.3 191.6 167 190.1 169.1 191.2 171.2 191.8 173.3 191.9Z" fill="#0064ff"/><path d="M139.5 117.3 140.7 119.6 138.6 120.9 136.5 122.1 134.5 123.2 132.4 124 131.1 121.8 133.2 120.9 135.3 119.8 137.4 118.6Z" fill="#f7ff08"/><path d="M146.9 132.2 148.1 134.9 146.1 136 144 137 141.9 137.8 139.8 138.3 138.6 135.8 140.7 135.2 142.7 134.4 144.8 133.3Z" fill="#a4ff5b"/><path d="M110.1 92.5 111.3 93.8 109.3 95.1 107.2 96.4 105.1 97.9 103 99.5 101.8 98.3 103.9 96.6 105.9 95.1 108 93.8Z" fill="#ff7b00"/><path d="M140.7 119.6 141.9 122 139.9 123.3 137.8 124.4 135.7 125.5 133.6 126.3 132.4 124 134.5 123.2 136.5 122.1 138.6 120.9Z" fill="#eaff15"/><path d="M145.7 129.5 146.9 132.2 144.8 133.3 142.7 134.4 140.7 135.2 138.6 135.8 137.3 133.4 139.4 132.7 141.5 131.8 143.6 130.7Z" fill="#b3ff4c"/><path d="M141.9 122 143.2 124.5 141.1 125.7 139 126.8 136.9 127.8 134.9 128.6 133.6 126.3 135.7 125.5 137.8 124.4 139.9 123.3Z" fill="#ddff22"/><path d="M144.4 127 145.7 129.5 143.6 130.7 141.5 131.8 139.4 132.7 137.3 133.4 136.1 131 138.2 130.2 140.3 129.3 142.3 128.2Z" fill="#c2ff3d"/><path d="M184 207.1 185.3 210.1 183.2 210.4 181.1 210.4 179 210.2 176.9 209.7 175.7 207 177.8 207.5 179.9 207.7 181.9 207.5Z" fill="#0005ff"/><path d="M143.2 124.5 144.4 127 142.3 128.2 140.3 129.3 138.2 130.2 136.1 131 134.9 128.6 136.9 127.8 139 126.8 141.1 125.7Z" fill="#d0ff2f"/><path d="M65.7 130.3 66.9 131 64.8 136.1 62.7 141.5 60.7 146.6 58.6 151.4 57.3 150.8 59.4 146 61.5 140.8 63.6 135.4Z" fill="#85ff7a"/><path d="M72.8 113 74 113.7 71.9 118 69.8 121.8 67.8 125.8 65.7 130.3 64.4 129.6 66.5 125.1 68.6 121.1 70.7 117.2Z" fill="#f2ff0d"/><path d="M182.8 204.5 184 207.1 181.9 207.5 179.9 207.7 177.8 207.5 175.7 207 174.5 204.4 176.5 205 178.6 205.1 180.7 205Z" fill="#0014ff"/><path d="M94.4 91.9 95.6 92.9 93.5 95.2 91.4 97.9 89.4 100.6 87.3 103.1 86 102.3 88.1 99.8 90.2 97 92.3 94.2Z" fill="#ff8200"/><path d="M181.5 201.8 182.8 204.5 180.7 205 178.6 205.1 176.5 205 174.5 204.4 173.2 201.6 175.3 202.3 177.4 202.5 179.5 202.3Z" fill="#0024ff"/><path d="M176.6 192.9 177.8 194.6 175.8 195 173.7 195 171.6 194.5 169.5 193.5 168.3 191.6 170.4 192.7 172.4 193.2 174.5 193.3Z" fill="#005dff"/><path d="M180.3 199.3 181.5 201.8 179.5 202.3 177.4 202.5 175.3 202.3 173.2 201.6 172 198.8 174.1 199.6 176.1 199.9 178.2 199.7Z" fill="#0034ff"/><path d="M82.3 99.7 83.6 100.6 81.5 103.1 79.4 106.5 77.3 110.3 75.2 114.5 74 113.7 76.1 109.5 78.2 105.7 80.2 102.3Z" fill="#ffb900"/><path d="M179.1 196.8 180.3 199.3 178.2 199.7 176.1 199.9 174.1 199.6 172 198.8 170.7 196 172.8 196.9 174.9 197.2 177 197.2Z" fill="#0044ff"/><path d="M177.8 194.6 179.1 196.8 177 197.2 174.9 197.2 172.8 196.9 170.7 196 169.5 193.5 171.6 194.5 173.7 195 175.8 195Z" fill="#0052ff"/><path d="M111.3 93.8 112.6 95.2 110.5 96.4 108.4 97.7 106.3 99.2 104.3 100.8 103 99.5 105.1 97.9 107.2 96.4 109.3 95.1Z" fill="#ff8000"/><path d="M66.9 131 68.1 131.7 66.1 136.8 64 142.2 61.9 147.3 59.8 152.1 58.6 151.4 60.7 146.6 62.7 141.5 64.8 136.1Z" fill="#85ff7a"/><path d="M74 113.7 75.2 114.5 73.2 118.7 71.1 122.5 69 126.6 66.9 131 65.7 130.3 67.8 125.8 69.8 121.8 71.9 118Z" fill="#f1ff0e"/><path d="M95.6 92.9 96.8 93.8 94.8 96.1 92.7 98.7 90.6 101.4 88.5 103.8 87.3 103.1 89.4 100.6 91.4 97.9 93.5 95.2Z" fill="#ff8400"/><path d="M112.6 95.2 113.8 96.6 111.7 97.8 109.7 99.1 107.6 100.5 105.5 102.1 104.3 100.8 106.3 99.2 108.4 97.7 110.5 96.4Z" fill="#ff8600"/><path d="M83.6 100.6 84.8 101.4 82.7 104 80.6 107.3 78.6 111.1 76.5 115.2 75.2 114.5 77.3 110.3 79.4 106.5 81.5 103.1Z" fill="#ffba00"/><path d="M113.8 96.6 115.1 98.2 113 99.3 110.9 100.6 108.8 102 106.7 103.5 105.5 102.1 107.6 100.5 109.7 99.1 111.7 97.8Z" fill="#ff8c00"/><path d="M96.8 93.8 98.1 94.8 96 97 93.9 99.6 91.8 102.3 89.7 104.6 88.5 103.8 90.6 101.4 92.7 98.7 94.8 96.1Z" fill="#ff8600"/><path d="M68.1 131.7 69.4 132.4 67.3 137.5 65.2 142.8 63.1 147.9 61.1 152.7 59.8 152.1 61.9 147.3 64 142.2 66.1 136.8Z" fill="#84ff7b"/><path d="M75.2 114.5 76.5 115.2 74.4 119.4 72.3 123.2 70.2 127.3 68.1 131.7 66.9 131 69 126.6 71.1 122.5 73.2 118.7Z" fill="#f0ff0f"/><path d="M84.8 101.4 86 102.3 84 104.8 81.9 108.1 79.8 111.9 77.7 116 76.5 115.2 78.6 111.1 80.6 107.3 82.7 104Z" fill="#ffbc00"/><path d="M115.1 98.2 116.3 99.7 114.2 100.9 112.1 102.1 110.1 103.5 108 105 106.7 103.5 108.8 102 110.9 100.6 113 99.3Z" fill="#ff9300"/><path d="M116.3 99.7 117.5 101.3 115.5 102.5 113.4 103.7 111.3 105.1 109.2 106.5 108 105 110.1 103.5 112.1 102.1 114.2 100.9Z" fill="#ff9a00"/><path d="M98.1 94.8 99.3 96 97.2 98.1 95.1 100.6 93.1 103.2 91 105.5 89.7 104.6 91.8 102.3 93.9 99.6 96 97Z" fill="#ff8900"/><path d="M76.5 115.2 77.7 116 75.6 120.1 73.5 123.9 71.5 128 69.4 132.4 68.1 131.7 70.2 127.3 72.3 123.2 74.4 119.4Z" fill="#f0ff0f"/><path d="M69.4 132.4 70.6 132.9 68.5 137.9 66.5 143.3 64.4 148.3 62.3 153 61.1 152.7 63.1 147.9 65.2 142.8 67.3 137.5Z" fill="#85ff7a"/><path d="M86 102.3 87.3 103.1 85.2 105.5 83.1 108.8 81 112.5 78.9 116.6 77.7 116 79.8 111.9 81.9 108.1 84 104.8Z" fill="#ffbd00"/><path d="M117.5 101.3 118.8 103 116.7 104.1 114.6 105.3 112.5 106.6 110.4 108.1 109.2 106.5 111.3 105.1 113.4 103.7 115.5 102.5Z" fill="#ffa100"/><path d="M99.3 96 100.5 97.1 98.5 99.2 96.4 101.7 94.3 104.2 92.2 106.4 91 105.5 93.1 103.2 95.1 100.6 97.2 98.1Z" fill="#ff8c00"/><path d="M118.8 103 120 104.6 117.9 105.7 115.8 106.9 113.8 108.3 111.7 109.7 110.4 108.1 112.5 106.6 114.6 105.3 116.7 104.1Z" fill="#ffa900"/><path d="M77.7 116 78.9 116.6 76.9 120.7 74.8 124.5 72.7 128.5 70.6 132.9 69.4 132.4 71.5 128 73.5 123.9 75.6 120.1Z" fill="#efff10"/><path d="M120 104.6 121.2 106.2 119.2 107.4 117.1 108.6 115 109.9 112.9 111.3 111.7 109.7 113.8 108.3 115.8 106.9 117.9 105.7Z" fill="#ffb000"/><path d="M87.3 103.1 88.5 103.8 86.4 106.2 84.3 109.5 82.3 113.1 80.2 117.1 78.9 116.6 81 112.5 83.1 108.8 85.2 105.5Z" fill="#ffbd00"/><path d="M70.6 132.9 71.9 133.3 69.8 138.3 67.7 143.6 65.6 148.5 63.5 153.2 62.3 153 64.4 148.3 66.5 143.3 68.5 137.9Z" fill="#87ff78"/><path d="M100.5 97.1 101.8 98.3 99.7 100.4 97.6 102.7 95.5 105.2 93.5 107.4 92.2 106.4 94.3 104.2 96.4 101.7 98.5 99.2Z" fill="#ff8f00"/><path d="M121.2 106.2 122.5 107.9 120.4 109 118.3 110.2 116.2 111.5 114.2 112.9 112.9 111.3 115 109.9 117.1 108.6 119.2 107.4Z" fill="#ffb800"/><path d="M78.9 116.6 80.2 117.1 78.1 121.2 76 125 73.9 128.9 71.9 133.3 70.6 132.9 72.7 128.5 74.8 124.5 76.9 120.7Z" fill="#f0ff0f"/><path d="M122.5 107.9 123.7 109.5 121.6 110.6 119.6 111.8 117.5 113.2 115.4 114.6 114.2 112.9 116.2 111.5 118.3 110.2 120.4 109Z" fill="#ffc000"/><path d="M101.8 98.3 103 99.5 100.9 101.5 98.9 103.8 96.8 106.2 94.7 108.3 93.5 107.4 95.5 105.2 97.6 102.7 99.7 100.4Z" fill="#ff9300"/><path d="M88.5 103.8 89.7 104.6 87.7 107 85.6 110.2 83.5 113.7 81.4 117.7 80.2 117.1 82.3 113.1 84.3 109.5 86.4 106.2Z" fill="#ffbe00"/><path d="M71.9 133.3 73.1 133.7 71 138.6 68.9 143.8 66.9 148.7 64.8 153.3 63.5 153.2 65.6 148.5 67.7 143.6 69.8 138.3Z" fill="#89ff76"/><path d="M123.7 109.5 125 111.3 122.9 112.4 120.8 113.6 118.7 114.9 116.6 116.3 115.4 114.6 117.5 113.2 119.6 111.8 121.6 110.6Z" fill="#ffc800"/><path d="M125 111.3 126.2 113.3 124.1 114.4 122 115.6 120 116.8 117.9 118.2 116.6 116.3 118.7 114.9 120.8 113.6 122.9 112.4Z" fill="#ffd100"/><path d="M103 99.5 104.3 100.8 102.2 102.7 100.1 105 98 107.3 95.9 109.4 94.7 108.3 96.8 106.2 98.9 103.8 100.9 101.5Z" fill="#ff9700"/><path d="M126.2 113.3 127.4 115.3 125.4 116.4 123.3 117.6 121.2 118.8 119.1 120.2 117.9 118.2 120 116.8 122 115.6 124.1 114.4Z" fill="#ffdc00"/><path d="M89.7 104.6 91 105.5 88.9 107.8 86.8 110.9 84.7 114.4 82.7 118.3 81.4 117.7 83.5 113.7 85.6 110.2 87.7 107Z" fill="#ffbe00"/><path d="M80.2 117.1 81.4 117.7 79.3 121.7 77.3 125.4 75.2 129.3 73.1 133.7 71.9 133.3 73.9 128.9 76 125 78.1 121.2Z" fill="#f1ff0e"/><path d="M127.4 115.3 128.7 117.5 126.6 118.5 124.5 119.7 122.4 120.9 120.3 122.2 119.1 120.2 121.2 118.8 123.3 117.6 125.4 116.4Z" fill="#ffe700"/><path d="M128.7 117.5 129.9 119.7 127.8 120.7 125.7 121.8 123.7 123 121.6 124.2 120.3 122.2 122.4 120.9 124.5 119.7 126.6 118.5Z" fill="#fff200"/><path d="M104.3 100.8 105.5 102.1 103.4 104 101.3 106.2 99.3 108.5 97.2 110.5 95.9 109.4 98 107.3 100.1 105 102.2 102.7Z" fill="#ff9b00"/><path d="M73.1 133.7 74.3 134.1 72.3 138.9 70.2 144 68.1 148.9 66 153.4 64.8 153.3 66.9 148.7 68.9 143.8 71 138.6Z" fill="#8cff73"/><path d="M129.9 119.7 131.1 121.8 129.1 122.8 127 123.9 124.9 125.1 122.8 126.3 121.6 124.2 123.7 123 125.7 121.8 127.8 120.7Z" fill="#fffd00"/><path d="M131.1 121.8 132.4 124 130.3 125 128.2 126 126.1 127.2 124.1 128.3 122.8 126.3 124.9 125.1 127 123.9 129.1 122.8Z" fill="#f6ff09"/><path d="M132.4 124 133.6 126.3 131.5 127.2 129.5 128.2 127.4 129.3 125.3 130.4 124.1 128.3 126.1 127.2 128.2 126 130.3 125Z" fill="#eaff15"/><path d="M91 105.5 92.2 106.4 90.1 108.7 88.1 111.7 86 115.2 83.9 119 82.7 118.3 84.7 114.4 86.8 110.9 88.9 107.8Z" fill="#ffc000"/><path d="M133.6 126.3 134.9 128.6 132.8 129.5 130.7 130.4 128.6 131.4 126.5 132.5 125.3 130.4 127.4 129.3 129.5 128.2 131.5 127.2Z" fill="#deff21"/><path d="M105.5 102.1 106.7 103.5 104.7 105.4 102.6 107.5 100.5 109.7 98.4 111.7 97.2 110.5 99.3 108.5 101.3 106.2 103.4 104Z" fill="#ffa000"/><path d="M81.4 117.7 82.7 118.3 80.6 122.2 78.5 125.9 76.4 129.8 74.3 134.1 73.1 133.7 75.2 129.3 77.3 125.4 79.3 121.7Z" fill="#f2ff0d"/><path d="M134.9 128.6 136.1 131 134 131.8 131.9 132.7 129.9 133.6 127.8 134.6 126.5 132.5 128.6 131.4 130.7 130.4 132.8 129.5Z" fill="#d2ff2d"/><path d="M136.1 131 137.3 133.4 135.3 134.1 133.2 134.9 131.1 135.8 129 136.7 127.8 134.6 129.9 133.6 131.9 132.7 134 131.8Z" fill="#c6ff39"/><path d="M137.3 133.4 138.6 135.8 136.5 136.5 134.4 137.2 132.3 138 130.2 138.8 129 136.7 131.1 135.8 133.2 134.9 135.3 134.1Z" fill="#b9ff46"/><path d="M138.6 135.8 139.8 138.3 137.7 138.9 135.6 139.5 133.6 140.2 131.5 140.9 130.2 138.8 132.3 138 134.4 137.2 136.5 136.5Z" fill="#adff52"/><path d="M139.8 138.3 141 140.9 139 141.3 136.9 141.9 134.8 142.4 132.7 143 131.5 140.9 133.6 140.2 135.6 139.5 137.7 138.9Z" fill="#a0ff5f"/><path d="M141 140.9 142.3 143.4 140.2 143.8 138.1 144.2 136 144.7 134 145.1 132.7 143 134.8 142.4 136.9 141.9 139 141.3Z" fill="#93ff6c"/><path d="M142.3 143.4 143.5 146.1 141.4 146.3 139.4 146.7 137.3 147 135.2 147.2 134 145.1 136 144.7 138.1 144.2 140.2 143.8Z" fill="#85ff7a"/><path d="M143.5 146.1 144.8 148.7 142.7 148.9 140.6 149.1 138.5 149.2 136.4 149.4 135.2 147.2 137.3 147 139.4 146.7 141.4 146.3Z" fill="#78ff87"/><path d="M144.8 148.7 146 151.3 143.9 151.4 141.8 151.5 139.8 151.5 137.7 151.5 136.4 149.4 138.5 149.2 140.6 149.1 142.7 148.9Z" fill="#6aff95"/><path d="M106.7 103.5 108 105 105.9 106.8 103.8 108.9 101.7 111.1 99.6 113 98.4 111.7 100.5 109.7 102.6 107.5 104.7 105.4Z" fill="#ffa600"/><path d="M146 151.3 147.2 154 145.2 153.9 143.1 153.9 141 153.8 138.9 153.6 137.7 151.5 139.8 151.5 141.8 151.5 143.9 151.4Z" fill="#5dffa2"/><path d="M74.3 134.1 75.6 134.5 73.5 139.2 71.4 144.3 69.3 149 67.2 153.4 66 153.4 68.1 148.9 70.2 144 72.3 138.9Z" fill="#8fff70"/><path d="M147.2 154 148.5 156.6 146.4 156.5 144.3 156.3 142.2 156 140.1 155.7 138.9 153.6 141 153.8 143.1 153.9 145.2 153.9Z" fill="#50ffaf"/><path d="M148.5 156.6 149.7 159.3 147.6 159 145.5 158.6 143.5 158.2 141.4 157.8 140.1 155.7 142.2 156 144.3 156.3 146.4 156.5Z" fill="#43ffbc"/><path d="M92.2 106.4 93.5 107.4 91.4 109.6 89.3 112.6 87.2 115.9 85.1 119.6 83.9 119 86 115.2 88.1 111.7 90.1 108.7Z" fill="#ffc100"/><path d="M149.7 159.3 150.9 161.9 148.9 161.5 146.8 161 144.7 160.5 142.6 159.8 141.4 157.8 143.5 158.2 145.5 158.6 147.6 159Z" fill="#35ffca"/><path d="M150.9 161.9 152.2 164.5 150.1 164 148 163.4 145.9 162.7 143.9 162 142.6 159.8 144.7 160.5 146.8 161 148.9 161.5Z" fill="#28ffd7"/><path d="M152.2 164.5 153.4 167.2 151.3 166.6 149.3 165.9 147.2 165 145.1 164.1 143.9 162 145.9 162.7 148 163.4 150.1 164Z" fill="#1bffe4"/><path d="M153.4 167.2 154.7 169.9 152.6 169.1 150.5 168.3 148.4 167.3 146.3 166.3 145.1 164.1 147.2 165 149.3 165.9 151.3 166.6Z" fill="#0dfff2"/><path d="M154.7 169.9 155.9 172.5 153.8 171.6 151.7 170.7 149.7 169.6 147.6 168.4 146.3 166.3 148.4 167.3 150.5 168.3 152.6 169.1Z" fill="#00ffff"/><path d="M155.9 172.5 157.1 175 155.1 174 153 173 150.9 171.8 148.8 170.4 147.6 168.4 149.7 169.6 151.7 170.7 153.8 171.6Z" fill="#00f2ff"/><path d="M157.1 175 158.4 177.3 156.3 176.2 154.2 175.1 152.1 173.8 150 172.4 148.8 170.4 150.9 171.8 153 173 155.1 174Z" fill="#00e6ff"/><path d="M82.7 118.3 83.9 119 81.8 122.8 79.7 126.4 77.7 130.3 75.6 134.5 74.3 134.1 76.4 129.8 78.5 125.9 80.6 122.2Z" fill="#f3ff0c"/><path d="M108 105 109.2 106.5 107.1 108.3 105 110.4 103 112.5 100.9 114.3 99.6 113 101.7 111.1 103.8 108.9 105.9 106.8Z" fill="#ffac00"/><path d="M158.4 177.3 159.6 179.4 157.5 178.3 155.4 177.1 153.4 175.7 151.3 174.2 150 172.4 152.1 173.8 154.2 175.1 156.3 176.2Z" fill="#00dbff"/><path d="M176.9 209.7 178.2 216 176.1 215.5 174 215.2 171.9 215 169.8 214.8 168.6 209.2 170.7 209.2 172.8 209.3 174.9 209.4Z" fill="#000bff"/><path d="M159.6 179.4 160.8 181.5 158.8 180.3 156.7 179 154.6 177.6 152.5 176.1 151.3 174.2 153.4 175.7 155.4 177.1 157.5 178.3Z" fill="#00d0ff"/><path d="M93.5 107.4 94.7 108.3 92.6 110.5 90.5 113.4 88.5 116.7 86.4 120.3 85.1 119.6 87.2 115.9 89.3 112.6 91.4 109.6Z" fill="#ffc300"/><path d="M109.2 106.5 110.4 108.1 108.4 109.9 106.3 111.9 104.2 113.9 102.1 115.7 100.9 114.3 103 112.5 105 110.4 107.1 108.3Z" fill="#ffb200"/><path d="M160.8 181.5 162.1 183.4 160 182.2 157.9 180.9 155.8 179.5 153.8 177.9 152.5 176.1 154.6 177.6 156.7 179 158.8 180.3Z" fill="#00c7ff"/><path d="M75.6 134.5 76.8 134.8 74.7 139.5 72.6 144.4 70.6 149 68.5 153.3 67.2 153.4 69.3 149 71.4 144.3 73.5 139.2Z" fill="#92ff6d"/><path d="M83.9 119 85.1 119.6 83.1 123.4 81 126.9 78.9 130.7 76.8 134.8 75.6 134.5 77.7 130.3 79.7 126.4 81.8 122.8Z" fill="#f4ff0b"/><path d="M162.1 183.4 163.3 185.3 161.2 184.1 159.2 182.7 157.1 181.3 155 179.7 153.8 177.9 155.8 179.5 157.9 180.9 160 182.2Z" fill="#00bdff"/><path d="M110.4 108.1 111.7 109.7 109.6 111.4 107.5 113.4 105.4 115.4 103.4 117.1 102.1 115.7 104.2 113.9 106.3 111.9 108.4 109.9Z" fill="#ffb900"/><path d="M94.7 108.3 95.9 109.4 93.9 111.4 91.8 114.3 89.7 117.5 87.6 121 86.4 120.3 88.5 116.7 90.5 113.4 92.6 110.5Z" fill="#ffc400"/><path d="M163.3 185.3 164.6 187 162.5 185.8 160.4 184.5 158.3 183 156.2 181.4 155 179.7 157.1 181.3 159.2 182.7 161.2 184.1Z" fill="#00b4ff"/><path d="M175.7 207 176.9 209.7 174.9 209.4 172.8 209.3 170.7 209.2 168.6 209.2 167.4 206.1 169.5 206.3 171.5 206.5 173.6 206.7Z" fill="#0028ff"/><path d="M111.7 109.7 112.9 111.3 110.8 113 108.8 114.9 106.7 116.9 104.6 118.6 103.4 117.1 105.4 115.4 107.5 113.4 109.6 111.4Z" fill="#ffbf00"/><path d="M174.5 204.4 175.7 207 173.6 206.7 171.5 206.5 169.5 206.3 167.4 206.1 166.1 203 168.2 203.3 170.3 203.6 172.4 204Z" fill="#0039ff"/><path d="M164.6 187 165.8 188.6 163.7 187.4 161.6 186.1 159.6 184.7 157.5 183.1 156.2 181.4 158.3 183 160.4 184.5 162.5 185.8Z" fill="#00acff"/><path d="M173.2 201.6 174.5 204.4 172.4 204 170.3 203.6 168.2 203.3 166.1 203 164.9 199.6 167 200.1 169.1 200.6 171.1 201.1Z" fill="#004bff"/><path d="M76.8 134.8 78 135.2 76 139.7 73.9 144.5 71.8 149 69.7 153.2 68.5 153.3 70.6 149 72.6 144.4 74.7 139.5Z" fill="#96ff69"/><path d="M85.1 119.6 86.4 120.3 84.3 124 82.2 127.4 80.1 131.1 78 135.2 76.8 134.8 78.9 130.7 81 126.9 83.1 123.4Z" fill="#f4ff0b"/><path d="M112.9 111.3 114.2 112.9 112.1 114.6 110 116.5 107.9 118.4 105.8 120 104.6 118.6 106.7 116.9 108.8 114.9 110.8 113Z" fill="#ffc600"/><path d="M95.9 109.4 97.2 110.5 95.1 112.5 93 115.3 90.9 118.3 88.8 121.8 87.6 121 89.7 117.5 91.8 114.3 93.9 111.4Z" fill="#ffc700"/><path d="M172 198.8 173.2 201.6 171.1 201.1 169.1 200.6 167 200.1 164.9 199.6 163.7 196.1 165.7 196.8 167.8 197.5 169.9 198.1Z" fill="#005eff"/><path d="M165.8 188.6 167 190.1 165 188.9 162.9 187.7 160.8 186.4 158.7 184.9 157.5 183.1 159.6 184.7 161.6 186.1 163.7 187.4Z" fill="#00a4ff"/><path d="M114.2 112.9 115.4 114.6 113.3 116.2 111.2 118.1 109.2 119.9 107.1 121.5 105.8 120 107.9 118.4 110 116.5 112.1 114.6Z" fill="#ffcd00"/><path d="M170.7 196 172 198.8 169.9 198.1 167.8 197.5 165.7 196.8 163.7 196.1 162.4 192.5 164.5 193.4 166.6 194.3 168.7 195.1Z" fill="#0072ff"/><path d="M167 190.1 168.3 191.6 166.2 190.5 164.1 189.3 162 188.1 159.9 186.8 158.7 184.9 160.8 186.4 162.9 187.7 165 188.9Z" fill="#009cff"/><path d="M169.5 193.5 170.7 196 168.7 195.1 166.6 194.3 164.5 193.4 162.4 192.5 161.2 189.2 163.3 190.4 165.3 191.5 167.4 192.5Z" fill="#0084ff"/><path d="M97.2 110.5 98.4 111.7 96.3 113.6 94.2 116.3 92.2 119.3 90.1 122.7 88.8 121.8 90.9 118.3 93 115.3 95.1 112.5Z" fill="#ffca00"/><path d="M168.3 191.6 169.5 193.5 167.4 192.5 165.3 191.5 163.3 190.4 161.2 189.2 159.9 186.8 162 188.1 164.1 189.3 166.2 190.5Z" fill="#0092ff"/><path d="M115.4 114.6 116.6 116.3 114.6 117.9 112.5 119.7 110.4 121.5 108.3 123.1 107.1 121.5 109.2 119.9 111.2 118.1 113.3 116.2Z" fill="#ffd500"/><path d="M86.4 120.3 87.6 121 85.5 124.6 83.4 128 81.4 131.5 79.3 135.5 78 135.2 80.1 131.1 82.2 127.4 84.3 124Z" fill="#f5ff0a"/><path d="M78 135.2 79.3 135.5 77.2 139.9 75.1 144.6 73 149 71 153 69.7 153.2 71.8 149 73.9 144.5 76 139.7Z" fill="#9aff65"/><path d="M116.6 116.3 117.9 118.2 115.8 119.8 113.7 121.5 111.6 123.3 109.5 124.7 108.3 123.1 110.4 121.5 112.5 119.7 114.6 117.9Z" fill="#ffdd00"/><path d="M98.4 111.7 99.6 113 97.6 114.9 95.5 117.5 93.4 120.4 91.3 123.6 90.1 122.7 92.2 119.3 94.2 116.3 96.3 113.6Z" fill="#ffcd00"/><path d="M117.9 118.2 119.1 120.2 117 121.7 114.9 123.4 112.9 125.1 110.8 126.5 109.5 124.7 111.6 123.3 113.7 121.5 115.8 119.8Z" fill="#ffe700"/><path d="M119.1 120.2 120.3 122.2 118.3 123.7 116.2 125.3 114.1 126.9 112 128.2 110.8 126.5 112.9 125.1 114.9 123.4 117 121.7Z" fill="#fff000"/><path d="M87.6 121 88.8 121.8 86.8 125.3 84.7 128.6 82.6 132 80.5 135.9 79.3 135.5 81.4 131.5 83.4 128 85.5 124.6Z" fill="#f6ff09"/><path d="M120.3 122.2 121.6 124.2 119.5 125.7 117.4 127.2 115.3 128.8 113.3 130 112 128.2 114.1 126.9 116.2 125.3 118.3 123.7Z" fill="#fffa00"/><path d="M99.6 113 100.9 114.3 98.8 116.1 96.7 118.6 94.6 121.5 92.6 124.6 91.3 123.6 93.4 120.4 95.5 117.5 97.6 114.9Z" fill="#ffd100"/><path d="M79.3 135.5 80.5 135.9 78.4 140.2 76.4 144.7 74.3 148.9 72.2 152.8 71 153 73 149 75.1 144.6 77.2 139.9Z" fill="#9eff61"/><path d="M121.6 124.2 122.8 126.3 120.7 127.6 118.7 129.1 116.6 130.6 114.5 131.8 113.3 130 115.3 128.8 117.4 127.2 119.5 125.7Z" fill="#faff05"/><path d="M122.8 126.3 124.1 128.3 122 129.6 119.9 131.1 117.8 132.4 115.7 133.5 114.5 131.8 116.6 130.6 118.7 129.1 120.7 127.6Z" fill="#f1ff0e"/><path d="M100.9 114.3 102.1 115.7 100 117.5 98 119.9 95.9 122.6 93.8 125.6 92.6 124.6 94.6 121.5 96.7 118.6 98.8 116.1Z" fill="#ffd500"/><path d="M88.8 121.8 90.1 122.7 88 126.1 85.9 129.2 83.8 132.6 81.8 136.3 80.5 135.9 82.6 132 84.7 128.6 86.8 125.3Z" fill="#f6ff09"/><path d="M124.1 128.3 125.3 130.4 123.2 131.6 121.1 133 119.1 134.3 117 135.3 115.7 133.5 117.8 132.4 119.9 131.1 122 129.6Z" fill="#e7ff18"/><path d="M125.3 130.4 126.5 132.5 124.5 133.7 122.4 134.9 120.3 136.1 118.2 137 117 135.3 119.1 134.3 121.1 133 123.2 131.6Z" fill="#ddff22"/><path d="M102.1 115.7 103.4 117.1 101.3 118.8 99.2 121.2 97.1 123.8 95 126.7 93.8 125.6 95.9 122.6 98 119.9 100 117.5Z" fill="#ffda00"/><path d="M126.5 132.5 127.8 134.6 125.7 135.6 123.6 136.8 121.5 137.9 119.4 138.7 118.2 137 120.3 136.1 122.4 134.9 124.5 133.7Z" fill="#d3ff2c"/><path d="M80.5 135.9 81.8 136.3 79.7 140.5 77.6 144.8 75.5 148.9 73.4 152.7 72.2 152.8 74.3 148.9 76.4 144.7 78.4 140.2Z" fill="#a2ff5d"/><path d="M90.1 122.7 91.3 123.6 89.2 126.9 87.2 130 85.1 133.2 83 136.8 81.8 136.3 83.8 132.6 85.9 129.2 88 126.1Z" fill="#f5ff0a"/><path d="M127.8 134.6 129 136.7 126.9 137.6 124.8 138.7 122.8 139.6 120.7 140.3 119.4 138.7 121.5 137.9 123.6 136.8 125.7 135.6Z" fill="#caff35"/><path d="M103.4 117.1 104.6 118.6 102.5 120.2 100.4 122.5 98.4 125 96.3 127.8 95 126.7 97.1 123.8 99.2 121.2 101.3 118.8Z" fill="#ffdf00"/><path d="M129 136.7 130.2 138.8 128.2 139.6 126.1 140.5 124 141.4 121.9 141.9 120.7 140.3 122.8 139.6 124.8 138.7 126.9 137.6Z" fill="#c0ff3f"/><path d="M130.2 138.8 131.5 140.9 129.4 141.6 127.3 142.4 125.2 143.1 123.2 143.5 121.9 141.9 124 141.4 126.1 140.5 128.2 139.6Z" fill="#b7ff48"/><path d="M104.6 118.6 105.8 120 103.8 121.6 101.7 123.8 99.6 126.2 97.5 128.9 96.3 127.8 98.4 125 100.4 122.5 102.5 120.2Z" fill="#ffe400"/><path d="M91.3 123.6 92.6 124.6 90.5 127.8 88.4 130.7 86.3 133.8 84.2 137.2 83 136.8 85.1 133.2 87.2 130 89.2 126.9Z" fill="#f4ff0b"/><path d="M81.8 136.3 83 136.8 80.9 140.8 78.8 145 76.8 148.9 74.7 152.5 73.4 152.7 75.5 148.9 77.6 144.8 79.7 140.5Z" fill="#a6ff59"/><path d="M131.5 140.9 132.7 143 130.6 143.6 128.6 144.2 126.5 144.8 124.4 145.1 123.2 143.5 125.2 143.1 127.3 142.4 129.4 141.6Z" fill="#aeff51"/><path d="M132.7 143 134 145.1 131.9 145.6 129.8 146 127.7 146.4 125.6 146.6 124.4 145.1 126.5 144.8 128.6 144.2 130.6 143.6Z" fill="#a5ff5a"/><path d="M105.8 120 107.1 121.5 105 123 102.9 125.1 100.8 127.5 98.7 130 97.5 128.9 99.6 126.2 101.7 123.8 103.8 121.6Z" fill="#ffe900"/><path d="M134 145.1 135.2 147.2 133.1 147.6 131 147.9 129 148.1 126.9 148.1 125.6 146.6 127.7 146.4 129.8 146 131.9 145.6Z" fill="#9bff64"/><path d="M92.6 124.6 93.8 125.6 91.7 128.7 89.6 131.5 87.6 134.5 85.5 137.7 84.2 137.2 86.3 133.8 88.4 130.7 90.5 127.8Z" fill="#f3ff0c"/><path d="M135.2 147.2 136.4 149.4 134.4 149.5 132.3 149.7 130.2 149.8 128.1 149.6 126.9 148.1 129 148.1 131 147.9 133.1 147.6Z" fill="#92ff6d"/><path d="M107.1 121.5 108.3 123.1 106.2 124.5 104.1 126.5 102.1 128.8 100 131.2 98.7 130 100.8 127.5 102.9 125.1 105 123Z" fill="#ffef00"/><path d="M83 136.8 84.2 137.2 82.2 141.1 80.1 145.1 78 148.9 75.9 152.3 74.7 152.5 76.8 148.9 78.8 145 80.9 140.8Z" fill="#a9ff56"/><path d="M136.4 149.4 137.7 151.5 135.6 151.5 133.5 151.5 131.4 151.4 129.3 151 128.1 149.6 130.2 149.8 132.3 149.7 134.4 149.5Z" fill="#89ff76"/><path d="M108.3 123.1 109.5 124.7 107.5 126.1 105.4 128 103.3 130.1 101.2 132.4 100 131.2 102.1 128.8 104.1 126.5 106.2 124.5Z" fill="#fff500"/><path d="M137.7 151.5 138.9 153.6 136.8 153.4 134.7 153.2 132.7 153 130.6 152.5 129.3 151 131.4 151.4 133.5 151.5 135.6 151.5Z" fill="#80ff7f"/><path d="M93.8 125.6 95 126.7 93 129.6 90.9 132.3 88.8 135.1 86.7 138.3 85.5 137.7 87.6 134.5 89.6 131.5 91.7 128.7Z" fill="#f2ff0d"/><path d="M138.9 153.6 140.1 155.7 138.1 155.3 136 155 133.9 154.5 131.8 153.9 130.6 152.5 132.7 153 134.7 153.2 136.8 153.4Z" fill="#78ff87"/><path d="M109.5 124.7 110.8 126.5 108.7 127.8 106.6 129.6 104.5 131.6 102.5 133.7 101.2 132.4 103.3 130.1 105.4 128 107.5 126.1Z" fill="#fffb00"/><path d="M84.2 137.2 85.5 137.7 83.4 141.4 81.3 145.3 79.2 148.9 77.1 152 75.9 152.3 78 148.9 80.1 145.1 82.2 141.1Z" fill="#adff52"/><path d="M140.1 155.7 141.4 157.8 139.3 157.3 137.2 156.7 135.1 156.1 133.1 155.3 131.8 153.9 133.9 154.5 136 155 138.1 155.3Z" fill="#6fff90"/><path d="M95 126.7 96.3 127.8 94.2 130.6 92.1 133.1 90 135.8 87.9 138.8 86.7 138.3 88.8 135.1 90.9 132.3 93 129.6Z" fill="#f1ff0e"/><path d="M110.8 126.5 112 128.2 109.9 129.5 107.9 131.2 105.8 133 103.7 135.1 102.5 133.7 104.5 131.6 106.6 129.6 108.7 127.8Z" fill="#fcff03"/><path d="M141.4 157.8 142.6 159.8 140.5 159.2 138.5 158.5 136.4 157.7 134.3 156.7 133.1 155.3 135.1 156.1 137.2 156.7 139.3 157.3Z" fill="#67ff98"/><path d="M168.6 209.2 169.8 214.8 167.8 214.5 165.7 214.1 163.6 213.6 161.5 212.9 160.3 207.8 162.4 208.3 164.4 208.7 166.5 209Z" fill="#0035ff"/><path d="M112 128.2 113.3 130 111.2 131.2 109.1 132.8 107 134.5 104.9 136.4 103.7 135.1 105.8 133 107.9 131.2 109.9 129.5Z" fill="#f5ff0a"/><path d="M142.6 159.8 143.9 162 141.8 161.1 139.7 160.2 137.6 159.3 135.5 158.1 134.3 156.7 136.4 157.7 138.5 158.5 140.5 159.2Z" fill="#5effa1"/><path d="M96.3 127.8 97.5 128.9 95.4 131.6 93.3 134 91.3 136.5 89.2 139.4 87.9 138.8 90 135.8 92.1 133.1 94.2 130.6Z" fill="#efff10"/><path d="M143.9 162 145.1 164.1 143 163.1 140.9 162.1 138.9 160.9 136.8 159.6 135.5 158.1 137.6 159.3 139.7 160.2 141.8 161.1Z" fill="#55ffaa"/><path d="M113.3 130 114.5 131.8 112.4 132.8 110.3 134.3 108.3 136 106.2 137.7 104.9 136.4 107 134.5 109.1 132.8 111.2 131.2Z" fill="#eeff11"/><path d="M85.5 137.7 86.7 138.3 84.6 141.8 82.5 145.5 80.5 148.8 78.4 151.8 77.1 152 79.2 148.9 81.3 145.3 83.4 141.4Z" fill="#b0ff4f"/><path d="M145.1 164.1 146.3 166.3 144.3 165.1 142.2 163.9 140.1 162.6 138 161.2 136.8 159.6 138.9 160.9 140.9 162.1 143 163.1Z" fill="#4cffb3"/><path d="M167.4 206.1 168.6 209.2 166.5 209 164.4 208.7 162.4 208.3 160.3 207.8 159 204.3 161.1 204.9 163.2 205.4 165.3 205.8Z" fill="#0051ff"/><path d="M114.5 131.8 115.7 133.5 113.7 134.5 111.6 135.9 109.5 137.4 107.4 139 106.2 137.7 108.3 136 110.3 134.3 112.4 132.8Z" fill="#e7ff18"/><path d="M146.3 166.3 147.6 168.4 145.5 167.1 143.4 165.7 141.3 164.3 139.2 162.7 138 161.2 140.1 162.6 142.2 163.9 144.3 165.1Z" fill="#42ffbd"/><path d="M97.5 128.9 98.7 130 96.7 132.6 94.6 134.9 92.5 137.3 90.4 139.9 89.2 139.4 91.3 136.5 93.3 134 95.4 131.6Z" fill="#edff12"/><path d="M166.1 203 167.4 206.1 165.3 205.8 163.2 205.4 161.1 204.9 159 204.3 157.8 200.5 159.9 201.2 162 201.9 164.1 202.5Z" fill="#0066ff"/><path d="M115.7 133.5 117 135.3 114.9 136.2 112.8 137.4 110.7 138.8 108.6 140.3 107.4 139 109.5 137.4 111.6 135.9 113.7 134.5Z" fill="#e0ff1f"/><path d="M147.6 168.4 148.8 170.4 146.7 169 144.6 167.5 142.6 165.9 140.5 164.2 139.2 162.7 141.3 164.3 143.4 165.7 145.5 167.1Z" fill="#39ffc6"/><path d="M86.7 138.3 87.9 138.8 85.9 142.1 83.8 145.6 81.7 148.8 79.6 151.6 78.4 151.8 80.5 148.8 82.5 145.5 84.6 141.8Z" fill="#b4ff4b"/><path d="M148.8 170.4 150 172.4 148 170.8 145.9 169.2 143.8 167.5 141.7 165.7 140.5 164.2 142.6 165.9 144.6 167.5 146.7 169Z" fill="#31ffce"/><path d="M164.9 199.6 166.1 203 164.1 202.5 162 201.9 159.9 201.2 157.8 200.5 156.6 196.3 158.7 197.2 160.7 198.1 162.8 198.9Z" fill="#007dff"/><path d="M117 135.3 118.2 137 116.1 137.8 114 139 112 140.2 109.9 141.5 108.6 140.3 110.7 138.8 112.8 137.4 114.9 136.2Z" fill="#d9ff26"/><path d="M98.7 130 100 131.2 97.9 133.6 95.8 135.8 93.7 138 91.7 140.5 90.4 139.9 92.5 137.3 94.6 134.9 96.7 132.6Z" fill="#ebff14"/><path d="M150 172.4 151.3 174.2 149.2 172.6 147.1 170.9 145 169.1 143 167.2 141.7 165.7 143.8 167.5 145.9 169.2 148 170.8Z" fill="#29ffd6"/><path d="M118.2 137 119.4 138.7 117.4 139.4 115.3 140.4 113.2 141.5 111.1 142.7 109.9 141.5 112 140.2 114 139 116.1 137.8Z" fill="#d3ff2c"/><path d="M151.3 174.2 152.5 176.1 150.4 174.4 148.4 172.6 146.3 170.8 144.2 168.8 143 167.2 145 169.1 147.1 170.9 149.2 172.6Z" fill="#20ffdf"/><path d="M163.7 196.1 164.9 199.6 162.8 198.9 160.7 198.1 158.7 197.2 156.6 196.3 155.3 192 157.4 193.2 159.5 194.2 161.6 195.2Z" fill="#0095ff"/><path d="M100 131.2 101.2 132.4 99.1 134.7 97.1 136.7 95 138.8 92.9 141.1 91.7 140.5 93.7 138 95.8 135.8 97.9 133.6Z" fill="#e9ff16"/><path d="M152.5 176.1 153.8 177.9 151.7 176.2 149.6 174.4 147.5 172.5 145.4 170.5 144.2 168.8 146.3 170.8 148.4 172.6 150.4 174.4Z" fill="#18ffe7"/><path d="M119.4 138.7 120.7 140.3 118.6 140.9 116.5 141.8 114.4 142.8 112.4 143.8 111.1 142.7 113.2 141.5 115.3 140.4 117.4 139.4Z" fill="#cdff32"/><path d="M87.9 138.8 89.2 139.4 87.1 142.5 85 145.8 82.9 148.8 80.9 151.3 79.6 151.6 81.7 148.8 83.8 145.6 85.9 142.1Z" fill="#b7ff48"/><path d="M153.8 177.9 155 179.7 152.9 178 150.8 176.1 148.8 174.2 146.7 172.3 145.4 170.5 147.5 172.5 149.6 174.4 151.7 176.2Z" fill="#0ffff0"/><path d="M162.4 192.5 163.7 196.1 161.6 195.2 159.5 194.2 157.4 193.2 155.3 192 154.1 187.5 156.2 188.9 158.3 190.2 160.3 191.4Z" fill="#00aeff"/><path d="M120.7 140.3 121.9 141.9 119.8 142.4 117.8 143.1 115.7 144 113.6 144.9 112.4 143.8 114.4 142.8 116.5 141.8 118.6 140.9Z" fill="#c7ff38"/><path d="M101.2 132.4 102.5 133.7 100.4 135.9 98.3 137.7 96.2 139.7 94.1 141.8 92.9 141.1 95 138.8 97.1 136.7 99.1 134.7Z" fill="#e7ff18"/><path d="M155 179.7 156.2 181.4 154.2 179.7 152.1 177.9 150 176 147.9 174 146.7 172.3 148.8 174.2 150.8 176.1 152.9 178Z" fill="#06fff9"/><path d="M156.2 181.4 157.5 183.1 155.4 181.4 153.3 179.7 151.2 177.8 149.1 175.9 147.9 174 150 176 152.1 177.9 154.2 179.7Z" fill="#00fdff"/><path d="M121.9 141.9 123.2 143.5 121.1 143.8 119 144.4 116.9 145.1 114.8 145.9 113.6 144.9 115.7 144 117.8 143.1 119.8 142.4Z" fill="#c2ff3d"/><path d="M89.2 139.4 90.4 139.9 88.3 142.9 86.3 146 84.2 148.7 82.1 151.1 80.9 151.3 82.9 148.8 85 145.8 87.1 142.5Z" fill="#bbff44"/><path d="M161.2 189.2 162.4 192.5 160.3 191.4 158.3 190.2 156.2 188.9 154.1 187.5 152.9 183.4 154.9 185 157 186.5 159.1 187.9Z" fill="#00c7ff"/><path d="M102.5 133.7 103.7 135.1 101.6 137 99.5 138.8 97.5 140.5 95.4 142.5 94.1 141.8 96.2 139.7 98.3 137.7 100.4 135.9Z" fill="#e4ff1b"/><path d="M157.5 183.1 158.7 184.9 156.6 183.3 154.5 181.6 152.5 179.8 150.4 178 149.1 175.9 151.2 177.8 153.3 179.7 155.4 181.4Z" fill="#00f3ff"/><path d="M159.9 186.8 161.2 189.2 159.1 187.9 157 186.5 154.9 185 152.9 183.4 151.6 180.3 153.7 182 155.8 183.7 157.9 185.3Z" fill="#00dbff"/><path d="M158.7 184.9 159.9 186.8 157.9 185.3 155.8 183.7 153.7 182 151.6 180.3 150.4 178 152.5 179.8 154.5 181.6 156.6 183.3Z" fill="#00e9ff"/><path d="M123.2 143.5 124.4 145.1 122.3 145.2 120.2 145.7 118.2 146.2 116.1 146.9 114.8 145.9 116.9 145.1 119 144.4 121.1 143.8Z" fill="#bdff42"/><path d="M103.7 135.1 104.9 136.4 102.9 138.2 100.8 139.8 98.7 141.4 96.6 143.2 95.4 142.5 97.5 140.5 99.5 138.8 101.6 137Z" fill="#e1ff1e"/><path d="M90.4 139.9 91.7 140.5 89.6 143.3 87.5 146.2 85.4 148.7 83.3 150.9 82.1 151.1 84.2 148.7 86.3 146 88.3 142.9Z" fill="#beff41"/><path d="M124.4 145.1 125.6 146.6 123.6 146.6 121.5 147 119.4 147.3 117.3 147.8 116.1 146.9 118.2 146.2 120.2 145.7 122.3 145.2Z" fill="#b8ff47"/><path d="M104.9 136.4 106.2 137.7 104.1 139.4 102 140.8 99.9 142.3 97.8 143.8 96.6 143.2 98.7 141.4 100.8 139.8 102.9 138.2Z" fill="#deff21"/><path d="M125.6 146.6 126.9 148.1 124.8 148 122.7 148.2 120.6 148.4 118.5 148.7 117.3 147.8 119.4 147.3 121.5 147 123.6 146.6Z" fill="#b3ff4c"/><path d="M91.7 140.5 92.9 141.1 90.8 143.7 88.7 146.4 86.7 148.7 84.6 150.6 83.3 150.9 85.4 148.7 87.5 146.2 89.6 143.3Z" fill="#c1ff3e"/><path d="M106.2 137.7 107.4 139 105.3 140.6 103.2 141.8 101.2 143.1 99.1 144.6 97.8 143.8 99.9 142.3 102 140.8 104.1 139.4Z" fill="#dbff24"/><path d="M126.9 148.1 128.1 149.6 126 149.3 123.9 149.4 121.9 149.4 119.8 149.6 118.5 148.7 120.6 148.4 122.7 148.2 124.8 148Z" fill="#afff50"/><path d="M128.1 149.6 129.3 151 127.3 150.6 125.2 150.5 123.1 150.4 121 150.4 119.8 149.6 121.9 149.4 123.9 149.4 126 149.3Z" fill="#abff54"/><path d="M107.4 139 108.6 140.3 106.6 141.7 104.5 142.8 102.4 144 100.3 145.2 99.1 144.6 101.2 143.1 103.2 141.8 105.3 140.6Z" fill="#d8ff27"/><path d="M92.9 141.1 94.1 141.8 92.1 144.2 90 146.6 87.9 148.7 85.8 150.4 84.6 150.6 86.7 148.7 88.7 146.4 90.8 143.7Z" fill="#c5ff3a"/><path d="M129.3 151 130.6 152.5 128.5 151.9 126.4 151.6 124.3 151.4 122.3 151.2 121 150.4 123.1 150.4 125.2 150.5 127.3 150.6Z" fill="#a7ff58"/><path d="M108.6 140.3 109.9 141.5 107.8 142.8 105.7 143.8 103.6 144.8 101.6 145.9 100.3 145.2 102.4 144 104.5 142.8 106.6 141.7Z" fill="#d5ff2a"/><path d="M130.6 152.5 131.8 153.9 129.7 153.1 127.7 152.7 125.6 152.3 123.5 152 122.3 151.2 124.3 151.4 126.4 151.6 128.5 151.9Z" fill="#a3ff5c"/><path d="M94.1 141.8 95.4 142.5 93.3 144.6 91.2 146.8 89.1 148.7 87 150.1 85.8 150.4 87.9 148.7 90 146.6 92.1 144.2Z" fill="#c8ff37"/><path d="M109.9 141.5 111.1 142.7 109 143.8 107 144.7 104.9 145.5 102.8 146.5 101.6 145.9 103.6 144.8 105.7 143.8 107.8 142.8Z" fill="#d3ff2c"/><path d="M131.8 153.9 133.1 155.3 131 154.4 128.9 153.8 126.8 153.2 124.7 152.8 123.5 152 125.6 152.3 127.7 152.7 129.7 153.1Z" fill="#9fff60"/><path d="M111.1 142.7 112.4 143.8 110.3 144.8 108.2 145.5 106.1 146.2 104 147 102.8 146.5 104.9 145.5 107 144.7 109 143.8Z" fill="#d1ff2e"/><path d="M160.3 207.8 161.5 212.9 159.4 212.2 157.4 211.3 155.3 210.2 153.2 209 152 204.6 154 205.7 156.1 206.5 158.2 207.2Z" fill="#0068ff"/><path d="M95.4 142.5 96.6 143.2 94.5 145.1 92.4 147.1 90.4 148.8 88.3 150 87 150.1 89.1 148.7 91.2 146.8 93.3 144.6Z" fill="#caff35"/><path d="M133.1 155.3 134.3 156.7 132.2 155.6 130.1 154.9 128.1 154.2 126 153.7 124.7 152.8 126.8 153.2 128.9 153.8 131 154.4Z" fill="#9cff63"/><path d="M112.4 143.8 113.6 144.9 111.5 145.7 109.4 146.3 107.4 146.9 105.3 147.5 104 147 106.1 146.2 108.2 145.5 110.3 144.8Z" fill="#d0ff2f"/><path d="M134.3 156.7 135.5 158.1 133.5 156.9 131.4 156 129.3 155.2 127.2 154.6 126 153.7 128.1 154.2 130.1 154.9 132.2 155.6Z" fill="#98ff67"/><path d="M159 204.3 160.3 207.8 158.2 207.2 156.1 206.5 154 205.7 152 204.6 150.7 200.9 152.8 202 154.9 202.8 157 203.6Z" fill="#0083ff"/><path d="M96.6 143.2 97.8 143.8 95.8 145.6 93.7 147.4 91.6 148.8 89.5 149.8 88.3 150 90.4 148.8 92.4 147.1 94.5 145.1Z" fill="#cdff32"/><path d="M135.5 158.1 136.8 159.6 134.7 158.3 132.6 157.2 130.5 156.3 128.4 155.5 127.2 154.6 129.3 155.2 131.4 156 133.5 156.9Z" fill="#93ff6c"/><path d="M113.6 144.9 114.8 145.9 112.8 146.6 110.7 147 108.6 147.5 106.5 148 105.3 147.5 107.4 146.9 109.4 146.3 111.5 145.7Z" fill="#ceff31"/><path d="M157.8 200.5 159 204.3 157 203.6 154.9 202.8 152.8 202 150.7 200.9 149.5 196.7 151.6 197.8 153.6 198.8 155.7 199.6Z" fill="#009bff"/><path d="M136.8 159.6 138 161.2 135.9 159.7 133.8 158.5 131.8 157.4 129.7 156.5 128.4 155.5 130.5 156.3 132.6 157.2 134.7 158.3Z" fill="#8eff71"/><path d="M97.8 143.8 99.1 144.6 97 146.1 94.9 147.7 92.8 149 90.8 149.7 89.5 149.8 91.6 148.8 93.7 147.4 95.8 145.6Z" fill="#cfff30"/><path d="M114.8 145.9 116.1 146.9 114 147.4 111.9 147.7 109.8 148.1 107.7 148.5 106.5 148 108.6 147.5 110.7 147 112.8 146.6Z" fill="#ceff31"/><path d="M156.6 196.3 157.8 200.5 155.7 199.6 153.6 198.8 151.6 197.8 149.5 196.7 148.2 192.1 150.3 193.2 152.4 194.3 154.5 195.3Z" fill="#00b6ff"/><path d="M138 161.2 139.2 162.7 137.2 161.1 135.1 159.8 133 158.6 130.9 157.5 129.7 156.5 131.8 157.4 133.8 158.5 135.9 159.7Z" fill="#89ff76"/><path d="M116.1 146.9 117.3 147.8 115.2 148.2 113.1 148.4 111.1 148.6 109 148.9 107.7 148.5 109.8 148.1 111.9 147.7 114 147.4Z" fill="#cdff32"/><path d="M139.2 162.7 140.5 164.2 138.4 162.5 136.3 161.1 134.2 159.7 132.2 158.6 130.9 157.5 133 158.6 135.1 159.8 137.2 161.1Z" fill="#84ff7b"/><path d="M99.1 144.6 100.3 145.2 98.2 146.6 96.2 148 94.1 149.1 92 149.7 90.8 149.7 92.8 149 94.9 147.7 97 146.1Z" fill="#d2ff2d"/><path d="M155.3 192 156.6 196.3 154.5 195.3 152.4 194.3 150.3 193.2 148.2 192.1 147 187.2 149.1 188.5 151.2 189.7 153.3 190.8Z" fill="#00d4ff"/><path d="M140.5 164.2 141.7 165.7 139.6 163.9 137.6 162.4 135.5 160.9 133.4 159.7 132.2 158.6 134.2 159.7 136.3 161.1 138.4 162.5Z" fill="#7fff80"/><path d="M117.3 147.8 118.5 148.7 116.5 149 114.4 149.1 112.3 149.2 110.2 149.3 109 148.9 111.1 148.6 113.1 148.4 115.2 148.2Z" fill="#ccff33"/><path d="M100.3 145.2 101.6 145.9 99.5 147.1 97.4 148.3 95.3 149.2 93.2 149.6 92 149.7 94.1 149.1 96.2 148 98.2 146.6Z" fill="#d4ff2b"/><path d="M141.7 165.7 143 167.2 140.9 165.4 138.8 163.7 136.7 162.2 134.6 160.9 133.4 159.7 135.5 160.9 137.6 162.4 139.6 163.9Z" fill="#7aff85"/><path d="M154.1 187.5 155.3 192 153.3 190.8 151.2 189.7 149.1 188.5 147 187.2 145.8 182.1 147.9 183.4 149.9 184.7 152 186.1Z" fill="#00f3ff"/><path d="M143 167.2 144.2 168.8 142.1 166.9 140 165.2 138 163.6 135.9 162.2 134.6 160.9 136.7 162.2 138.8 163.7 140.9 165.4Z" fill="#74ff8b"/><path d="M118.5 148.7 119.8 149.6 117.7 149.7 115.6 149.7 113.5 149.7 111.5 149.7 110.2 149.3 112.3 149.2 114.4 149.1 116.5 149Z" fill="#ccff33"/><path d="M144.2 168.8 145.4 170.5 143.4 168.6 141.3 166.8 139.2 165.2 137.1 163.7 135.9 162.2 138 163.6 140 165.2 142.1 166.9Z" fill="#6dff92"/><path d="M101.6 145.9 102.8 146.5 100.7 147.6 98.6 148.6 96.6 149.2 94.5 149.5 93.2 149.6 95.3 149.2 97.4 148.3 99.5 147.1Z" fill="#d7ff28"/><path d="M152.9 183.4 154.1 187.5 152 186.1 149.9 184.7 147.9 183.4 145.8 182.1 144.5 177.4 146.6 178.8 148.7 180.3 150.8 181.8Z" fill="#12ffed"/><path d="M145.4 170.5 146.7 172.3 144.6 170.3 142.5 168.5 140.4 166.8 138.3 165.3 137.1 163.7 139.2 165.2 141.3 166.8 143.4 168.6Z" fill="#65ff9a"/><path d="M119.8 149.6 121 150.4 118.9 150.4 116.9 150.3 114.8 150.2 112.7 150.1 111.5 149.7 113.5 149.7 115.6 149.7 117.7 149.7Z" fill="#ccff33"/><path d="M146.7 172.3 147.9 174 145.8 172.1 143.7 170.3 141.7 168.6 139.6 167.1 138.3 165.3 140.4 166.8 142.5 168.5 144.6 170.3Z" fill="#5dffa2"/><path d="M147.9 174 149.1 175.9 147.1 173.9 145 172.2 142.9 170.5 140.8 168.9 139.6 167.1 141.7 168.6 143.7 170.3 145.8 172.1Z" fill="#54ffab"/><path d="M151.6 180.3 152.9 183.4 150.8 181.8 148.7 180.3 146.6 178.8 144.5 177.4 143.3 173.8 145.4 175.3 147.5 176.9 149.5 178.5Z" fill="#2affd5"/><path d="M102.8 146.5 104 147 102 148 99.9 148.8 97.8 149.3 95.7 149.3 94.5 149.5 96.6 149.2 98.6 148.6 100.7 147.6Z" fill="#daff25"/><path d="M149.1 175.9 150.4 178 148.3 176.1 146.2 174.4 144.1 172.7 142.1 171.2 140.8 168.9 142.9 170.5 145 172.2 147.1 173.9Z" fill="#49ffb6"/><path d="M150.4 178 151.6 180.3 149.5 178.5 147.5 176.9 145.4 175.3 143.3 173.8 142.1 171.2 144.1 172.7 146.2 174.4 148.3 176.1Z" fill="#3cffc3"/><path d="M121 150.4 122.3 151.2 120.2 151.1 118.1 150.8 116 150.6 113.9 150.5 112.7 150.1 114.8 150.2 116.9 150.3 118.9 150.4Z" fill="#ccff33"/><path d="M104 147 105.3 147.5 103.2 148.3 101.1 149 99 149.3 96.9 149.2 95.7 149.3 97.8 149.3 99.9 148.8 102 148Z" fill="#ddff22"/><path d="M122.3 151.2 123.5 152 121.4 151.8 119.3 151.4 117.3 151.1 115.2 150.9 113.9 150.5 116 150.6 118.1 150.8 120.2 151.1Z" fill="#ccff33"/><path d="M123.5 152 124.7 152.8 122.7 152.4 120.6 152 118.5 151.6 116.4 151.3 115.2 150.9 117.3 151.1 119.3 151.4 121.4 151.8Z" fill="#ccff33"/><path d="M105.3 147.5 106.5 148 104.4 148.6 102.3 149.1 100.3 149.3 98.2 149 96.9 149.2 99 149.3 101.1 149 103.2 148.3Z" fill="#e0ff1f"/><path d="M124.7 152.8 126 153.7 123.9 153.2 121.8 152.6 119.7 152.1 117.6 151.8 116.4 151.3 118.5 151.6 120.6 152 122.7 152.4Z" fill="#ccff33"/><path d="M106.5 148 107.7 148.5 105.7 148.9 103.6 149.3 101.5 149.3 99.4 148.9 98.2 149 100.3 149.3 102.3 149.1 104.4 148.6Z" fill="#e4ff1b"/><path d="M126 153.7 127.2 154.6 125.1 153.9 123 153.3 121 152.8 118.9 152.3 117.6 151.8 119.7 152.1 121.8 152.6 123.9 153.2Z" fill="#ccff33"/><path d="M152 204.6 153.2 209 151.1 207.5 149 206 147 204.3 144.9 202.3 143.6 199.3 145.7 200.9 147.8 202.3 149.9 203.5Z" fill="#00acff"/><path d="M107.7 148.5 109 148.9 106.9 149.2 104.8 149.5 102.7 149.4 100.7 148.8 99.4 148.9 101.5 149.3 103.6 149.3 105.7 148.9Z" fill="#e7ff18"/><path d="M150.7 200.9 152 204.6 149.9 203.5 147.8 202.3 145.7 200.9 143.6 199.3 142.4 196 144.5 197.4 146.6 198.7 148.6 199.9Z" fill="#00c3ff"/><path d="M127.2 154.6 128.4 155.5 126.4 154.8 124.3 154 122.2 153.4 120.1 152.9 118.9 152.3 121 152.8 123 153.3 125.1 153.9Z" fill="#cbff34"/><path d="M149.5 196.7 150.7 200.9 148.6 199.9 146.6 198.7 144.5 197.4 142.4 196 141.2 191.9 143.2 193.3 145.3 194.5 147.4 195.6Z" fill="#00dbff"/><path d="M128.4 155.5 129.7 156.5 127.6 155.6 125.5 154.8 123.4 154.1 121.4 153.5 120.1 152.9 122.2 153.4 124.3 154 126.4 154.8Z" fill="#c9ff36"/><path d="M109 148.9 110.2 149.3 108.1 149.6 106.1 149.7 104 149.5 101.9 148.8 100.7 148.8 102.7 149.4 104.8 149.5 106.9 149.2Z" fill="#eaff15"/><path d="M129.7 156.5 130.9 157.5 128.8 156.6 126.8 155.6 124.7 154.8 122.6 154.2 121.4 153.5 123.4 154.1 125.5 154.8 127.6 155.6Z" fill="#c8ff37"/><path d="M148.2 192.1 149.5 196.7 147.4 195.6 145.3 194.5 143.2 193.3 141.2 191.9 139.9 187.3 142 188.6 144.1 189.8 146.2 191Z" fill="#00f8ff"/><path d="M110.2 149.3 111.5 149.7 109.4 149.9 107.3 149.9 105.2 149.5 103.1 148.7 101.9 148.8 104 149.5 106.1 149.7 108.1 149.6Z" fill="#edff12"/><path d="M130.9 157.5 132.2 158.6 130.1 157.5 128 156.5 125.9 155.6 123.8 154.9 122.6 154.2 124.7 154.8 126.8 155.6 128.8 156.6Z" fill="#c6ff39"/><path d="M147 187.2 148.2 192.1 146.2 191 144.1 189.8 142 188.6 139.9 187.3 138.7 182.3 140.8 183.7 142.8 184.9 144.9 186Z" fill="#18ffe7"/><path d="M111.5 149.7 112.7 150.1 110.6 150.1 108.5 150.1 106.5 149.6 104.4 148.7 103.1 148.7 105.2 149.5 107.3 149.9 109.4 149.9Z" fill="#f1ff0e"/><path d="M132.2 158.6 133.4 159.7 131.3 158.5 129.2 157.5 127.2 156.5 125.1 155.7 123.8 154.9 125.9 155.6 128 156.5 130.1 157.5Z" fill="#c4ff3b"/><path d="M133.4 159.7 134.6 160.9 132.6 159.7 130.5 158.5 128.4 157.5 126.3 156.6 125.1 155.7 127.2 156.5 129.2 157.5 131.3 158.5Z" fill="#c1ff3e"/><path d="M145.8 182.1 147 187.2 144.9 186 142.8 184.9 140.8 183.7 138.7 182.3 137.4 177 139.5 178.3 141.6 179.5 143.7 180.8Z" fill="#3affc5"/><path d="M112.7 150.1 113.9 150.5 111.9 150.4 109.8 150.2 107.7 149.7 105.6 148.7 104.4 148.7 106.5 149.6 108.5 150.1 110.6 150.1Z" fill="#f4ff0b"/><path d="M134.6 160.9 135.9 162.2 133.8 160.9 131.7 159.7 129.6 158.7 127.5 157.7 126.3 156.6 128.4 157.5 130.5 158.5 132.6 159.7Z" fill="#bdff42"/><path d="M135.9 162.2 137.1 163.7 135 162.4 132.9 161.1 130.9 160 128.8 159 127.5 157.7 129.6 158.7 131.7 159.7 133.8 160.9Z" fill="#b7ff48"/><path d="M113.9 150.5 115.2 150.9 113.1 150.7 111 150.4 108.9 149.8 106.8 148.7 105.6 148.7 107.7 149.7 109.8 150.2 111.9 150.4Z" fill="#f7ff08"/><path d="M144.5 177.4 145.8 182.1 143.7 180.8 141.6 179.5 139.5 178.3 137.4 177 136.2 172.1 138.3 173.4 140.4 174.7 142.5 176Z" fill="#5bffa4"/><path d="M137.1 163.7 138.3 165.3 136.3 163.9 134.2 162.6 132.1 161.5 130 160.4 128.8 159 130.9 160 132.9 161.1 135 162.4Z" fill="#b1ff4e"/><path d="M138.3 165.3 139.6 167.1 137.5 165.6 135.4 164.3 133.3 163.1 131.3 161.9 130 160.4 132.1 161.5 134.2 162.6 136.3 163.9Z" fill="#aaff55"/><path d="M143.3 173.8 144.5 177.4 142.5 176 140.4 174.7 138.3 173.4 136.2 172.1 135 168.4 137.1 169.7 139.1 171 141.2 172.4Z" fill="#76ff89"/><path d="M139.6 167.1 140.8 168.9 138.7 167.5 136.7 166.1 134.6 164.8 132.5 163.6 131.3 161.9 133.3 163.1 135.4 164.3 137.5 165.6Z" fill="#a2ff5d"/><path d="M115.2 150.9 116.4 151.3 114.3 151 112.2 150.7 110.2 150 108.1 148.8 106.8 148.7 108.9 149.8 111 150.4 113.1 150.7Z" fill="#faff05"/><path d="M140.8 168.9 142.1 171.2 140 169.7 137.9 168.3 135.8 167.1 133.7 165.8 132.5 163.6 134.6 164.8 136.7 166.1 138.7 167.5Z" fill="#97ff68"/><path d="M142.1 171.2 143.3 173.8 141.2 172.4 139.1 171 137.1 169.7 135 168.4 133.7 165.8 135.8 167.1 137.9 168.3 140 169.7Z" fill="#89ff76"/><path d="M116.4 151.3 117.6 151.8 115.6 151.4 113.5 151 111.4 150.2 109.3 149 108.1 148.8 110.2 150 112.2 150.7 114.3 151Z" fill="#fdff02"/><path d="M117.6 151.8 118.9 152.3 116.8 151.9 114.7 151.4 112.6 150.5 110.6 149.2 109.3 149 111.4 150.2 113.5 151 115.6 151.4Z" fill="#ffff00"/><path d="M118.9 152.3 120.1 152.9 118 152.4 116 151.8 113.9 150.9 111.8 149.5 110.6 149.2 112.6 150.5 114.7 151.4 116.8 151.9Z" fill="#fffe00"/><path d="M120.1 152.9 121.4 153.5 119.3 152.9 117.2 152.2 115.1 151.2 113 149.8 111.8 149.5 113.9 150.9 116 151.8 118 152.4Z" fill="#fffd00"/><path d="M121.4 153.5 122.6 154.2 120.5 153.5 118.4 152.7 116.4 151.6 114.3 150.1 113 149.8 115.1 151.2 117.2 152.2 119.3 152.9Z" fill="#fffb00"/><path d="M143.6 199.3 144.9 202.3 142.8 199.8 140.7 196.9 138.6 193.5 136.5 189.5 135.3 188.4 137.4 191.9 139.5 194.8 141.6 197.3Z" fill="#11ffee"/><path d="M142.4 196 143.6 199.3 141.6 197.3 139.5 194.8 137.4 191.9 135.3 188.4 134.1 186 136.2 189.2 138.2 191.9 140.3 194.1Z" fill="#1fffe0"/><path d="M141.2 191.9 142.4 196 140.3 194.1 138.2 191.9 136.2 189.2 134.1 186 132.8 182.5 134.9 185.6 137 188.1 139.1 190.2Z" fill="#33ffcc"/><path d="M122.6 154.2 123.8 154.9 121.8 154.1 119.7 153.3 117.6 152.1 115.5 150.4 114.3 150.1 116.4 151.6 118.4 152.7 120.5 153.5Z" fill="#fffb00"/><path d="M139.9 187.3 141.2 191.9 139.1 190.2 137 188.1 134.9 185.6 132.8 182.5 131.6 178.4 133.7 181.3 135.8 183.7 137.8 185.7Z" fill="#4dffb2"/><path d="M123.8 154.9 125.1 155.7 123 154.9 120.9 153.9 118.8 152.6 116.7 150.9 115.5 150.4 117.6 152.1 119.7 153.3 121.8 154.1Z" fill="#fffb00"/><path d="M125.1 155.7 126.3 156.6 124.2 155.7 122.1 154.7 120.1 153.3 118 151.5 116.7 150.9 118.8 152.6 120.9 153.9 123 154.9Z" fill="#fffb00"/><path d="M138.7 182.3 139.9 187.3 137.8 185.7 135.8 183.7 133.7 181.3 131.6 178.4 130.4 173.9 132.4 176.7 134.5 178.9 136.6 180.8Z" fill="#6bff94"/><path d="M126.3 156.6 127.5 157.7 125.5 156.7 123.4 155.6 121.3 154.2 119.2 152.2 118 151.5 120.1 153.3 122.1 154.7 124.2 155.7Z" fill="#fffd00"/><path d="M137.4 177 138.7 182.3 136.6 180.8 134.5 178.9 132.4 176.7 130.4 173.9 129.1 168.7 131.2 171.4 133.3 173.6 135.4 175.4Z" fill="#8cff73"/><path d="M127.5 157.7 128.8 159 126.7 157.9 124.6 156.7 122.5 155.1 120.5 153.1 119.2 152.2 121.3 154.2 123.4 155.6 125.5 156.7Z" fill="#feff01"/><path d="M128.8 159 130 160.4 127.9 159.2 125.9 157.9 123.8 156.3 121.7 154.2 120.5 153.1 122.5 155.1 124.6 156.7 126.7 157.9Z" fill="#faff05"/><path d="M136.2 172.1 137.4 177 135.4 175.4 133.3 173.6 131.2 171.4 129.1 168.7 127.9 164.1 130 166.7 132 168.8 134.1 170.6Z" fill="#aeff51"/><path d="M130 160.4 131.3 161.9 129.2 160.7 127.1 159.3 125 157.5 122.9 155.3 121.7 154.2 123.8 156.3 125.9 157.9 127.9 159.2Z" fill="#f5ff0a"/><path d="M131.3 161.9 132.5 163.6 130.4 162.3 128.3 160.8 126.3 158.9 124.2 156.6 122.9 155.3 125 157.5 127.1 159.3 129.2 160.7Z" fill="#efff10"/><path d="M135 168.4 136.2 172.1 134.1 170.6 132 168.8 130 166.7 127.9 164.1 126.6 160.6 128.7 163.2 130.8 165.2 132.9 166.9Z" fill="#c8ff37"/><path d="M132.5 163.6 133.7 165.8 131.7 164.4 129.6 162.8 127.5 160.8 125.4 158.3 124.2 156.6 126.3 158.9 128.3 160.8 130.4 162.3Z" fill="#e7ff18"/><path d="M133.7 165.8 135 168.4 132.9 166.9 130.8 165.2 128.7 163.2 126.6 160.6 125.4 158.3 127.5 160.8 129.6 162.8 131.7 164.4Z" fill="#dbff24"/></g>
<defs><clipPath id="sil"><path d="M188.5 217.6 182.2 217.4 174.8 215.1 167.8 214.6 163.5 213.6 156.8 211.1 147.0 204.6 144.1 201.8 140.1 196.5 134.9 188.0 132.1 181.2 126.9 161.5 124.6 157.2 120.0 153.4 115.0 151.4 104.0 149.4 90.5 149.6 69.0 153.4 62.2 153.1 54.2 149.1 50.9 145.2 48.1 140.0 47.1 133.0 49.4 128.8 55.6 113.0 69.9 86.0 74.6 80.0 80.1 70.8 89.9 60.0 99.5 50.4 103.8 46.9 117.2 36.9 123.8 32.9 139.0 25.9 141.6 39.0 144.4 49.2 148.9 61.5 151.6 67.2 158.4 77.0 167.0 85.6 175.1 92.2 201.6 128.8 210.6 145.2 216.9 158.0 219.9 162.5 222.1 167.0 223.9 172.5 227.1 187.5 228.1 202.5 222.2 206.6 213.5 211.1 208.0 213.4 194.8 216.9 188.5 217.6Z"/></clipPath><radialGradient id="dk"><stop offset="0" stop-color="#000" stop-opacity="1"/><stop offset="0.5" stop-color="#000" stop-opacity="0.75"/><stop offset="1" stop-color="#000" stop-opacity="0"/></radialGradient></defs>
<g clip-path="url(#sil)"><ellipse cx="128.5" cy="153" rx="9" ry="6.5" fill="url(#dk)"/><ellipse cx="113" cy="148.5" rx="15" ry="3" fill="url(#dk)" opacity="0.7"/></g>
<line x1="41.6" y1="69.5" x2="41.6" y2="206.5" stroke="#6e6e6e"/>
<line x1="38" y1="69.5" x2="41.6" y2="69.5" stroke="#6e6e6e"/>
<line x1="38" y1="96.9" x2="41.6" y2="96.9" stroke="#6e6e6e"/>
<line x1="38" y1="124.3" x2="41.6" y2="124.3" stroke="#6e6e6e"/>
<line x1="38" y1="151.7" x2="41.6" y2="151.7" stroke="#6e6e6e"/>
<line x1="38" y1="179.1" x2="41.6" y2="179.1" stroke="#6e6e6e"/>
<line x1="38" y1="206.5" x2="41.6" y2="206.5" stroke="#6e6e6e"/>
<line x1="41.6" y1="206.5" x2="140.6" y2="255.2" stroke="#6e6e6e"/>
<line x1="140.6" y1="255.2" x2="239" y2="206.6" stroke="#6e6e6e"/>
<line x1="41.6" y1="206.5" x2="44.6" y2="205.0" stroke="#6e6e6e"/>
<line x1="91.1" y1="230.8" x2="94.1" y2="229.3" stroke="#6e6e6e"/>
<line x1="140.6" y1="255.2" x2="143.6" y2="253.7" stroke="#6e6e6e"/>
<line x1="140.6" y1="255.2" x2="137.6" y2="253.7" stroke="#6e6e6e"/>
<line x1="173.4" y1="239.0" x2="170.4" y2="237.5" stroke="#6e6e6e"/>
<line x1="206.2" y1="222.8" x2="203.2" y2="221.3" stroke="#6e6e6e"/>
<line x1="239.0" y1="206.6" x2="236.0" y2="205.1" stroke="#6e6e6e"/>
<g fill="none" stroke-width="0.6"><path d="M460.2 15.5 433.1 17.1 425.4 17.8 411.9 19.3 405.4 19.6 401.7 19.4 397.7 18.7 393.2 17.4 388.3 15.5" stroke="#0000f0"/><path d="M496.4 15.5 495.9 16.3 495 17 486.5 18.1 440.4 20.5 426.6 21.6 411.5 23.4 405.4 23.7 402.6 23.5 399.3 23.1 395.6 22.2 392 21 386.7 18.7 384.6 17.3 382.7 15.5" stroke="#0000f8"/><path d="M498 15.5 496.7 18.6 495.4 20.3 494.6 20.7 490.1 21.4 482 22.2 451.9 23.7 438.4 24.7 426.2 25.8 411.5 27.7 405.4 28.1 401.7 27.8 397.7 27 393.2 25.5 387.9 23.4 385.4 21.9 383.4 20.2 381.4 18 379.4 15.5" stroke="#0002ff"/><path d="M499.5 15.5 497.1 21.4 495.9 23.6 495 24.3 491.4 25 481.6 26.2 452.7 27.9 440.4 28.8 427 30.2 411.9 32.2 405.4 32.7 400.9 32.3 396.4 31.2 392.4 29.8 387.5 27.4 384.6 25.3 382.2 22.9 379.3 19.3 376.9 15.5" stroke="#000aff"/><path d="M501 15.5 497.1 25.1 495.9 27.4 495 28.2 491.8 29 486.9 29.9 481.6 30.6 451 32.4 436.8 33.5 426.6 34.6 411.9 36.6 405.4 37 400.9 36.7 396 35.5 391.1 33.7 388.3 32.3 386.7 31.3 385 30 383.4 28.4 379.7 23.8 376.9 19.4 375.3 15.5" stroke="#0012ff"/><path d="M502.3 15.5 500.7 19.8 496.3 30.8 495.4 32 495 32.2 493 32.8 488.5 33.8 482.4 34.7 451.4 36.6 440 37.5 427 38.8 411.1 41.3 405.4 41.7 403 41.6 400.5 41.2 395.2 39.7 388.7 36.9 385.4 34.7 383.4 32.8 381.7 30.8 377.3 24 375.7 20.5 374.1 15.5" stroke="#001aff"/><path d="M503.5 15.5 501.1 22.4 497.1 33.1 495.8 35.4 495 36.2 494.2 36.4 488.9 37.8 482.4 38.8 453.5 40.8 443.7 41.6 427.8 43.5 411.9 46.2 405.4 46.7 403 46.6 400.1 46.1 396.8 45.3 394 44.2 388.3 41.2 384.2 37.9 382.2 35.7 380.6 33.6 378.7 30.8 376.9 27.5 375.3 23.3 373.1 15.5" stroke="#0023ff"/><path d="M504.7 15.5 500.3 28.6 497.1 37 496.3 38.6 495.4 39.8 495 40.1 493 40.9 488.1 42.3 481.6 43.5 451.9 45.7 442.1 46.6 427.8 48.3 411.5 51 405.4 51.5 403 51.4 400.1 50.9 396.8 50.1 394 49 388.3 46.1 386.5 44.7 384.6 42.9 382.6 40.5 379.7 36.6 376.5 31.1 374.4 24.6 372.2 15.5" stroke="#002bff"/><path d="M505.8 15.5 501.1 30.4 497.1 41 496.3 42.9 495.4 44.2 493.8 45.1 488.9 46.6 482 48 452.3 50.2 442.5 51.1 427.8 53 411.9 55.8 405.4 56.3 402.6 56.2 399.7 55.7 396 54.6 393.2 53.5 389.9 51.8 387.5 50.2 385 48.1 383 45.8 380.1 41.7 376.9 36.1 376.1 34.3 374.6 29.5 371.2 15.5" stroke="#0033ff"/><path d="M507 15.5 502 32.1 497.5 44.4 495.9 47.9 495 48.8 494.2 49.1 488.9 51 482 52.5 451.9 54.8 442.5 55.8 427.8 57.7 411.9 60.6 405.4 61.2 402.6 61 399.3 60.4 395.2 59.1 392.4 57.9 389.1 56 387.1 54.6 384.2 51.9 382.2 49.4 378.7 44.1 376.9 40.4 375.7 37.4 373.9 31.5 370.3 15.5" stroke="#003bff"/><path d="M508.1 15.5 503 32.8 498.2 46.7 496.9 50.1 495.9 52.1 495 53 494.2 53.4 488.9 55.4 484.9 56.5 481.6 57.1 452.3 59.4 443.3 60.3 428.6 62.3 418.4 64.3 412.3 65.3 408.7 65.7 405.4 65.9 402.1 65.6 398.9 65 395.2 63.9 392.4 62.7 389.1 60.8 387.1 59.3 384.2 56.5 381.8 53.5 378.1 47.6 376.1 43.2 373.2 32.9 369.5 15.5" stroke="#0044ff"/><path d="M509.1 15.5 504.4 32.4 500.5 44.7 496.7 54.8 495.4 56.8 494.6 57.4 492.2 58.6 489.3 59.7 485.3 60.9 482 61.6 475.1 62.3 449.4 64.2 433.1 66.1 425.8 67.4 410.3 71.8 407.8 72.3 405.4 72.5 402.6 72.1 399.3 71 394.4 68.5 388.7 65.2 386.7 63.6 384.2 61.2 382.2 58.7 380.6 56.3 376.9 49.8 375.3 45.4 371.7 30.8 368.7 15.5" stroke="#004cff"/><path d="M510.2 15.5 505.7 32.1 501.5 46.1 497.1 58.1 495.9 60.5 495 61.5 492.6 62.8 489.5 64 485.3 65.3 482 66 453.5 68.6 447.8 69.3 442.9 70.2 437.6 71.4 431.1 73.2 417.2 77.8 410.3 79.4 405.4 79.9 402.6 79.7 399.3 78.8 395.6 77.3 393.5 76 391.1 73.8 386.4 68 382.7 64 379.3 59 376.5 53.6 374.4 47.1 370.8 30.9 367.9 15.5" stroke="#0054ff"/><path d="M511.2 15.5 507.1 31.5 502 49 500.3 53.8 497.1 62.3 495.9 64.7 495 65.6 485.3 70.5 481.2 72.1 476.7 73 470.6 74 449 76.8 435.6 79.2 426.4 81.3 417.6 84.4 410.7 86.5 407.8 87.1 405.4 87.4 403.8 87.3 401.7 86.8 399.7 86.1 397.3 84.9 394 83 388.7 78.6 387.5 77.2 386.2 75.3 382.6 68.7 379.6 64 377.7 60.6 376.5 58.2 375.7 56 373.4 47.4 370.1 32.1 367.2 15.5" stroke="#005cff"/><path d="M512.2 15.5 508.2 31.5 504.6 44.7 500.6 57.4 497.9 64.5 495.4 70 493.4 72.4 490.8 74.7 488.8 76 486.2 77.3 483.6 78.4 481.2 79.1 474.3 80.1 451.4 82.6 444.9 83.8 438.3 85.3 428.2 88.2 418.4 92.4 411.5 94.9 408.3 95.8 405.4 96.1 403 95.8 400.1 94.9 396.8 93.2 394 91.2 392 89.2 388.7 85.4 383.8 78.4 382.4 76 379.6 68.7 376.5 62.8 374.4 56.5 372.3 47.4 370 36 366.4 15.5" stroke="#0064ff"/><path d="M513.1 15.5 508.9 33.1 503.1 54.1 500.7 61.3 498.2 68 496.1 75.3 495 77.3 493.8 78.5 491.8 80 488.9 81.8 484.4 84.2 481.6 85.4 473.4 87 451.4 90.2 445.7 91.4 439.6 92.9 432.7 95 427.4 96.9 417.6 102 410.7 105.3 407.8 106.2 405.4 106.5 402.6 106 399.7 104.7 395.2 101.5 393.2 99.4 389.5 94.8 387.9 92.4 383.8 84.9 380 77.3 377.3 69.3 375.3 64 373.2 56 370.6 44.1 365.5 15.5" stroke="#006dff"/><path d="M514.1 15.5 510.2 32.1 506.7 46.1 502.8 59.4 499.6 68.7 497.4 77.3 496.3 80.6 495.4 82.2 493.8 84.2 491.8 86.2 489.3 88.3 486.1 90.6 483.6 92.1 481.6 93 473.4 94.8 452.3 98.2 447.8 99.2 443.3 100.5 436.8 102.8 429.9 105.7 427 107.2 419.3 111.7 413.6 114.2 408.7 116 405.4 116.5 402.6 116.1 399.7 114.9 395.2 112.1 393.2 110.2 391.1 107.3 388.7 103.1 383.4 92 381.8 88.3 376.9 75.9 375.1 68 373 60 370.1 46.7 366.4 24.8 364.6 15.5" stroke="#0075ff"/><path d="M515 15.5 507.9 46.1 504.4 58.6 501.4 68 499.1 77.3 496.7 85.4 495.4 88.7 493.8 91.1 491.8 93.4 489.3 95.7 485.3 99 482.8 100.7 481.2 101.5 477.1 102.8 472.2 104 451 108.2 444.1 110.2 436 112.9 429.9 115.3 426.6 116.9 423.9 118.5 417.6 122.9 409.9 127.6 407.4 128.6 405.4 128.9 404.2 128.8 403 128.4 400.1 126.8 395.6 122.9 393.6 120.6 389.1 113.9 387.9 111.7 381.8 96.4 376.5 80.9 375.3 76.6 373.8 68 371.4 58 370 51.4 365.9 26.5 363.7 15.5" stroke="#007dff"/><path d="M516 15.5 508.5 48.3 505.6 58.8 502.9 68 501 76.7 496.7 92.2 495 96.5 492.6 100.1 489.7 103.7 484.4 108.9 482.4 110.4 480.8 111.1 477.1 112.2 472.6 113.2 455.9 116 450.5 117.2 444.1 119.2 436.8 122.4 431.5 125.2 427.8 127.6 425.2 129.8 418.4 136.2 409.9 142.9 407.4 144.4 405.4 144.8 403.4 144.4 400.9 142.8 397.3 139.1 395.2 136.8 394 135 392.4 131.9 389.1 124.5 386.6 117.9 383.6 111.2 382.4 107.9 376.9 89.6 374.2 78 372.6 68 370.8 60.2 369.6 53.9 365.1 26.8 362.7 15.5" stroke="#0085ff"/><path d="M517 15.5 509.7 47.9 507.3 57.5 504.2 68 502.5 76.7 497.1 97.9 495.9 102.2 495 104.4 492.2 109.2 490.6 111.4 488.5 113.6 483.6 118 481.2 119.7 477.5 121.1 473 122.5 455.9 126.6 449.4 128.7 444.5 130.9 439.2 133.7 434.3 136.8 429.9 140 427.8 141.8 426 143.8 424.5 145.8 422.8 148.5 415.9 161.7 411.5 171 409.9 173.9 408.7 175.6 407.4 176.8 406.2 177.6 405.4 177.7 404.6 177.6 403.8 177.3 402.7 176.4 401.7 175.1 400.1 172.3 398.1 167.4 394.8 158 391.3 145.1 388.3 135.9 385.4 125.8 381 112.8 379.5 107.9 376.5 96.2 375.3 90.6 372.7 76.7 371.4 68 369 56 365.9 36.6 364 26.1 361.7 15.5" stroke="#008eff"/><path d="M395.9 227.6 395.5 205 395 197.6 393.5 185.7 391.8 178.4 391.1 174.9 387.2 147.8 385.7 140.5 380 118.5 377.7 110.6 376.5 105.6 371.5 76.7 370.3 68 368.4 57.4 365.5 39.2 360.7 15.5M518 15.5 510.3 50.1 508.1 59.1 505.6 68 503.9 76.7 496.9 106.6 495.9 110.5 495 112.5 493 115.9 488.9 121.9 484 128.2 481.6 130.7 477.9 132.7 473.4 134.5 467.7 136.3 455.1 139.8 451.4 141.1 448.6 142.5 444.2 145.1 440.8 147.8 437.2 151.6 433.9 155.8 431 160.4 428.6 165.1 423.2 178.4 420.2 184.3 419.5 187 417.5 195.6 416.5 202.3 416 214.3 415.9 227.6" stroke="#0096ff"/><path d="M389.4 227.6 389.2 203 388.6 189 388.2 184.3 384.8 155.8 382.8 143.8 378.8 124.5 375.3 109.2 370.3 76.7 369.2 67.4 364.7 40 359.9 15.5M519 15.5 511.1 51.4 506.9 68 505.3 76.7 498.1 109.9 496.7 115.3 495 120.3 492.6 125.8 489.3 132.1 484 140.5 481.6 143.6 478.3 146.1 473 149.6 468.1 152.3 457.6 157.6 454.3 159.7 451.9 161.6 449 164.3 445.3 168.6 434.1 183.7 433.2 185.7 431.7 191 430.6 195.6 429.9 200.3 429.4 210.3 429.1 227.6" stroke="#009eff"/><path d="M385.9 227.6 385.8 201.6 385.1 186.3 383.3 172.4 380.8 149.8 379.6 141.8 373.8 109.9 369.3 76.7 368.3 67.4 363.7 40.1 359.1 15.5M520.1 15.5 517.7 25.5 511.9 52.7 508.1 68 506.7 76 505 84 499.9 109.9 496.3 125.5 495 129.9 492.6 136.6 487.3 149.1 482.8 161.7 481.6 164.5 480.8 165.8 478.3 169 476.3 171.4 474.3 173.4 471.8 175.4 466.5 178.8 459.6 182.4 456.3 184.4 455.1 185.7 454.3 186.9 452 191 450.8 193.7 449.8 196.8 449.1 199.6 448.6 203 448 214.9 447.8 227.6" stroke="#00a6ff"/><path d="M382.5 227.6 382.4 201.6 381.8 185.7 378.3 150.4 372.4 109.8 368.4 76.7 367.4 67.4 358.3 15.5M521.2 15.5 518.5 26.8 512.6 54.7 509.4 68 508.1 76 506.1 85.3 501.6 109.9 496.3 135.7 492.3 150.4 488.1 167.3 483.2 185 481.4 196.3 480.6 203 480.2 215.6 480 227.6" stroke="#00afff"/><path d="M379.8 227.6 379.6 201.6 379.1 185.7 375.5 146.5 372.3 119.2 370.9 108.6 366.6 68 360.2 31.5 357.6 15.5M522.2 15.5 517.1 38.1 513.4 56.1 510.5 68 509.3 76 507.5 85.3 503.2 109.9 496.9 143.8 492.6 168.2 489.5 183.7 488.7 191.7 488.1 201 487.8 227.6" stroke="#00b7ff"/><path d="M377.3 227.6 377.2 201.6 376.7 185.7 375.5 172.4 373.4 143.8 369.7 109.2 365.7 68 361.4 44.1 356.9 15.5M523.3 15.5 518 38.8 514.8 54.7 511.7 68 510.5 76 509 84 504.8 109.5 502.9 119.9 498.5 146.5 493.3 185 492.5 201.6 492.4 227.6" stroke="#00bfff"/><path d="M375 227.6 374.9 201.6 374.4 185.7 373.4 173 372 146.5 370.1 124.5 368.7 109.9 366.6 86 364.8 68.7 360.7 45.4 356.3 15.5M524.2 15.5 512.9 68 511.7 76 510.3 84 506.3 109.2 504.2 121.9 500.7 145.1 496.7 178.4 496 185 495.5 201 495.3 227.6" stroke="#00c7ff"/><path d="M372.8 227.6 372.7 201 372.3 185 371.6 175.2 370.3 144.5 366.7 97.9 365.5 84 363.7 68 360.2 47.3 355.6 15.5M525.1 15.5 521.9 31.4 514 68 512.9 76 511.4 84.6 507.7 109.9 505.9 120.5 502.6 143.8 498.4 185 497.9 201 497.8 227.6" stroke="#00d0ff"/><path d="M370.9 227.6 370.8 202.3 370.5 188.3 369.8 176.4 368.9 145.8 367.3 118.5 365.3 92.6 362.8 68.7 359.8 50.1 354.9 15.5M525.9 15.5 522.7 32.6 515.2 68 514.1 76 512.5 85.3 509.1 109.9 507.4 120.5 504.4 143.8 500.5 185 500.1 201 500 227.6" stroke="#00d8ff"/><path d="M369.1 227.6 368.9 197.6 368.6 185 368.2 177.7 367.8 148.5 366.3 118.5 364.4 93.9 361.9 68.7 359.4 52.8 355.8 26.1 354.2 15.5M526.6 15.5 523.6 33.7 516.2 68.7 515.3 76 513.8 85.3 509.1 119.2 506.2 142.5 502.5 185 502.1 201 502 227.6" stroke="#00e0ff"/><path d="M367.5 227.6 367.5 198.3 367.2 185.7 366.8 177.7 366.6 147.8 365.2 118.5 363.5 94.6 360.9 68.7 359 55.3 355 25.5 353.5 15.5M527.3 15.5 524.8 32.1 522.6 44.1 517.3 68.7 510.5 119.2 508 141.1 507 151.1 504.4 185 504 201 503.9 227.6" stroke="#00e8ff"/><path d="M366.3 227.6 366.2 199 366 185.7 365.6 177.7 365.5 147.8 364.3 119.2 362.5 94.6 360 68 354.5 26.3 352.7 15.5M528 15.5 525.6 32.3 523.5 44.7 518.4 69.3 517.6 76 516 86.6 511.9 119.2 509.7 139.8 508.7 150.4 506.4 185 505.9 201 505.9 227.6" stroke="#00f1ff"/><path d="M365.1 227.6 365.1 199.6 364.8 185.7 364.5 177.7 364.4 147.1 363.2 118.5 361.6 95.3 359.2 68 354 27.5 351.9 15.5M528.5 15.5 526.4 31.9 524.4 45.4 522.7 54.5 519.6 69.3 515.9 97.3 513.1 121.2 511.4 138.5 510.4 149.8 508.2 185.7 507.8 201.6 507.7 227.6" stroke="#00f9ff"/><path d="M364 227.6 364 199.6 363.5 177.7 363.4 147.1 362.3 118.5 360.8 95.9 358.5 68 354.1 33.3 352.8 24.9 351.1 15.5M529 15.5 527.2 30.8 525.2 45.9 523.1 58 521 68 520.1 76 518.7 85.1 514.8 119.2 512.8 139.1 512.1 149.1 510.8 173.7 510 185.7 509.7 201.6 509.6 227.6" stroke="#02fffd"/><path d="M363 227.6 363 199.6 362.5 177.7 362.4 147.1 361.3 118.5 359.9 95.3 357.8 68 354 37.4 352.3 26.1 350.4 15.5M529.4 15.5 528 29 526 45.9 524.4 56.8 522.2 68 521.3 76 519.7 86.6 516.1 119.2 514.4 138.5 513.7 149.1 512.6 174.4 511.8 187 511.5 201.6 511.4 227.6" stroke="#0afff5"/><path d="M362.1 227.6 362.1 199 361.6 177.7 361.5 147.1 360.4 117.9 359 94.6 357.1 68 353.5 38.8 349.7 15.5M529.8 15.5 528.4 30.2 526.4 48.4 525.1 58 523.4 68 522.5 76 521.4 84 520.1 94.6 516.8 127.8 515.4 147.1 514.4 176.4 513.7 187 513.4 201.6 513.3 227.6" stroke="#13ffec"/><path d="M361.2 227.6 361.2 199 360.8 177.7 360.6 145.1 359.8 122.5 358.6 99.3 356.3 67.4 352.9 39.4 349.1 15.5M530.2 15.5 528.9 30.9 527.2 46.9 526 57.3 524.3 68.7 523.6 76.7 521 97.9 518.9 119.2 518.1 129.2 517 147.1 516.2 177.7 515.8 184.3 515.5 191 515.3 203 515.2 227.6" stroke="#1bffe4"/><path d="M360.4 227.6 360.3 198.3 360 177.7 359.8 145.1 359.1 122.5 357.8 98.6 355.7 67.4 352.3 40.1 348.5 15.5M530.5 15.5 528 44.6 526.4 59.7 525.2 68.7 524.6 76 523.6 84.6 520.3 118.5 519.4 130.5 518.5 147.1 518 177.7 517.5 185 517.3 193.7 517.1 227.6" stroke="#23ffdc"/><path d="M359.6 227.6 359.5 198.3 359.2 177.7 359 145.1 358.3 121.9 357.1 97.9 355 67.4 351.7 40.8 347.9 15.5M530.9 15.5 528.4 45.7 526.1 68 525.5 76 521.7 119.2 520.3 139.1 519.9 151.8 519.7 177.7 519.2 185 518.9 197 518.8 227.6" stroke="#2bffd4"/><path d="M358.8 227.6 358.8 198.3 358.4 177.7 358.3 145.1 357.6 121.9 356.4 97.9 354.3 66.7 351 40.8 347.4 15.5M531.2 15.5 528.9 46.3 526.7 68.7 522.9 120.5 521.8 139.8 521.4 152.4 521.3 177.7 520.8 185.7 520.5 198.3 520.4 227.6" stroke="#34ffcb"/><path d="M358.1 227.6 358.1 198.3 357.7 177.7 357.6 145.1 356.9 121.9 355.8 97.9 353.8 67.4 352 52.7 346.9 15.5M531.5 15.5 528.9 51.6 527.3 68.7 523.6 129.2 522.9 147.8 522.9 177.7 522.5 185 522.2 197 522.1 227.6" stroke="#3cffc3"/><path d="M357.4 227.6 357.4 198.3 357.1 177.7 356.9 144.5 356.3 121.9 355.1 97.3 353.2 67.4 346.5 15.5M531.9 15.5 529.3 51.7 527.8 68.7 524.8 125.8 524.1 147.1 524.2 177.7 523.6 197 523.5 227.6" stroke="#44ffbb"/><path d="M356.7 227.6 356.7 198.3 356.4 177.7 356.3 145.1 355.6 122.5 354.5 97.3 352.7 68 347.1 25.2 346.2 15.5M532.2 15.5 528.3 68.7 527 93.9 525.8 123.2 525.2 147.1 525.2 177.7 524.8 196.3 524.7 227.6" stroke="#4cffb3"/><path d="M356.1 227.6 356.1 198.3 355.8 177.7 355.6 145.1 355 121.9 354 97.3 353.3 84 352.1 68 347.1 29.2 345.9 15.5M532.5 15.5 528.8 68.7 527.5 95.3 526.6 119.2 526 147.1 526.1 177.7 525.7 197 525.6 227.6" stroke="#54ffab"/><path d="M355.5 227.6 355.4 198.3 355 145.1 354.4 121.2 353.6 99.3 352.7 84.6 351.5 68.7 347.1 33.3 346.3 24.7 345.7 15.5M532.9 15.5 529.2 68.7 527.9 96.6 527.1 119.2 526.6 146.5 526.6 177.7 526.4 198.3 526.3 227.6" stroke="#5dffa2"/><path d="M354.9 227.6 354.5 145.8 354 121.9 353.1 100.6 352.2 85.3 350.9 68.7 346.7 33.5 345.6 15.5M533.2 15.5 531.5 38.1 529.6 68 528.4 95.9 527.6 118.5 527.1 147.1 526.9 227.6" stroke="#65ff9a"/><path d="M354.4 227.6 354 147.8 353.3 117.2 352.4 97.9 351.5 82.6 350.3 68 346.7 37.4 345.9 26.7 345.5 15.5M533.6 15.5 531.9 38.1 530 68 528.1 117.9 527.6 147.1 527.3 227.6" stroke="#6dff92"/><path d="M354 227.6 353.6 149.1 352.9 118.5 352 99.3 351 84.6 349.7 68 347.1 45.9 346.3 36.6 345.5 21.9 345.4 15.5M534 15.5 532.1 38.8 530.3 68 528.5 117.9 528 147.8 527.7 227.6" stroke="#75ff8a"/><path d="M353.6 227.6 353.5 194.3 353.2 150.4 352.4 119.9 351.2 95.3 349.3 69.3 347.1 50.2 346.3 40.7 345.5 25.7 345.3 15.5M534.4 15.5 532.5 38.1 530.6 68 528.9 117.9 528.4 147.8 528.1 227.6" stroke="#7eff81"/><path d="M353.2 227.6 353.1 193.7 352.8 152.4 352 122.8 350.9 99.3 349.9 83.3 348.7 68 347.1 54.5 346.3 45.1 345.5 29.7 345.2 15.5M534.8 15.5 532.8 38.1 531 66.7 529.9 98.6 529.2 123.2 528.8 145.8 528.5 227.6" stroke="#86ff79"/><path d="M352.8 227.6 352.7 193 352.4 155.1 351.6 125.8 350.4 100.6 349.5 84.6 348.3 68.7 346.7 54.5 345.9 42.8 345.5 33.7 345.2 15.5M535.2 15.5 534.2 26.1 533.2 38.1 531.4 66.7 530.3 96.6 529.2 145.8 528.8 227.6" stroke="#8eff71"/><path d="M352.4 227.6 352.3 185 351.8 147.8 351.3 129.2 350.8 116.5 349.1 86 347.8 68.7 346.7 58.7 345.9 47 345.5 37.5 345.1 15.5M535.7 15.5 533.7 35.6 532.4 55.4 531.6 68.7 530.6 95.3 529.9 121.9 529.5 145.8 529.2 227.6" stroke="#96ff69"/><path d="M352 227.6 351.8 185 351.4 150.4 351 135.8 350.4 118.5 349.1 93.9 345.9 51.2 345.5 41.7 345.1 15.5M536.1 15.5 534.1 35.2 532.9 51.9 531.9 68 531 93.3 530.3 120.5 529.9 145.1 529.5 227.6" stroke="#9fff60"/><path d="M351.5 227.6 351.4 185 350.7 139.1 350 119.9 348.8 97.9 345.9 55.5 345.5 46 345 15.5M536.6 15.5 534.6 35 533.3 50.9 532.2 68 531.4 90.6 530.6 119.2 530.2 144.5 529.9 227.6" stroke="#a7ff58"/><path d="M351.1 227.6 351 185 350.3 141.8 349.5 120.5 348.6 101.3 346.8 75.3 345.5 50.3 345 15.5M537 15.5 535 34.9 533.7 50.1 532.5 68 531.7 88.6 530.9 119.2 530.5 143.8 530.2 227.6" stroke="#afff50"/><path d="M350.7 227.6 350.6 185 349.9 143.8 349 117.9 346.6 76.7 345.5 54.5 344.9 15.5M537.4 15.5 535.1 38.1 533.8 54.1 532.8 68 532.1 88 531.2 119.2 530.8 144.5 530.5 227.6" stroke="#b7ff48"/><path d="M350.3 227.6 350.2 185 349.5 145.1 348.6 119.9 346.3 78 345.5 58.7 344.9 15.5M537.8 15.5 535.4 38.8 534.1 54.3 533.2 68 532.4 88 531.5 119.2 531.1 143.8 530.8 227.6" stroke="#c0ff3f"/><path d="M349.9 227.6 349.8 185 349.1 147.1 348.3 123.9 346.3 83.6 345.5 62.9 344.8 15.5M538.2 15.5 535.8 39.1 534.2 58 533.5 68.7 532.6 89.3 531.8 119.2 531.4 144.5 531.1 227.6" stroke="#c8ff37"/><path d="M349.5 227.6 349.4 185 348.8 149.8 348.1 127.8 345.8 76 345.1 45.5 344.8 15.5M538.6 15.5 536.2 39.4 534.5 59.4 533.8 68.7 532.9 90 532.1 119.2 531.7 144.5 531.3 227.6" stroke="#d0ff2f"/><path d="M349.1 227.6 349 185.7 348.5 154.4 348 138.5 345.6 74.7 344.7 15.5M539 15.5 536.5 40.1 534.3 66.7 533.1 93.3 532.4 119.9 532 145.1 531.6 227.6" stroke="#d8ff27"/><path d="M348.7 227.6 348.6 185.7 348.2 161.1 347.7 142.5 345.5 79.2 344.7 18.2M539.3 15.5 536.9 40.8 534.6 66.7 533.4 94.6 532.7 120.5 532.2 145.1 531.9 227.6" stroke="#e1ff1e"/><path d="M348.3 227.6 348.1 178.4 347.4 145.1 345.5 85 344.7 22.7M539.7 15.5 535 67.3 533.7 95.3 532.9 121.2 532.5 145.4 532.2 227.6" stroke="#e9ff16"/><path d="M347.9 227.6 347.8 182.4 347.1 145.8 345.5 91.8 344.7 27.6M540 15.5 535.3 67.4 534 95.9 533.3 120.5 532.8 145.8 532.4 227.6" stroke="#f1ff0e"/><path d="M347.5 227.6 347.4 182.4 346.8 148.5 345.5 99 344.7 32.8M540.4 15.5 535.7 67.4 534.3 97.3 533.6 121.2 533.1 146.5 532.8 189.7 532.7 227.6" stroke="#f9ff06"/><path d="M347.2 227.6 347 182.4 346.5 147.8 345.5 107.2 344.7 37.8M540.7 15.5 536.1 67.4 534.6 97.9 533.9 121.9 533.4 146.5 533.1 189.7 533 227.6" stroke="#fffc00"/><path d="M346.8 227.6 346.7 182.4 345.5 112.6 344.7 43.4M541 15.5 536.4 68 534.9 98.6 534.2 121.9 533.7 146.5 533.3 189 533.3 227.6" stroke="#fff400"/><path d="M346.5 227.6 346.5 183.7 345.3 110.6 344.7 49M541.3 15.5 536.8 68 535.2 99.3 534.5 121.9 534 147.1 533.6 188.3 533.6 227.6" stroke="#ffec00"/><path d="M346.3 227.6 346.2 183 344.7 54.5M541.6 15.5 537.2 68 535.5 100.6 534.8 122.5 534.3 147.1 533.9 187 533.9 227.6" stroke="#ffe400"/><path d="M346 227.6 346 183.7 344.7 60M541.9 15.5 537.5 68.7 535.8 101.9 535.1 123.2 534.6 147.8 534.2 185.7 534.1 227.6" stroke="#ffdc00"/><path d="M345.8 227.6 345.8 183.7 344.7 65.4M542.2 15.5 539.9 46.1 537.9 68.7 536.6 91.8 535.6 116.5 534.8 154.4 534.5 187.7 534.4 227.6" stroke="#ffd300"/><path d="M345.6 227.6 345.6 184.3 344.7 73.6M542.5 15.5 540.3 45.4 538.3 68.7 536.9 93.3 535.9 117.9 535.1 155.8 534.8 187 534.7 227.6" stroke="#ffcb00"/><path d="M345.4 227.6 345.4 184.3 344.7 82.3M542.7 15.5 540.6 45.4 538.7 68.7 537.2 94.6 536.2 118.5 535.3 157.1 535 187 535 227.6" stroke="#ffc300"/><path d="M345.3 227.6 345.2 185 344.7 92.9M543 15.5 540.9 46.1 539.1 68.7 537.5 95.9 536.5 118.5 535.6 157.8 535.3 185.7 535.3 227.6" stroke="#ffbb00"/><path d="M345.1 227.6 344.7 106.5M543.3 15.5 541.2 46.7 539.4 68.7 537.9 96.6 536.8 119.9 536.2 142 535.9 160.4 535.6 186.3 535.5 227.6" stroke="#ffb200"/><path d="M345 227.6 344.7 120.6M543.5 15.5 541.5 46.9 539.8 68.7 538.2 97.3 537.1 122.5 536.4 147.1 535.9 182.4 535.8 227.6" stroke="#ffaa00"/><path d="M344.8 227.6 344.7 145.7M543.8 15.5 541.9 45.6 540.2 68.7 538.6 97.3 537.4 123.9 536.7 147.1 536.2 182.4 536.1 227.6" stroke="#ffa200"/><path d="M544 15.5 542.2 45.4 540.5 68.7 539 97.3 537.7 125.8 537 148.5 536.5 181.7 536.4 227.6" stroke="#ff9a00"/><path d="M544.2 15.5 542.5 45.4 540.9 68.7 539.3 97.9 538 128.5 537.4 148.5 536.8 182.4 536.7 227.6" stroke="#ff9100"/><path d="M544.4 15.5 542.8 46.1 541.2 68.7 539.7 98.6 538.3 131.2 537.7 149.8 537.1 183 537 227.6" stroke="#ff8900"/><path d="M544.6 15.5 543.1 44.7 541.6 68 540.8 84.6 538.5 137.1 537.5 183.7 537.4 227.6" stroke="#ff8100"/><path d="M544.8 15.5 543.4 44.1 541.9 68 541.1 84.6 538.8 139.1 537.8 184.3 537.7 227.6" stroke="#ff7900"/><path d="M545 15.5 543.6 45.4 542.3 68 541.4 85.3 539.1 140.5 538.2 184.3 538.1 227.6" stroke="#ff7000"/><path d="M545.2 15.5 543.9 45.1 541.7 86 539.5 141.8 538.6 184.3 538.5 227.6" stroke="#ff6800"/><path d="M545.4 15.5 544.1 47.4 542 87.3 539.9 142.5 539 184.3 538.9 227.6" stroke="#ff6000"/><path d="M545.6 15.5 542 95.9 540.3 142.5 539.4 185 539.3 227.6" stroke="#ff5800"/><path d="M545.8 15.5 542.3 96.6 540.7 142.5 539.8 185 539.7 227.6" stroke="#ff4f00"/><path d="M546 15.5 542.7 97.3 541.1 142.5 540.3 185 540.2 227.6" stroke="#ff4700"/><path d="M546.2 15.5 544 68.7 541.5 143.1 540.7 185 540.6 227.6" stroke="#ff3f00"/><path d="M546.4 15.5 544.3 68.7 541.9 143.1 541.1 185 541 227.6" stroke="#ff3700"/><path d="M546.6 15.5 544.6 68 542.3 143.8 541.6 185.7 541.5 227.6" stroke="#ff2e00"/><path d="M546.8 15.5 544.8 68 542.7 143.8 542 185.7 541.9 227.6" stroke="#ff2600"/><path d="M547 15.5 545 68.7 543.2 142.5 542.5 187 542.4 227.6" stroke="#ff1e00"/><path d="M547.1 15.5 545.3 68 543.6 139.8 543 189.7 542.9 227.6" stroke="#ff1600"/><path d="M547.3 15.5 545.5 68 544.2 126.5 543.5 189 543.4 227.6" stroke="#ff0e00"/><path d="M547.5 15.5 545.7 68 544.6 123.2 543.9 190.3 543.9 227.6" stroke="#ff0500"/><path d="M547.7 15.5 545.9 68 544.9 120.5 544.6 148.5 544.3 227.6" stroke="#fc0000"/><path d="M547.8 15.5 546.1 68 545.2 119.2 544.9 147.1 544.7 227.6" stroke="#f40000"/><path d="M548 16.2 546.3 68 545.5 119.2 545.3 146.5 545.1 227.6" stroke="#ec0000"/><path d="M548 21.2 546.5 68 545.8 118.5 545.5 146.5 545.4 227.6" stroke="#e30000"/><path d="M548 26.5 546.7 68.7 546 118.5 545.8 145.8 545.7 227.6" stroke="#db0000"/><path d="M548 32.4 546.9 68.7 546.2 119.2 546 227.6" stroke="#d30000"/><path d="M548 37.9 547.1 68.7 546.4 119.2 546.2 227.6" stroke="#cb0000"/><path d="M548 44.3 547.3 68.7 546.6 120.5 546.5 227.6" stroke="#c20000"/><path d="M548 50.6 547.5 69.3 546.8 121.2 546.7 227.6" stroke="#ba0000"/><path d="M548 56.8 547.4 84 547 123.2 546.9 227.6" stroke="#b20000"/><path d="M548 63.1 547.5 87.3 547.2 125.8 547.1 227.6" stroke="#aa0000"/><path d="M548 70.2 547.3 128.5 547.3 227.6" stroke="#a10000"/><path d="M548 81.8 547.5 137.1 547.5 227.6" stroke="#990000"/><path d="M548 95.6 547.7 140.5 547.7 227.6" stroke="#910000"/><path d="M548 115.4 547.9 227.6" stroke="#890000"/></g>
<line x1="332.8" y1="72" x2="559" y2="72" stroke="#000" stroke-width="2" stroke-dasharray="2.3 3"/>
<rect x="331.5" y="15.5" width="227.0" height="227.0" fill="none" stroke="#6e6e6e"/>
<line x1="331.5" y1="242.5" x2="334.0" y2="242.5" stroke="#6e6e6e"/>
<line x1="556.0" y1="242.5" x2="558.5" y2="242.5" stroke="#6e6e6e"/>
<line x1="331.5" y1="204.7" x2="334.0" y2="204.7" stroke="#6e6e6e"/>
<line x1="556.0" y1="204.7" x2="558.5" y2="204.7" stroke="#6e6e6e"/>
<line x1="331.5" y1="166.8" x2="334.0" y2="166.8" stroke="#6e6e6e"/>
<line x1="556.0" y1="166.8" x2="558.5" y2="166.8" stroke="#6e6e6e"/>
<line x1="331.5" y1="129.0" x2="334.0" y2="129.0" stroke="#6e6e6e"/>
<line x1="556.0" y1="129.0" x2="558.5" y2="129.0" stroke="#6e6e6e"/>
<line x1="331.5" y1="91.2" x2="334.0" y2="91.2" stroke="#6e6e6e"/>
<line x1="556.0" y1="91.2" x2="558.5" y2="91.2" stroke="#6e6e6e"/>
<line x1="331.5" y1="53.3" x2="334.0" y2="53.3" stroke="#6e6e6e"/>
<line x1="556.0" y1="53.3" x2="558.5" y2="53.3" stroke="#6e6e6e"/>
<line x1="331.5" y1="15.5" x2="334.0" y2="15.5" stroke="#6e6e6e"/>
<line x1="556.0" y1="15.5" x2="558.5" y2="15.5" stroke="#6e6e6e"/>
<line x1="331.5" y1="242.5" x2="331.5" y2="240.0" stroke="#6e6e6e"/>
<line x1="331.5" y1="15.5" x2="331.5" y2="18.0" stroke="#6e6e6e"/>
<line x1="388.2" y1="242.5" x2="388.2" y2="240.0" stroke="#6e6e6e"/>
<line x1="388.2" y1="15.5" x2="388.2" y2="18.0" stroke="#6e6e6e"/>
<line x1="445.0" y1="242.5" x2="445.0" y2="240.0" stroke="#6e6e6e"/>
<line x1="445.0" y1="15.5" x2="445.0" y2="18.0" stroke="#6e6e6e"/>
<line x1="501.8" y1="242.5" x2="501.8" y2="240.0" stroke="#6e6e6e"/>
<line x1="501.8" y1="15.5" x2="501.8" y2="18.0" stroke="#6e6e6e"/>
<line x1="558.5" y1="242.5" x2="558.5" y2="240.0" stroke="#6e6e6e"/>
<line x1="558.5" y1="15.5" x2="558.5" y2="18.0" stroke="#6e6e6e"/>
<rect x="260.7" y="6.20" width="14.100000000000023" height="3.73" fill="#870000" shape-rendering="crispEdges"/>
<rect x="260.7" y="9.88" width="14.100000000000023" height="3.73" fill="#970000" shape-rendering="crispEdges"/>
<rect x="260.7" y="13.55" width="14.100000000000023" height="3.73" fill="#a70000" shape-rendering="crispEdges"/>
<rect x="260.7" y="17.23" width="14.100000000000023" height="3.73" fill="#b70000" shape-rendering="crispEdges"/>
<rect x="260.7" y="20.90" width="14.100000000000023" height="3.73" fill="#c70000" shape-rendering="crispEdges"/>
<rect x="260.7" y="24.57" width="14.100000000000023" height="3.73" fill="#d70000" shape-rendering="crispEdges"/>
<rect x="260.7" y="28.25" width="14.100000000000023" height="3.73" fill="#e70000" shape-rendering="crispEdges"/>
<rect x="260.7" y="31.93" width="14.100000000000023" height="3.73" fill="#f70000" shape-rendering="crispEdges"/>
<rect x="260.7" y="35.60" width="14.100000000000023" height="3.73" fill="#ff0800" shape-rendering="crispEdges"/>
<rect x="260.7" y="39.28" width="14.100000000000023" height="3.73" fill="#ff1800" shape-rendering="crispEdges"/>
<rect x="260.7" y="42.95" width="14.100000000000023" height="3.73" fill="#ff2800" shape-rendering="crispEdges"/>
<rect x="260.7" y="46.63" width="14.100000000000023" height="3.73" fill="#ff3800" shape-rendering="crispEdges"/>
<rect x="260.7" y="50.30" width="14.100000000000023" height="3.73" fill="#ff4800" shape-rendering="crispEdges"/>
<rect x="260.7" y="53.98" width="14.100000000000023" height="3.73" fill="#ff5800" shape-rendering="crispEdges"/>
<rect x="260.7" y="57.65" width="14.100000000000023" height="3.73" fill="#ff6800" shape-rendering="crispEdges"/>
<rect x="260.7" y="61.33" width="14.100000000000023" height="3.73" fill="#ff7800" shape-rendering="crispEdges"/>
<rect x="260.7" y="65.00" width="14.100000000000023" height="3.73" fill="#ff8700" shape-rendering="crispEdges"/>
<rect x="260.7" y="68.67" width="14.100000000000023" height="3.73" fill="#ff9700" shape-rendering="crispEdges"/>
<rect x="260.7" y="72.35" width="14.100000000000023" height="3.73" fill="#ffa700" shape-rendering="crispEdges"/>
<rect x="260.7" y="76.03" width="14.100000000000023" height="3.73" fill="#ffb700" shape-rendering="crispEdges"/>
<rect x="260.7" y="79.70" width="14.100000000000023" height="3.73" fill="#ffc700" shape-rendering="crispEdges"/>
<rect x="260.7" y="83.38" width="14.100000000000023" height="3.73" fill="#ffd700" shape-rendering="crispEdges"/>
<rect x="260.7" y="87.05" width="14.100000000000023" height="3.73" fill="#ffe700" shape-rendering="crispEdges"/>
<rect x="260.7" y="90.73" width="14.100000000000023" height="3.73" fill="#fff700" shape-rendering="crispEdges"/>
<rect x="260.7" y="94.40" width="14.100000000000023" height="3.73" fill="#f7ff08" shape-rendering="crispEdges"/>
<rect x="260.7" y="98.08" width="14.100000000000023" height="3.73" fill="#e7ff18" shape-rendering="crispEdges"/>
<rect x="260.7" y="101.75" width="14.100000000000023" height="3.73" fill="#d7ff28" shape-rendering="crispEdges"/>
<rect x="260.7" y="105.43" width="14.100000000000023" height="3.73" fill="#c7ff38" shape-rendering="crispEdges"/>
<rect x="260.7" y="109.10" width="14.100000000000023" height="3.73" fill="#b7ff48" shape-rendering="crispEdges"/>
<rect x="260.7" y="112.78" width="14.100000000000023" height="3.73" fill="#a7ff58" shape-rendering="crispEdges"/>
<rect x="260.7" y="116.45" width="14.100000000000023" height="3.73" fill="#97ff68" shape-rendering="crispEdges"/>
<rect x="260.7" y="120.13" width="14.100000000000023" height="3.73" fill="#87ff78" shape-rendering="crispEdges"/>
<rect x="260.7" y="123.80" width="14.100000000000023" height="3.73" fill="#78ff87" shape-rendering="crispEdges"/>
<rect x="260.7" y="127.48" width="14.100000000000023" height="3.73" fill="#68ff97" shape-rendering="crispEdges"/>
<rect x="260.7" y="131.15" width="14.100000000000023" height="3.73" fill="#58ffa7" shape-rendering="crispEdges"/>
<rect x="260.7" y="134.82" width="14.100000000000023" height="3.73" fill="#48ffb7" shape-rendering="crispEdges"/>
<rect x="260.7" y="138.50" width="14.100000000000023" height="3.73" fill="#38ffc7" shape-rendering="crispEdges"/>
<rect x="260.7" y="142.18" width="14.100000000000023" height="3.73" fill="#28ffd7" shape-rendering="crispEdges"/>
<rect x="260.7" y="145.85" width="14.100000000000023" height="3.73" fill="#18ffe7" shape-rendering="crispEdges"/>
<rect x="260.7" y="149.53" width="14.100000000000023" height="3.73" fill="#08fff7" shape-rendering="crispEdges"/>
<rect x="260.7" y="153.20" width="14.100000000000023" height="3.73" fill="#00f7ff" shape-rendering="crispEdges"/>
<rect x="260.7" y="156.88" width="14.100000000000023" height="3.73" fill="#00e7ff" shape-rendering="crispEdges"/>
<rect x="260.7" y="160.55" width="14.100000000000023" height="3.73" fill="#00d7ff" shape-rendering="crispEdges"/>
<rect x="260.7" y="164.22" width="14.100000000000023" height="3.73" fill="#00c7ff" shape-rendering="crispEdges"/>
<rect x="260.7" y="167.90" width="14.100000000000023" height="3.73" fill="#00b7ff" shape-rendering="crispEdges"/>
<rect x="260.7" y="171.57" width="14.100000000000023" height="3.73" fill="#00a7ff" shape-rendering="crispEdges"/>
<rect x="260.7" y="175.25" width="14.100000000000023" height="3.73" fill="#0097ff" shape-rendering="crispEdges"/>
<rect x="260.7" y="178.93" width="14.100000000000023" height="3.73" fill="#0087ff" shape-rendering="crispEdges"/>
<rect x="260.7" y="182.60" width="14.100000000000023" height="3.73" fill="#0078ff" shape-rendering="crispEdges"/>
<rect x="260.7" y="186.28" width="14.100000000000023" height="3.73" fill="#0068ff" shape-rendering="crispEdges"/>
<rect x="260.7" y="189.95" width="14.100000000000023" height="3.73" fill="#0058ff" shape-rendering="crispEdges"/>
<rect x="260.7" y="193.62" width="14.100000000000023" height="3.73" fill="#0048ff" shape-rendering="crispEdges"/>
<rect x="260.7" y="197.30" width="14.100000000000023" height="3.73" fill="#0038ff" shape-rendering="crispEdges"/>
<rect x="260.7" y="200.97" width="14.100000000000023" height="3.73" fill="#0028ff" shape-rendering="crispEdges"/>
<rect x="260.7" y="204.65" width="14.100000000000023" height="3.73" fill="#0018ff" shape-rendering="crispEdges"/>
<rect x="260.7" y="208.33" width="14.100000000000023" height="3.73" fill="#0008ff" shape-rendering="crispEdges"/>
<rect x="260.7" y="212.00" width="14.100000000000023" height="3.73" fill="#0000f7" shape-rendering="crispEdges"/>
<rect x="260.7" y="215.68" width="14.100000000000023" height="3.73" fill="#0000e7" shape-rendering="crispEdges"/>
<rect x="260.7" y="219.35" width="14.100000000000023" height="3.73" fill="#0000d7" shape-rendering="crispEdges"/>
<rect x="260.7" y="223.03" width="14.100000000000023" height="3.73" fill="#0000c7" shape-rendering="crispEdges"/>
<rect x="260.7" y="226.70" width="14.100000000000023" height="3.73" fill="#0000b7" shape-rendering="crispEdges"/>
<rect x="260.7" y="230.38" width="14.100000000000023" height="3.73" fill="#0000a7" shape-rendering="crispEdges"/>
<rect x="260.7" y="234.05" width="14.100000000000023" height="3.73" fill="#000097" shape-rendering="crispEdges"/>
<rect x="260.7" y="237.72" width="14.100000000000023" height="3.73" fill="#000087" shape-rendering="crispEdges"/>
<rect x="260.7" y="6.2" width="14.100000000000023" height="235.20000000000002" fill="none" stroke="#333" stroke-width="0.6"/>
<line x1="260.7" y1="54.1" x2="262.7" y2="54.1" stroke="#222"/>
<line x1="272.8" y1="54.1" x2="274.8" y2="54.1" stroke="#222"/>
<line x1="260.7" y1="102.75" x2="262.7" y2="102.75" stroke="#222"/>
<line x1="272.8" y1="102.75" x2="274.8" y2="102.75" stroke="#222"/>
<line x1="260.7" y1="151.4" x2="262.7" y2="151.4" stroke="#222"/>
<line x1="272.8" y1="151.4" x2="274.8" y2="151.4" stroke="#222"/>
<line x1="260.7" y1="200.05" x2="262.7" y2="200.05" stroke="#222"/>
<line x1="272.8" y1="200.05" x2="274.8" y2="200.05" stroke="#222"/>
<rect x="575.4" y="5.50" width="13.700000000000045" height="3.70" fill="#870000" shape-rendering="crispEdges"/>
<rect x="575.4" y="9.15" width="13.700000000000045" height="3.70" fill="#970000" shape-rendering="crispEdges"/>
<rect x="575.4" y="12.80" width="13.700000000000045" height="3.70" fill="#a70000" shape-rendering="crispEdges"/>
<rect x="575.4" y="16.45" width="13.700000000000045" height="3.70" fill="#b70000" shape-rendering="crispEdges"/>
<rect x="575.4" y="20.09" width="13.700000000000045" height="3.70" fill="#c70000" shape-rendering="crispEdges"/>
<rect x="575.4" y="23.74" width="13.700000000000045" height="3.70" fill="#d70000" shape-rendering="crispEdges"/>
<rect x="575.4" y="27.39" width="13.700000000000045" height="3.70" fill="#e70000" shape-rendering="crispEdges"/>
<rect x="575.4" y="31.04" width="13.700000000000045" height="3.70" fill="#f70000" shape-rendering="crispEdges"/>
<rect x="575.4" y="34.69" width="13.700000000000045" height="3.70" fill="#ff0800" shape-rendering="crispEdges"/>
<rect x="575.4" y="38.34" width="13.700000000000045" height="3.70" fill="#ff1800" shape-rendering="crispEdges"/>
<rect x="575.4" y="41.98" width="13.700000000000045" height="3.70" fill="#ff2800" shape-rendering="crispEdges"/>
<rect x="575.4" y="45.63" width="13.700000000000045" height="3.70" fill="#ff3800" shape-rendering="crispEdges"/>
<rect x="575.4" y="49.28" width="13.700000000000045" height="3.70" fill="#ff4800" shape-rendering="crispEdges"/>
<rect x="575.4" y="52.93" width="13.700000000000045" height="3.70" fill="#ff5800" shape-rendering="crispEdges"/>
<rect x="575.4" y="56.58" width="13.700000000000045" height="3.70" fill="#ff6800" shape-rendering="crispEdges"/>
<rect x="575.4" y="60.23" width="13.700000000000045" height="3.70" fill="#ff7800" shape-rendering="crispEdges"/>
<rect x="575.4" y="63.88" width="13.700000000000045" height="3.70" fill="#ff8700" shape-rendering="crispEdges"/>
<rect x="575.4" y="67.52" width="13.700000000000045" height="3.70" fill="#ff9700" shape-rendering="crispEdges"/>
<rect x="575.4" y="71.17" width="13.700000000000045" height="3.70" fill="#ffa700" shape-rendering="crispEdges"/>
<rect x="575.4" y="74.82" width="13.700000000000045" height="3.70" fill="#ffb700" shape-rendering="crispEdges"/>
<rect x="575.4" y="78.47" width="13.700000000000045" height="3.70" fill="#ffc700" shape-rendering="crispEdges"/>
<rect x="575.4" y="82.12" width="13.700000000000045" height="3.70" fill="#ffd700" shape-rendering="crispEdges"/>
<rect x="575.4" y="85.77" width="13.700000000000045" height="3.70" fill="#ffe700" shape-rendering="crispEdges"/>
<rect x="575.4" y="89.41" width="13.700000000000045" height="3.70" fill="#fff700" shape-rendering="crispEdges"/>
<rect x="575.4" y="93.06" width="13.700000000000045" height="3.70" fill="#f7ff08" shape-rendering="crispEdges"/>
<rect x="575.4" y="96.71" width="13.700000000000045" height="3.70" fill="#e7ff18" shape-rendering="crispEdges"/>
<rect x="575.4" y="100.36" width="13.700000000000045" height="3.70" fill="#d7ff28" shape-rendering="crispEdges"/>
<rect x="575.4" y="104.01" width="13.700000000000045" height="3.70" fill="#c7ff38" shape-rendering="crispEdges"/>
<rect x="575.4" y="107.66" width="13.700000000000045" height="3.70" fill="#b7ff48" shape-rendering="crispEdges"/>
<rect x="575.4" y="111.30" width="13.700000000000045" height="3.70" fill="#a7ff58" shape-rendering="crispEdges"/>
<rect x="575.4" y="114.95" width="13.700000000000045" height="3.70" fill="#97ff68" shape-rendering="crispEdges"/>
<rect x="575.4" y="118.60" width="13.700000000000045" height="3.70" fill="#87ff78" shape-rendering="crispEdges"/>
<rect x="575.4" y="122.25" width="13.700000000000045" height="3.70" fill="#78ff87" shape-rendering="crispEdges"/>
<rect x="575.4" y="125.90" width="13.700000000000045" height="3.70" fill="#68ff97" shape-rendering="crispEdges"/>
<rect x="575.4" y="129.55" width="13.700000000000045" height="3.70" fill="#58ffa7" shape-rendering="crispEdges"/>
<rect x="575.4" y="133.20" width="13.700000000000045" height="3.70" fill="#48ffb7" shape-rendering="crispEdges"/>
<rect x="575.4" y="136.84" width="13.700000000000045" height="3.70" fill="#38ffc7" shape-rendering="crispEdges"/>
<rect x="575.4" y="140.49" width="13.700000000000045" height="3.70" fill="#28ffd7" shape-rendering="crispEdges"/>
<rect x="575.4" y="144.14" width="13.700000000000045" height="3.70" fill="#18ffe7" shape-rendering="crispEdges"/>
<rect x="575.4" y="147.79" width="13.700000000000045" height="3.70" fill="#08fff7" shape-rendering="crispEdges"/>
<rect x="575.4" y="151.44" width="13.700000000000045" height="3.70" fill="#00f7ff" shape-rendering="crispEdges"/>
<rect x="575.4" y="155.09" width="13.700000000000045" height="3.70" fill="#00e7ff" shape-rendering="crispEdges"/>
<rect x="575.4" y="158.73" width="13.700000000000045" height="3.70" fill="#00d7ff" shape-rendering="crispEdges"/>
<rect x="575.4" y="162.38" width="13.700000000000045" height="3.70" fill="#00c7ff" shape-rendering="crispEdges"/>
<rect x="575.4" y="166.03" width="13.700000000000045" height="3.70" fill="#00b7ff" shape-rendering="crispEdges"/>
<rect x="575.4" y="169.68" width="13.700000000000045" height="3.70" fill="#00a7ff" shape-rendering="crispEdges"/>
<rect x="575.4" y="173.33" width="13.700000000000045" height="3.70" fill="#0097ff" shape-rendering="crispEdges"/>
<rect x="575.4" y="176.98" width="13.700000000000045" height="3.70" fill="#0087ff" shape-rendering="crispEdges"/>
<rect x="575.4" y="180.62" width="13.700000000000045" height="3.70" fill="#0078ff" shape-rendering="crispEdges"/>
<rect x="575.4" y="184.27" width="13.700000000000045" height="3.70" fill="#0068ff" shape-rendering="crispEdges"/>
<rect x="575.4" y="187.92" width="13.700000000000045" height="3.70" fill="#0058ff" shape-rendering="crispEdges"/>
<rect x="575.4" y="191.57" width="13.700000000000045" height="3.70" fill="#0048ff" shape-rendering="crispEdges"/>
<rect x="575.4" y="195.22" width="13.700000000000045" height="3.70" fill="#0038ff" shape-rendering="crispEdges"/>
<rect x="575.4" y="198.87" width="13.700000000000045" height="3.70" fill="#0028ff" shape-rendering="crispEdges"/>
<rect x="575.4" y="202.52" width="13.700000000000045" height="3.70" fill="#0018ff" shape-rendering="crispEdges"/>
<rect x="575.4" y="206.16" width="13.700000000000045" height="3.70" fill="#0008ff" shape-rendering="crispEdges"/>
<rect x="575.4" y="209.81" width="13.700000000000045" height="3.70" fill="#0000f7" shape-rendering="crispEdges"/>
<rect x="575.4" y="213.46" width="13.700000000000045" height="3.70" fill="#0000e7" shape-rendering="crispEdges"/>
<rect x="575.4" y="217.11" width="13.700000000000045" height="3.70" fill="#0000d7" shape-rendering="crispEdges"/>
<rect x="575.4" y="220.76" width="13.700000000000045" height="3.70" fill="#0000c7" shape-rendering="crispEdges"/>
<rect x="575.4" y="224.41" width="13.700000000000045" height="3.70" fill="#0000b7" shape-rendering="crispEdges"/>
<rect x="575.4" y="228.05" width="13.700000000000045" height="3.70" fill="#0000a7" shape-rendering="crispEdges"/>
<rect x="575.4" y="231.70" width="13.700000000000045" height="3.70" fill="#000097" shape-rendering="crispEdges"/>
<rect x="575.4" y="235.35" width="13.700000000000045" height="3.70" fill="#000087" shape-rendering="crispEdges"/>
<rect x="575.4" y="5.5" width="13.700000000000045" height="233.5" fill="none" stroke="#333" stroke-width="0.6"/>
<line x1="575.4" y1="44.7" x2="577.4" y2="44.7" stroke="#222"/>
<line x1="587.1" y1="44.7" x2="589.1" y2="44.7" stroke="#222"/>
<line x1="575.4" y1="87.05" x2="577.4" y2="87.05" stroke="#222"/>
<line x1="587.1" y1="87.05" x2="589.1" y2="87.05" stroke="#222"/>
<line x1="575.4" y1="129.4" x2="577.4" y2="129.4" stroke="#222"/>
<line x1="587.1" y1="129.4" x2="589.1" y2="129.4" stroke="#222"/>
<line x1="575.4" y1="171.75" x2="577.4" y2="171.75" stroke="#222"/>
<line x1="587.1" y1="171.75" x2="589.1" y2="171.75" stroke="#222"/>
<line x1="575.4" y1="214.1" x2="577.4" y2="214.1" stroke="#222"/>
<line x1="587.1" y1="214.1" x2="589.1" y2="214.1" stroke="#222"/>
<text x="0.65" y="14.9" font-size="20.37" text-anchor="start">(a)</text>
<text x="288.45" y="15.75" font-size="21.18" text-anchor="start">(b)</text>
<text x="36.85" y="73.15" font-size="11" text-anchor="end">1</text>
<text x="36.6" y="99.95" font-size="11" text-anchor="end">0.5</text>
<text x="37.2" y="126.55" font-size="11" text-anchor="end">0</text>
<text x="37.65" y="155.68" font-size="11" text-anchor="end">-0.5</text>
<text x="37.7" y="182.6" font-size="11" text-anchor="end">-1</text>
<text x="37.65" y="209.12" font-size="11" text-anchor="end">-1.5</text>
<text x="32.7" y="219.6" font-size="11" text-anchor="middle">10</text>
<text x="83.8" y="244.3" font-size="11" text-anchor="middle">0</text>
<text x="128.25" y="268.25" font-size="11" text-anchor="middle">-10</text>
<text x="149.7" y="268.25" font-size="11" text-anchor="middle">12</text>
<text x="179.85" y="251.8" font-size="11" text-anchor="middle">8</text>
<text x="212.95" y="235.5" font-size="11" text-anchor="middle">4</text>
<text x="245.15" y="219.2" font-size="11" text-anchor="middle">0</text>
<text x="6.5" y="255.7" font-size="12.48" text-anchor="start">Twist angle</text>
<text x="66.95" y="256" font-size="13.5" text-anchor="start"><tspan font-style="italic">&#x3d5;</tspan></text>
<text x="78.35" y="256.7" font-size="12.95" text-anchor="start">[deg]</text>
<text x="199.45" y="259.2" font-size="11.88" text-anchor="start">Ply number [-]</text>
<text x="13.3" y="214.35" font-size="12.94" text-anchor="start" transform="rotate(-90 13.3 214.35)">Normalised twist moment [-]</text>
<text x="329.95" y="19.05" font-size="12" text-anchor="end">12</text>
<text x="330.4" y="95.4" font-size="12" text-anchor="end">8</text>
<text x="330.4" y="171.1" font-size="12" text-anchor="end">4</text>
<text x="330.5" y="246" font-size="12" text-anchor="end">0</text>
<text x="331.2" y="254.25" font-size="12" text-anchor="middle">10</text>
<text x="388.3" y="254.25" font-size="12" text-anchor="middle">5</text>
<text x="444.75" y="254.25" font-size="12" text-anchor="middle">0</text>
<text x="499.95" y="254.4" font-size="12" text-anchor="middle">-5</text>
<text x="556.8" y="254.4" font-size="12" text-anchor="middle">-10</text>
<text x="402.4" y="268.7" font-size="12.39" text-anchor="start">Twist angle</text>
<text x="463.95" y="268.8" font-size="13.5" text-anchor="start"><tspan font-style="italic">&#x3d5;</tspan></text>
<text x="474.7" y="268.2" font-size="12.8" text-anchor="start">[deg]</text>
<text x="316" y="157.6" font-size="11.97" text-anchor="start" transform="rotate(-90 316 157.6)">Ply number [-]</text>
<text x="274" y="11.35" font-size="11" text-anchor="start">1</text>
<text x="274.65" y="59.05" font-size="11" text-anchor="start">0.5</text>
<text x="274.8" y="106.75" font-size="11" text-anchor="start">0</text>
<text x="274.4" y="154.9" font-size="11" text-anchor="start">-0.5</text>
<text x="275.5" y="204" font-size="11" text-anchor="start">-1</text>
<text x="589" y="49.45" font-size="12" text-anchor="start">0.8</text>
<text x="589" y="91.9" font-size="12" text-anchor="start">0.6</text>
<text x="588.8" y="134.3" font-size="12" text-anchor="start">0.4</text>
<text x="589" y="176.6" font-size="12" text-anchor="start">0.2</text>
<text x="589.4" y="218.9" font-size="12" text-anchor="start">0</text>
</svg>
</body></html>
